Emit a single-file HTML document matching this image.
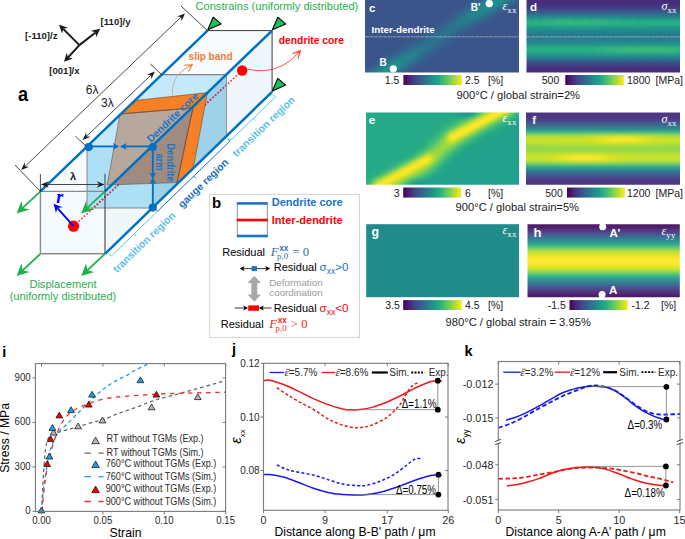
<!DOCTYPE html>
<html><head><meta charset="utf-8"><style>html,body{margin:0;padding:0;background:#fff;width:685px;height:539px;overflow:hidden}svg{display:block}</style></head>
<body><svg width="685" height="539" viewBox="0 0 685 539"><defs><clipPath id="hc1"><rect x="365" y="-1" width="154" height="73.6"/></clipPath><filter id="hf1" x="-10%" y="-10%" width="120%" height="120%"><feGaussianBlur stdDeviation="1.6"/></filter><clipPath id="hc2"><rect x="526.5" y="-1" width="153.5" height="73.6"/></clipPath><filter id="hf2" x="-10%" y="-10%" width="120%" height="120%"><feGaussianBlur stdDeviation="1.6"/></filter><clipPath id="hc3"><rect x="366" y="112.6" width="153" height="72.2"/></clipPath><filter id="hf3" x="-10%" y="-10%" width="120%" height="120%"><feGaussianBlur stdDeviation="1.6"/></filter><clipPath id="hc4"><rect x="526" y="112.4" width="154" height="72.4"/></clipPath><filter id="hf4" x="-10%" y="-10%" width="120%" height="120%"><feGaussianBlur stdDeviation="1.6"/></filter><clipPath id="hc5"><rect x="527.5" y="224.3" width="152.3" height="73"/></clipPath><filter id="hf5" x="-10%" y="-10%" width="120%" height="120%"><feGaussianBlur stdDeviation="0.8"/></filter><linearGradient id="cb10" x1="0" y1="0" x2="1" y2="0"><stop offset="0.00" stop-color="#440154"/><stop offset="0.10" stop-color="#482475"/><stop offset="0.20" stop-color="#414487"/><stop offset="0.30" stop-color="#355f8d"/><stop offset="0.40" stop-color="#2a788e"/><stop offset="0.50" stop-color="#21918c"/><stop offset="0.60" stop-color="#22a884"/><stop offset="0.70" stop-color="#44bf70"/><stop offset="0.80" stop-color="#7ad151"/><stop offset="0.90" stop-color="#bddf26"/><stop offset="1.00" stop-color="#fde725"/></linearGradient><linearGradient id="cb11" x1="0" y1="0" x2="1" y2="0"><stop offset="0.00" stop-color="#440154"/><stop offset="0.10" stop-color="#482475"/><stop offset="0.20" stop-color="#414487"/><stop offset="0.30" stop-color="#355f8d"/><stop offset="0.40" stop-color="#2a788e"/><stop offset="0.50" stop-color="#21918c"/><stop offset="0.60" stop-color="#22a884"/><stop offset="0.70" stop-color="#44bf70"/><stop offset="0.80" stop-color="#7ad151"/><stop offset="0.90" stop-color="#bddf26"/><stop offset="1.00" stop-color="#fde725"/></linearGradient><linearGradient id="cb12" x1="0" y1="0" x2="1" y2="0"><stop offset="0.00" stop-color="#440154"/><stop offset="0.10" stop-color="#482475"/><stop offset="0.20" stop-color="#414487"/><stop offset="0.30" stop-color="#355f8d"/><stop offset="0.40" stop-color="#2a788e"/><stop offset="0.50" stop-color="#21918c"/><stop offset="0.60" stop-color="#22a884"/><stop offset="0.70" stop-color="#44bf70"/><stop offset="0.80" stop-color="#7ad151"/><stop offset="0.90" stop-color="#bddf26"/><stop offset="1.00" stop-color="#fde725"/></linearGradient><linearGradient id="cb13" x1="0" y1="0" x2="1" y2="0"><stop offset="0.00" stop-color="#440154"/><stop offset="0.10" stop-color="#482475"/><stop offset="0.20" stop-color="#414487"/><stop offset="0.30" stop-color="#355f8d"/><stop offset="0.40" stop-color="#2a788e"/><stop offset="0.50" stop-color="#21918c"/><stop offset="0.60" stop-color="#22a884"/><stop offset="0.70" stop-color="#44bf70"/><stop offset="0.80" stop-color="#7ad151"/><stop offset="0.90" stop-color="#bddf26"/><stop offset="1.00" stop-color="#fde725"/></linearGradient><linearGradient id="cb14" x1="0" y1="0" x2="1" y2="0"><stop offset="0.00" stop-color="#440154"/><stop offset="0.10" stop-color="#482475"/><stop offset="0.20" stop-color="#414487"/><stop offset="0.30" stop-color="#355f8d"/><stop offset="0.40" stop-color="#2a788e"/><stop offset="0.50" stop-color="#21918c"/><stop offset="0.60" stop-color="#22a884"/><stop offset="0.70" stop-color="#44bf70"/><stop offset="0.80" stop-color="#7ad151"/><stop offset="0.90" stop-color="#bddf26"/><stop offset="1.00" stop-color="#fde725"/></linearGradient><linearGradient id="cb15" x1="0" y1="0" x2="1" y2="0"><stop offset="0.00" stop-color="#440154"/><stop offset="0.10" stop-color="#482475"/><stop offset="0.20" stop-color="#414487"/><stop offset="0.30" stop-color="#355f8d"/><stop offset="0.40" stop-color="#2a788e"/><stop offset="0.50" stop-color="#21918c"/><stop offset="0.60" stop-color="#22a884"/><stop offset="0.70" stop-color="#44bf70"/><stop offset="0.80" stop-color="#7ad151"/><stop offset="0.90" stop-color="#bddf26"/><stop offset="1.00" stop-color="#fde725"/></linearGradient><clipPath id="gaugeclip"><polygon points="87.00,208.00 87.00,146.50 161.70,74.70 226.50,74.70 226.50,136.80 152.80,208.00"/></clipPath><clipPath id="aboveL2"><polygon points="0,0 300,0 300,3.75 0,292.44"/></clipPath><clipPath id="belowL2"><polygon points="0,400 300,400 300,3.75 0,292.44"/></clipPath><clipPath id="ci"><rect x="35.4" y="363.6" width="190.2" height="147.8"/></clipPath><clipPath id="cj"><rect x="263.5" y="363.3" width="184.5" height="147"/></clipPath><clipPath id="ck"><rect x="498.3" y="361.5" width="181.7" height="148.5"/></clipPath></defs><g clip-path="url(#hc1)"><g filter="url(#hf1)"><rect x="359.0" y="-7.0" width="114.3" height="3.3" fill="#3a548c"/><rect x="473.0" y="-7.0" width="6.3" height="3.3" fill="#39558c"/><rect x="479.0" y="-7.0" width="3.3" height="3.3" fill="#38588c"/><rect x="482.0" y="-7.0" width="3.3" height="3.3" fill="#375a8c"/><rect x="485.0" y="-7.0" width="3.3" height="3.3" fill="#355e8d"/><rect x="488.0" y="-7.0" width="3.3" height="3.3" fill="#32648e"/><rect x="491.0" y="-7.0" width="3.3" height="3.3" fill="#2e6d8e"/><rect x="494.0" y="-7.0" width="3.3" height="3.3" fill="#2a768e"/><rect x="497.0" y="-7.0" width="3.3" height="3.3" fill="#27808e"/><rect x="500.0" y="-7.0" width="3.3" height="3.3" fill="#23898e"/><rect x="503.0" y="-7.0" width="3.3" height="3.3" fill="#218f8d"/><rect x="506.0" y="-7.0" width="3.3" height="3.3" fill="#21918c"/><rect x="509.0" y="-7.0" width="3.3" height="3.3" fill="#218e8d"/><rect x="512.0" y="-7.0" width="3.3" height="3.3" fill="#24878e"/><rect x="515.0" y="-7.0" width="3.3" height="3.3" fill="#277e8e"/><rect x="518.0" y="-7.0" width="3.3" height="3.3" fill="#2b748e"/><rect x="521.0" y="-7.0" width="3.3" height="3.3" fill="#2f6b8e"/><rect x="524.0" y="-7.0" width="3.3" height="3.3" fill="#33638d"/><rect x="359.0" y="-4.0" width="111.3" height="3.3" fill="#3a548c"/><rect x="470.0" y="-4.0" width="3.3" height="3.3" fill="#39558c"/><rect x="473.0" y="-4.0" width="3.3" height="3.3" fill="#39568c"/><rect x="476.0" y="-4.0" width="3.3" height="3.3" fill="#38598c"/><rect x="479.0" y="-4.0" width="3.3" height="3.3" fill="#365d8d"/><rect x="482.0" y="-4.0" width="3.3" height="3.3" fill="#33628d"/><rect x="485.0" y="-4.0" width="3.3" height="3.3" fill="#306a8e"/><rect x="488.0" y="-4.0" width="3.3" height="3.3" fill="#2c728e"/><rect x="491.0" y="-4.0" width="3.3" height="3.3" fill="#287d8e"/><rect x="494.0" y="-4.0" width="3.3" height="3.3" fill="#24868e"/><rect x="497.0" y="-4.0" width="3.3" height="3.3" fill="#218e8d"/><rect x="500.0" y="-4.0" width="6.3" height="3.3" fill="#20928c"/><rect x="506.0" y="-4.0" width="3.3" height="3.3" fill="#228c8d"/><rect x="509.0" y="-4.0" width="3.3" height="3.3" fill="#25838e"/><rect x="512.0" y="-4.0" width="3.3" height="3.3" fill="#29798e"/><rect x="515.0" y="-4.0" width="3.3" height="3.3" fill="#2d708e"/><rect x="518.0" y="-4.0" width="3.3" height="3.3" fill="#31678e"/><rect x="521.0" y="-4.0" width="3.3" height="3.3" fill="#34608d"/><rect x="524.0" y="-4.0" width="3.3" height="3.3" fill="#375b8d"/><rect x="359.0" y="-1.0" width="105.3" height="3.3" fill="#3a548c"/><rect x="464.0" y="-1.0" width="3.3" height="3.3" fill="#39558c"/><rect x="467.0" y="-1.0" width="3.3" height="3.3" fill="#39568c"/><rect x="470.0" y="-1.0" width="3.3" height="3.3" fill="#38588c"/><rect x="473.0" y="-1.0" width="3.3" height="3.3" fill="#375b8d"/><rect x="476.0" y="-1.0" width="3.3" height="3.3" fill="#355f8d"/><rect x="479.0" y="-1.0" width="3.3" height="3.3" fill="#31668e"/><rect x="482.0" y="-1.0" width="3.3" height="3.3" fill="#2e6f8e"/><rect x="485.0" y="-1.0" width="3.3" height="3.3" fill="#29798e"/><rect x="488.0" y="-1.0" width="3.3" height="3.3" fill="#26828e"/><rect x="491.0" y="-1.0" width="3.3" height="3.3" fill="#228c8d"/><rect x="494.0" y="-1.0" width="6.3" height="3.3" fill="#20928c"/><rect x="500.0" y="-1.0" width="3.3" height="3.3" fill="#218f8d"/><rect x="503.0" y="-1.0" width="3.3" height="3.3" fill="#24878e"/><rect x="506.0" y="-1.0" width="3.3" height="3.3" fill="#277e8e"/><rect x="509.0" y="-1.0" width="3.3" height="3.3" fill="#2c738e"/><rect x="512.0" y="-1.0" width="3.3" height="3.3" fill="#306a8e"/><rect x="515.0" y="-1.0" width="3.3" height="3.3" fill="#33628d"/><rect x="518.0" y="-1.0" width="3.3" height="3.3" fill="#365d8d"/><rect x="521.0" y="-1.0" width="3.3" height="3.3" fill="#38598c"/><rect x="524.0" y="-1.0" width="3.3" height="3.3" fill="#39568c"/><rect x="359.0" y="2.0" width="99.3" height="3.3" fill="#3a548c"/><rect x="458.0" y="2.0" width="6.3" height="3.3" fill="#39558c"/><rect x="464.0" y="2.0" width="3.3" height="3.3" fill="#39568c"/><rect x="467.0" y="2.0" width="3.3" height="3.3" fill="#375a8c"/><rect x="470.0" y="2.0" width="3.3" height="3.3" fill="#365d8d"/><rect x="473.0" y="2.0" width="3.3" height="3.3" fill="#33638d"/><rect x="476.0" y="2.0" width="3.3" height="3.3" fill="#2f6b8e"/><rect x="479.0" y="2.0" width="3.3" height="3.3" fill="#2b748e"/><rect x="482.0" y="2.0" width="3.3" height="3.3" fill="#277f8e"/><rect x="485.0" y="2.0" width="3.3" height="3.3" fill="#23888e"/><rect x="488.0" y="2.0" width="3.3" height="3.3" fill="#218f8d"/><rect x="491.0" y="2.0" width="3.3" height="3.3" fill="#20928c"/><rect x="494.0" y="2.0" width="3.3" height="3.3" fill="#21908d"/><rect x="497.0" y="2.0" width="3.3" height="3.3" fill="#238a8d"/><rect x="500.0" y="2.0" width="3.3" height="3.3" fill="#26828e"/><rect x="503.0" y="2.0" width="3.3" height="3.3" fill="#2a778e"/><rect x="506.0" y="2.0" width="3.3" height="3.3" fill="#2e6e8e"/><rect x="509.0" y="2.0" width="3.3" height="3.3" fill="#32658e"/><rect x="512.0" y="2.0" width="3.3" height="3.3" fill="#355f8d"/><rect x="515.0" y="2.0" width="3.3" height="3.3" fill="#375a8c"/><rect x="518.0" y="2.0" width="3.3" height="3.3" fill="#38588c"/><rect x="521.0" y="2.0" width="6.3" height="3.3" fill="#39558c"/><rect x="359.0" y="5.0" width="96.3" height="3.3" fill="#3a548c"/><rect x="455.0" y="5.0" width="3.3" height="3.3" fill="#39558c"/><rect x="458.0" y="5.0" width="3.3" height="3.3" fill="#39568c"/><rect x="461.0" y="5.0" width="3.3" height="3.3" fill="#38588c"/><rect x="464.0" y="5.0" width="3.3" height="3.3" fill="#375b8d"/><rect x="467.0" y="5.0" width="3.3" height="3.3" fill="#34608d"/><rect x="470.0" y="5.0" width="3.3" height="3.3" fill="#31678e"/><rect x="473.0" y="5.0" width="3.3" height="3.3" fill="#2d708e"/><rect x="476.0" y="5.0" width="3.3" height="3.3" fill="#29798e"/><rect x="479.0" y="5.0" width="3.3" height="3.3" fill="#26828e"/><rect x="482.0" y="5.0" width="3.3" height="3.3" fill="#228b8d"/><rect x="485.0" y="5.0" width="6.3" height="3.3" fill="#21908d"/><rect x="491.0" y="5.0" width="3.3" height="3.3" fill="#228b8d"/><rect x="494.0" y="5.0" width="3.3" height="3.3" fill="#25838e"/><rect x="497.0" y="5.0" width="3.3" height="3.3" fill="#297a8e"/><rect x="500.0" y="5.0" width="3.3" height="3.3" fill="#2d718e"/><rect x="503.0" y="5.0" width="3.3" height="3.3" fill="#31688e"/><rect x="506.0" y="5.0" width="3.3" height="3.3" fill="#34618d"/><rect x="509.0" y="5.0" width="3.3" height="3.3" fill="#365c8d"/><rect x="512.0" y="5.0" width="3.3" height="3.3" fill="#38598c"/><rect x="515.0" y="5.0" width="3.3" height="3.3" fill="#39568c"/><rect x="518.0" y="5.0" width="3.3" height="3.3" fill="#39558c"/><rect x="521.0" y="5.0" width="6.3" height="3.3" fill="#3a548c"/><rect x="359.0" y="8.0" width="90.3" height="3.3" fill="#3a548c"/><rect x="449.0" y="8.0" width="6.3" height="3.3" fill="#39558c"/><rect x="455.0" y="8.0" width="3.3" height="3.3" fill="#39568c"/><rect x="458.0" y="8.0" width="3.3" height="3.3" fill="#375a8c"/><rect x="461.0" y="8.0" width="3.3" height="3.3" fill="#365d8d"/><rect x="464.0" y="8.0" width="3.3" height="3.3" fill="#33638d"/><rect x="467.0" y="8.0" width="3.3" height="3.3" fill="#2f6b8e"/><rect x="470.0" y="8.0" width="3.3" height="3.3" fill="#2c738e"/><rect x="473.0" y="8.0" width="3.3" height="3.3" fill="#287d8e"/><rect x="476.0" y="8.0" width="3.3" height="3.3" fill="#25858e"/><rect x="479.0" y="8.0" width="3.3" height="3.3" fill="#228b8d"/><rect x="482.0" y="8.0" width="3.3" height="3.3" fill="#228d8d"/><rect x="485.0" y="8.0" width="3.3" height="3.3" fill="#228b8d"/><rect x="488.0" y="8.0" width="3.3" height="3.3" fill="#25848e"/><rect x="491.0" y="8.0" width="3.3" height="3.3" fill="#287c8e"/><rect x="494.0" y="8.0" width="3.3" height="3.3" fill="#2c728e"/><rect x="497.0" y="8.0" width="3.3" height="3.3" fill="#306a8e"/><rect x="500.0" y="8.0" width="3.3" height="3.3" fill="#33638d"/><rect x="503.0" y="8.0" width="3.3" height="3.3" fill="#365d8d"/><rect x="506.0" y="8.0" width="3.3" height="3.3" fill="#38598c"/><rect x="509.0" y="8.0" width="3.3" height="3.3" fill="#39568c"/><rect x="512.0" y="8.0" width="6.3" height="3.3" fill="#39558c"/><rect x="518.0" y="8.0" width="9.3" height="3.3" fill="#3a548c"/><rect x="359.0" y="11.0" width="87.3" height="3.3" fill="#3a548c"/><rect x="446.0" y="11.0" width="3.3" height="3.3" fill="#39558c"/><rect x="449.0" y="11.0" width="3.3" height="3.3" fill="#39568c"/><rect x="452.0" y="11.0" width="3.3" height="3.3" fill="#38588c"/><rect x="455.0" y="11.0" width="3.3" height="3.3" fill="#375b8d"/><rect x="458.0" y="11.0" width="3.3" height="3.3" fill="#34608d"/><rect x="461.0" y="11.0" width="3.3" height="3.3" fill="#31668e"/><rect x="464.0" y="11.0" width="3.3" height="3.3" fill="#2e6e8e"/><rect x="467.0" y="11.0" width="3.3" height="3.3" fill="#2a778e"/><rect x="470.0" y="11.0" width="3.3" height="3.3" fill="#27808e"/><rect x="473.0" y="11.0" width="3.3" height="3.3" fill="#24868e"/><rect x="476.0" y="11.0" width="6.3" height="3.3" fill="#23898e"/><rect x="482.0" y="11.0" width="3.3" height="3.3" fill="#25848e"/><rect x="485.0" y="11.0" width="3.3" height="3.3" fill="#287d8e"/><rect x="488.0" y="11.0" width="3.3" height="3.3" fill="#2b748e"/><rect x="491.0" y="11.0" width="3.3" height="3.3" fill="#2f6c8e"/><rect x="494.0" y="11.0" width="3.3" height="3.3" fill="#32648e"/><rect x="497.0" y="11.0" width="3.3" height="3.3" fill="#355e8d"/><rect x="500.0" y="11.0" width="3.3" height="3.3" fill="#375a8c"/><rect x="503.0" y="11.0" width="3.3" height="3.3" fill="#38588c"/><rect x="506.0" y="11.0" width="6.3" height="3.3" fill="#39558c"/><rect x="512.0" y="11.0" width="15.3" height="3.3" fill="#3a548c"/><rect x="359.0" y="14.0" width="81.3" height="3.3" fill="#3a548c"/><rect x="440.0" y="14.0" width="6.3" height="3.3" fill="#39558c"/><rect x="446.0" y="14.0" width="3.3" height="3.3" fill="#39568c"/><rect x="449.0" y="14.0" width="3.3" height="3.3" fill="#375a8c"/><rect x="452.0" y="14.0" width="3.3" height="3.3" fill="#365d8d"/><rect x="455.0" y="14.0" width="3.3" height="3.3" fill="#33628d"/><rect x="458.0" y="14.0" width="3.3" height="3.3" fill="#30698e"/><rect x="461.0" y="14.0" width="3.3" height="3.3" fill="#2d718e"/><rect x="464.0" y="14.0" width="3.3" height="3.3" fill="#29798e"/><rect x="467.0" y="14.0" width="3.3" height="3.3" fill="#27808e"/><rect x="470.0" y="14.0" width="3.3" height="3.3" fill="#25848e"/><rect x="473.0" y="14.0" width="3.3" height="3.3" fill="#25858e"/><rect x="476.0" y="14.0" width="3.3" height="3.3" fill="#26828e"/><rect x="479.0" y="14.0" width="3.3" height="3.3" fill="#287d8e"/><rect x="482.0" y="14.0" width="3.3" height="3.3" fill="#2b758e"/><rect x="485.0" y="14.0" width="3.3" height="3.3" fill="#2e6e8e"/><rect x="488.0" y="14.0" width="3.3" height="3.3" fill="#31668e"/><rect x="491.0" y="14.0" width="3.3" height="3.3" fill="#34608d"/><rect x="494.0" y="14.0" width="3.3" height="3.3" fill="#375b8d"/><rect x="497.0" y="14.0" width="3.3" height="3.3" fill="#38588c"/><rect x="500.0" y="14.0" width="3.3" height="3.3" fill="#39568c"/><rect x="503.0" y="14.0" width="3.3" height="3.3" fill="#39558c"/><rect x="506.0" y="14.0" width="21.3" height="3.3" fill="#3a548c"/><rect x="359.0" y="17.0" width="78.3" height="3.3" fill="#3a548c"/><rect x="437.0" y="17.0" width="3.3" height="3.3" fill="#39558c"/><rect x="440.0" y="17.0" width="3.3" height="3.3" fill="#39568c"/><rect x="443.0" y="17.0" width="3.3" height="3.3" fill="#38588c"/><rect x="446.0" y="17.0" width="3.3" height="3.3" fill="#375b8d"/><rect x="449.0" y="17.0" width="3.3" height="3.3" fill="#355f8d"/><rect x="452.0" y="17.0" width="3.3" height="3.3" fill="#32658e"/><rect x="455.0" y="17.0" width="3.3" height="3.3" fill="#2f6c8e"/><rect x="458.0" y="17.0" width="3.3" height="3.3" fill="#2c728e"/><rect x="461.0" y="17.0" width="3.3" height="3.3" fill="#297a8e"/><rect x="464.0" y="17.0" width="3.3" height="3.3" fill="#277f8e"/><rect x="467.0" y="17.0" width="3.3" height="3.3" fill="#26828e"/><rect x="470.0" y="17.0" width="3.3" height="3.3" fill="#27808e"/><rect x="473.0" y="17.0" width="3.3" height="3.3" fill="#287c8e"/><rect x="476.0" y="17.0" width="3.3" height="3.3" fill="#2b758e"/><rect x="479.0" y="17.0" width="3.3" height="3.3" fill="#2e6f8e"/><rect x="482.0" y="17.0" width="3.3" height="3.3" fill="#31678e"/><rect x="485.0" y="17.0" width="3.3" height="3.3" fill="#34618d"/><rect x="488.0" y="17.0" width="3.3" height="3.3" fill="#365c8d"/><rect x="491.0" y="17.0" width="3.3" height="3.3" fill="#38598c"/><rect x="494.0" y="17.0" width="3.3" height="3.3" fill="#39568c"/><rect x="497.0" y="17.0" width="3.3" height="3.3" fill="#39558c"/><rect x="500.0" y="17.0" width="27.3" height="3.3" fill="#3a548c"/><rect x="359.0" y="20.0" width="72.3" height="3.3" fill="#3a548c"/><rect x="431.0" y="20.0" width="6.3" height="3.3" fill="#39558c"/><rect x="437.0" y="20.0" width="3.3" height="3.3" fill="#39568c"/><rect x="440.0" y="20.0" width="3.3" height="3.3" fill="#38598c"/><rect x="443.0" y="20.0" width="3.3" height="3.3" fill="#365c8d"/><rect x="446.0" y="20.0" width="3.3" height="3.3" fill="#34618d"/><rect x="449.0" y="20.0" width="3.3" height="3.3" fill="#31678e"/><rect x="452.0" y="20.0" width="3.3" height="3.3" fill="#2e6d8e"/><rect x="455.0" y="20.0" width="3.3" height="3.3" fill="#2c738e"/><rect x="458.0" y="20.0" width="3.3" height="3.3" fill="#29798e"/><rect x="461.0" y="20.0" width="3.3" height="3.3" fill="#287c8e"/><rect x="464.0" y="20.0" width="3.3" height="3.3" fill="#287d8e"/><rect x="467.0" y="20.0" width="3.3" height="3.3" fill="#297a8e"/><rect x="470.0" y="20.0" width="3.3" height="3.3" fill="#2b758e"/><rect x="473.0" y="20.0" width="3.3" height="3.3" fill="#2e6f8e"/><rect x="476.0" y="20.0" width="3.3" height="3.3" fill="#31688e"/><rect x="479.0" y="20.0" width="3.3" height="3.3" fill="#33628d"/><rect x="482.0" y="20.0" width="3.3" height="3.3" fill="#365d8d"/><rect x="485.0" y="20.0" width="3.3" height="3.3" fill="#375a8c"/><rect x="488.0" y="20.0" width="3.3" height="3.3" fill="#38588c"/><rect x="491.0" y="20.0" width="6.3" height="3.3" fill="#39558c"/><rect x="497.0" y="20.0" width="30.3" height="3.3" fill="#3a548c"/><rect x="359.0" y="23.0" width="69.3" height="3.3" fill="#3a548c"/><rect x="428.0" y="23.0" width="6.3" height="3.3" fill="#39558c"/><rect x="434.0" y="23.0" width="3.3" height="3.3" fill="#38588c"/><rect x="437.0" y="23.0" width="3.3" height="3.3" fill="#375a8c"/><rect x="440.0" y="23.0" width="3.3" height="3.3" fill="#355e8d"/><rect x="443.0" y="23.0" width="3.3" height="3.3" fill="#33638d"/><rect x="446.0" y="23.0" width="3.3" height="3.3" fill="#31688e"/><rect x="449.0" y="23.0" width="3.3" height="3.3" fill="#2e6f8e"/><rect x="452.0" y="23.0" width="3.3" height="3.3" fill="#2c738e"/><rect x="455.0" y="23.0" width="3.3" height="3.3" fill="#2a778e"/><rect x="458.0" y="23.0" width="3.3" height="3.3" fill="#29798e"/><rect x="461.0" y="23.0" width="3.3" height="3.3" fill="#2a778e"/><rect x="464.0" y="23.0" width="3.3" height="3.3" fill="#2c738e"/><rect x="467.0" y="23.0" width="3.3" height="3.3" fill="#2e6f8e"/><rect x="470.0" y="23.0" width="3.3" height="3.3" fill="#31688e"/><rect x="473.0" y="23.0" width="3.3" height="3.3" fill="#33638d"/><rect x="476.0" y="23.0" width="3.3" height="3.3" fill="#355e8d"/><rect x="479.0" y="23.0" width="3.3" height="3.3" fill="#375a8c"/><rect x="482.0" y="23.0" width="3.3" height="3.3" fill="#38588c"/><rect x="485.0" y="23.0" width="3.3" height="3.3" fill="#39568c"/><rect x="488.0" y="23.0" width="3.3" height="3.3" fill="#39558c"/><rect x="491.0" y="23.0" width="36.3" height="3.3" fill="#3a548c"/><rect x="359.0" y="26.0" width="66.3" height="3.3" fill="#3a548c"/><rect x="425.0" y="26.0" width="3.3" height="3.3" fill="#39558c"/><rect x="428.0" y="26.0" width="3.3" height="3.3" fill="#39568c"/><rect x="431.0" y="26.0" width="3.3" height="3.3" fill="#38598c"/><rect x="434.0" y="26.0" width="3.3" height="3.3" fill="#375b8d"/><rect x="437.0" y="26.0" width="3.3" height="3.3" fill="#355f8d"/><rect x="440.0" y="26.0" width="3.3" height="3.3" fill="#32648e"/><rect x="443.0" y="26.0" width="3.3" height="3.3" fill="#306a8e"/><rect x="446.0" y="26.0" width="3.3" height="3.3" fill="#2e6f8e"/><rect x="449.0" y="26.0" width="3.3" height="3.3" fill="#2c738e"/><rect x="452.0" y="26.0" width="6.3" height="3.3" fill="#2b758e"/><rect x="458.0" y="26.0" width="3.3" height="3.3" fill="#2c728e"/><rect x="461.0" y="26.0" width="3.3" height="3.3" fill="#2e6e8e"/><rect x="464.0" y="26.0" width="3.3" height="3.3" fill="#30698e"/><rect x="467.0" y="26.0" width="3.3" height="3.3" fill="#33638d"/><rect x="470.0" y="26.0" width="3.3" height="3.3" fill="#355f8d"/><rect x="473.0" y="26.0" width="3.3" height="3.3" fill="#375b8d"/><rect x="476.0" y="26.0" width="3.3" height="3.3" fill="#38588c"/><rect x="479.0" y="26.0" width="3.3" height="3.3" fill="#39568c"/><rect x="482.0" y="26.0" width="3.3" height="3.3" fill="#39558c"/><rect x="485.0" y="26.0" width="42.3" height="3.3" fill="#3a548c"/><rect x="359.0" y="29.0" width="60.3" height="3.3" fill="#3a548c"/><rect x="419.0" y="29.0" width="6.3" height="3.3" fill="#39558c"/><rect x="425.0" y="29.0" width="3.3" height="3.3" fill="#38588c"/><rect x="428.0" y="29.0" width="3.3" height="3.3" fill="#375a8c"/><rect x="431.0" y="29.0" width="3.3" height="3.3" fill="#365d8d"/><rect x="434.0" y="29.0" width="3.3" height="3.3" fill="#34618d"/><rect x="437.0" y="29.0" width="3.3" height="3.3" fill="#31668e"/><rect x="440.0" y="29.0" width="3.3" height="3.3" fill="#2f6b8e"/><rect x="443.0" y="29.0" width="3.3" height="3.3" fill="#2d708e"/><rect x="446.0" y="29.0" width="6.3" height="3.3" fill="#2c728e"/><rect x="452.0" y="29.0" width="3.3" height="3.3" fill="#2c718e"/><rect x="455.0" y="29.0" width="3.3" height="3.3" fill="#2e6e8e"/><rect x="458.0" y="29.0" width="3.3" height="3.3" fill="#30698e"/><rect x="461.0" y="29.0" width="3.3" height="3.3" fill="#32648e"/><rect x="464.0" y="29.0" width="3.3" height="3.3" fill="#355f8d"/><rect x="467.0" y="29.0" width="3.3" height="3.3" fill="#365c8d"/><rect x="470.0" y="29.0" width="3.3" height="3.3" fill="#38598c"/><rect x="473.0" y="29.0" width="3.3" height="3.3" fill="#39568c"/><rect x="476.0" y="29.0" width="6.3" height="3.3" fill="#39558c"/><rect x="482.0" y="29.0" width="45.3" height="3.3" fill="#3a548c"/><rect x="359.0" y="32.0" width="57.3" height="3.3" fill="#3a548c"/><rect x="416.0" y="32.0" width="3.3" height="3.3" fill="#39558c"/><rect x="419.0" y="32.0" width="3.3" height="3.3" fill="#39568c"/><rect x="422.0" y="32.0" width="3.3" height="3.3" fill="#38598c"/><rect x="425.0" y="32.0" width="3.3" height="3.3" fill="#375b8d"/><rect x="428.0" y="32.0" width="3.3" height="3.3" fill="#355f8d"/><rect x="431.0" y="32.0" width="3.3" height="3.3" fill="#33638d"/><rect x="434.0" y="32.0" width="3.3" height="3.3" fill="#31688e"/><rect x="437.0" y="32.0" width="3.3" height="3.3" fill="#2e6d8e"/><rect x="440.0" y="32.0" width="3.3" height="3.3" fill="#2d708e"/><rect x="443.0" y="32.0" width="3.3" height="3.3" fill="#2c718e"/><rect x="446.0" y="32.0" width="3.3" height="3.3" fill="#2d718e"/><rect x="449.0" y="32.0" width="3.3" height="3.3" fill="#2e6e8e"/><rect x="452.0" y="32.0" width="3.3" height="3.3" fill="#306a8e"/><rect x="455.0" y="32.0" width="3.3" height="3.3" fill="#32658e"/><rect x="458.0" y="32.0" width="3.3" height="3.3" fill="#34618d"/><rect x="461.0" y="32.0" width="3.3" height="3.3" fill="#365d8d"/><rect x="464.0" y="32.0" width="3.3" height="3.3" fill="#375a8c"/><rect x="467.0" y="32.0" width="3.3" height="3.3" fill="#38588c"/><rect x="470.0" y="32.0" width="6.3" height="3.3" fill="#39558c"/><rect x="476.0" y="32.0" width="51.3" height="3.3" fill="#3a548c"/><rect x="359.0" y="35.0" width="51.3" height="3.3" fill="#3a548c"/><rect x="410.0" y="35.0" width="6.3" height="3.3" fill="#39558c"/><rect x="416.0" y="35.0" width="3.3" height="3.3" fill="#38588c"/><rect x="419.0" y="35.0" width="3.3" height="3.3" fill="#375a8c"/><rect x="422.0" y="35.0" width="3.3" height="3.3" fill="#365d8d"/><rect x="425.0" y="35.0" width="3.3" height="3.3" fill="#34618d"/><rect x="428.0" y="35.0" width="3.3" height="3.3" fill="#31668e"/><rect x="431.0" y="35.0" width="3.3" height="3.3" fill="#306a8e"/><rect x="434.0" y="35.0" width="3.3" height="3.3" fill="#2e6e8e"/><rect x="437.0" y="35.0" width="6.3" height="3.3" fill="#2d718e"/><rect x="443.0" y="35.0" width="3.3" height="3.3" fill="#2e6f8e"/><rect x="446.0" y="35.0" width="3.3" height="3.3" fill="#2f6c8e"/><rect x="449.0" y="35.0" width="3.3" height="3.3" fill="#31678e"/><rect x="452.0" y="35.0" width="3.3" height="3.3" fill="#33628d"/><rect x="455.0" y="35.0" width="3.3" height="3.3" fill="#355e8d"/><rect x="458.0" y="35.0" width="3.3" height="3.3" fill="#375b8d"/><rect x="461.0" y="35.0" width="3.3" height="3.3" fill="#38588c"/><rect x="464.0" y="35.0" width="3.3" height="3.3" fill="#39568c"/><rect x="467.0" y="35.0" width="3.3" height="3.3" fill="#39558c"/><rect x="470.0" y="35.0" width="57.3" height="3.3" fill="#3a548c"/><rect x="359.0" y="38.0" width="45.3" height="3.3" fill="#3a548c"/><rect x="404.0" y="38.0" width="6.3" height="3.3" fill="#39558c"/><rect x="410.0" y="38.0" width="3.3" height="3.3" fill="#39568c"/><rect x="413.0" y="38.0" width="3.3" height="3.3" fill="#38598c"/><rect x="416.0" y="38.0" width="3.3" height="3.3" fill="#365c8d"/><rect x="419.0" y="38.0" width="3.3" height="3.3" fill="#355f8d"/><rect x="422.0" y="38.0" width="3.3" height="3.3" fill="#32648e"/><rect x="425.0" y="38.0" width="3.3" height="3.3" fill="#30698e"/><rect x="428.0" y="38.0" width="3.3" height="3.3" fill="#2e6d8e"/><rect x="431.0" y="38.0" width="3.3" height="3.3" fill="#2d718e"/><rect x="434.0" y="38.0" width="3.3" height="3.3" fill="#2c718e"/><rect x="437.0" y="38.0" width="3.3" height="3.3" fill="#2d718e"/><rect x="440.0" y="38.0" width="3.3" height="3.3" fill="#2e6e8e"/><rect x="443.0" y="38.0" width="3.3" height="3.3" fill="#30698e"/><rect x="446.0" y="38.0" width="3.3" height="3.3" fill="#32658e"/><rect x="449.0" y="38.0" width="3.3" height="3.3" fill="#34608d"/><rect x="452.0" y="38.0" width="3.3" height="3.3" fill="#365c8d"/><rect x="455.0" y="38.0" width="3.3" height="3.3" fill="#38598c"/><rect x="458.0" y="38.0" width="3.3" height="3.3" fill="#39568c"/><rect x="461.0" y="38.0" width="6.3" height="3.3" fill="#39558c"/><rect x="467.0" y="38.0" width="60.3" height="3.3" fill="#3a548c"/><rect x="359.0" y="41.0" width="42.3" height="3.3" fill="#3a548c"/><rect x="401.0" y="41.0" width="3.3" height="3.3" fill="#39558c"/><rect x="404.0" y="41.0" width="3.3" height="3.3" fill="#39568c"/><rect x="407.0" y="41.0" width="3.3" height="3.3" fill="#38588c"/><rect x="410.0" y="41.0" width="3.3" height="3.3" fill="#375b8d"/><rect x="413.0" y="41.0" width="3.3" height="3.3" fill="#355e8d"/><rect x="416.0" y="41.0" width="3.3" height="3.3" fill="#33638d"/><rect x="419.0" y="41.0" width="3.3" height="3.3" fill="#31688e"/><rect x="422.0" y="41.0" width="3.3" height="3.3" fill="#2e6d8e"/><rect x="425.0" y="41.0" width="3.3" height="3.3" fill="#2d718e"/><rect x="428.0" y="41.0" width="6.3" height="3.3" fill="#2c728e"/><rect x="434.0" y="41.0" width="3.3" height="3.3" fill="#2d718e"/><rect x="437.0" y="41.0" width="3.3" height="3.3" fill="#2e6d8e"/><rect x="440.0" y="41.0" width="3.3" height="3.3" fill="#31688e"/><rect x="443.0" y="41.0" width="3.3" height="3.3" fill="#33638d"/><rect x="446.0" y="41.0" width="3.3" height="3.3" fill="#355e8d"/><rect x="449.0" y="41.0" width="3.3" height="3.3" fill="#375b8d"/><rect x="452.0" y="41.0" width="3.3" height="3.3" fill="#38588c"/><rect x="455.0" y="41.0" width="3.3" height="3.3" fill="#39568c"/><rect x="458.0" y="41.0" width="3.3" height="3.3" fill="#39558c"/><rect x="461.0" y="41.0" width="66.3" height="3.3" fill="#3a548c"/><rect x="359.0" y="44.0" width="36.3" height="3.3" fill="#3a548c"/><rect x="395.0" y="44.0" width="3.3" height="3.3" fill="#39558c"/><rect x="398.0" y="44.0" width="3.3" height="3.3" fill="#39568c"/><rect x="401.0" y="44.0" width="3.3" height="3.3" fill="#38588c"/><rect x="404.0" y="44.0" width="3.3" height="3.3" fill="#375a8c"/><rect x="407.0" y="44.0" width="3.3" height="3.3" fill="#355e8d"/><rect x="410.0" y="44.0" width="3.3" height="3.3" fill="#33628d"/><rect x="413.0" y="44.0" width="3.3" height="3.3" fill="#31678e"/><rect x="416.0" y="44.0" width="3.3" height="3.3" fill="#2e6d8e"/><rect x="419.0" y="44.0" width="3.3" height="3.3" fill="#2c718e"/><rect x="422.0" y="44.0" width="3.3" height="3.3" fill="#2b758e"/><rect x="425.0" y="44.0" width="3.3" height="3.3" fill="#2a768e"/><rect x="428.0" y="44.0" width="3.3" height="3.3" fill="#2b748e"/><rect x="431.0" y="44.0" width="3.3" height="3.3" fill="#2d718e"/><rect x="434.0" y="44.0" width="3.3" height="3.3" fill="#2f6c8e"/><rect x="437.0" y="44.0" width="3.3" height="3.3" fill="#31668e"/><rect x="440.0" y="44.0" width="3.3" height="3.3" fill="#34618d"/><rect x="443.0" y="44.0" width="3.3" height="3.3" fill="#365d8d"/><rect x="446.0" y="44.0" width="3.3" height="3.3" fill="#38598c"/><rect x="449.0" y="44.0" width="3.3" height="3.3" fill="#39568c"/><rect x="452.0" y="44.0" width="6.3" height="3.3" fill="#39558c"/><rect x="458.0" y="44.0" width="69.3" height="3.3" fill="#3a548c"/><rect x="359.0" y="47.0" width="30.3" height="3.3" fill="#3a548c"/><rect x="389.0" y="47.0" width="6.3" height="3.3" fill="#39558c"/><rect x="395.0" y="47.0" width="3.3" height="3.3" fill="#39568c"/><rect x="398.0" y="47.0" width="3.3" height="3.3" fill="#375a8c"/><rect x="401.0" y="47.0" width="3.3" height="3.3" fill="#365d8d"/><rect x="404.0" y="47.0" width="3.3" height="3.3" fill="#34618d"/><rect x="407.0" y="47.0" width="3.3" height="3.3" fill="#31678e"/><rect x="410.0" y="47.0" width="3.3" height="3.3" fill="#2e6d8e"/><rect x="413.0" y="47.0" width="3.3" height="3.3" fill="#2c728e"/><rect x="416.0" y="47.0" width="3.3" height="3.3" fill="#2a778e"/><rect x="419.0" y="47.0" width="6.3" height="3.3" fill="#29798e"/><rect x="425.0" y="47.0" width="3.3" height="3.3" fill="#2b758e"/><rect x="428.0" y="47.0" width="3.3" height="3.3" fill="#2d718e"/><rect x="431.0" y="47.0" width="3.3" height="3.3" fill="#306a8e"/><rect x="434.0" y="47.0" width="3.3" height="3.3" fill="#32648e"/><rect x="437.0" y="47.0" width="3.3" height="3.3" fill="#355f8d"/><rect x="440.0" y="47.0" width="3.3" height="3.3" fill="#375b8d"/><rect x="443.0" y="47.0" width="3.3" height="3.3" fill="#38598c"/><rect x="446.0" y="47.0" width="3.3" height="3.3" fill="#39568c"/><rect x="449.0" y="47.0" width="3.3" height="3.3" fill="#39558c"/><rect x="452.0" y="47.0" width="75.3" height="3.3" fill="#3a548c"/><rect x="359.0" y="50.0" width="27.3" height="3.3" fill="#3a548c"/><rect x="386.0" y="50.0" width="3.3" height="3.3" fill="#39558c"/><rect x="389.0" y="50.0" width="3.3" height="3.3" fill="#39568c"/><rect x="392.0" y="50.0" width="3.3" height="3.3" fill="#38598c"/><rect x="395.0" y="50.0" width="3.3" height="3.3" fill="#365c8d"/><rect x="398.0" y="50.0" width="3.3" height="3.3" fill="#34608d"/><rect x="401.0" y="50.0" width="3.3" height="3.3" fill="#31668e"/><rect x="404.0" y="50.0" width="3.3" height="3.3" fill="#2e6d8e"/><rect x="407.0" y="50.0" width="3.3" height="3.3" fill="#2c738e"/><rect x="410.0" y="50.0" width="3.3" height="3.3" fill="#29798e"/><rect x="413.0" y="50.0" width="6.3" height="3.3" fill="#287d8e"/><rect x="419.0" y="50.0" width="3.3" height="3.3" fill="#297b8e"/><rect x="422.0" y="50.0" width="3.3" height="3.3" fill="#2a768e"/><rect x="425.0" y="50.0" width="3.3" height="3.3" fill="#2d708e"/><rect x="428.0" y="50.0" width="3.3" height="3.3" fill="#30698e"/><rect x="431.0" y="50.0" width="3.3" height="3.3" fill="#33638d"/><rect x="434.0" y="50.0" width="3.3" height="3.3" fill="#355e8d"/><rect x="437.0" y="50.0" width="3.3" height="3.3" fill="#375a8c"/><rect x="440.0" y="50.0" width="3.3" height="3.3" fill="#38588c"/><rect x="443.0" y="50.0" width="6.3" height="3.3" fill="#39558c"/><rect x="449.0" y="50.0" width="78.3" height="3.3" fill="#3a548c"/><rect x="359.0" y="53.0" width="21.3" height="3.3" fill="#3a548c"/><rect x="380.0" y="53.0" width="3.3" height="3.3" fill="#39558c"/><rect x="383.0" y="53.0" width="3.3" height="3.3" fill="#39568c"/><rect x="386.0" y="53.0" width="3.3" height="3.3" fill="#38588c"/><rect x="389.0" y="53.0" width="3.3" height="3.3" fill="#375b8d"/><rect x="392.0" y="53.0" width="3.3" height="3.3" fill="#34608d"/><rect x="395.0" y="53.0" width="3.3" height="3.3" fill="#32658e"/><rect x="398.0" y="53.0" width="3.3" height="3.3" fill="#2e6d8e"/><rect x="401.0" y="53.0" width="3.3" height="3.3" fill="#2b748e"/><rect x="404.0" y="53.0" width="3.3" height="3.3" fill="#297b8e"/><rect x="407.0" y="53.0" width="3.3" height="3.3" fill="#27808e"/><rect x="410.0" y="53.0" width="3.3" height="3.3" fill="#26828e"/><rect x="413.0" y="53.0" width="3.3" height="3.3" fill="#26818e"/><rect x="416.0" y="53.0" width="3.3" height="3.3" fill="#287c8e"/><rect x="419.0" y="53.0" width="3.3" height="3.3" fill="#2b758e"/><rect x="422.0" y="53.0" width="3.3" height="3.3" fill="#2e6e8e"/><rect x="425.0" y="53.0" width="3.3" height="3.3" fill="#31678e"/><rect x="428.0" y="53.0" width="3.3" height="3.3" fill="#34618d"/><rect x="431.0" y="53.0" width="3.3" height="3.3" fill="#365c8d"/><rect x="434.0" y="53.0" width="3.3" height="3.3" fill="#38598c"/><rect x="437.0" y="53.0" width="3.3" height="3.3" fill="#39568c"/><rect x="440.0" y="53.0" width="3.3" height="3.3" fill="#39558c"/><rect x="443.0" y="53.0" width="84.3" height="3.3" fill="#3a548c"/><rect x="359.0" y="56.0" width="15.3" height="3.3" fill="#3a548c"/><rect x="374.0" y="56.0" width="6.3" height="3.3" fill="#39558c"/><rect x="380.0" y="56.0" width="3.3" height="3.3" fill="#38588c"/><rect x="383.0" y="56.0" width="3.3" height="3.3" fill="#375a8c"/><rect x="386.0" y="56.0" width="3.3" height="3.3" fill="#355e8d"/><rect x="389.0" y="56.0" width="3.3" height="3.3" fill="#32648e"/><rect x="392.0" y="56.0" width="3.3" height="3.3" fill="#2f6c8e"/><rect x="395.0" y="56.0" width="3.3" height="3.3" fill="#2c738e"/><rect x="398.0" y="56.0" width="3.3" height="3.3" fill="#287c8e"/><rect x="401.0" y="56.0" width="3.3" height="3.3" fill="#26828e"/><rect x="404.0" y="56.0" width="6.3" height="3.3" fill="#25858e"/><rect x="410.0" y="56.0" width="3.3" height="3.3" fill="#26828e"/><rect x="413.0" y="56.0" width="3.3" height="3.3" fill="#287c8e"/><rect x="416.0" y="56.0" width="3.3" height="3.3" fill="#2c738e"/><rect x="419.0" y="56.0" width="3.3" height="3.3" fill="#2f6c8e"/><rect x="422.0" y="56.0" width="3.3" height="3.3" fill="#32648e"/><rect x="425.0" y="56.0" width="3.3" height="3.3" fill="#355e8d"/><rect x="428.0" y="56.0" width="3.3" height="3.3" fill="#375a8c"/><rect x="431.0" y="56.0" width="3.3" height="3.3" fill="#38588c"/><rect x="434.0" y="56.0" width="6.3" height="3.3" fill="#39558c"/><rect x="440.0" y="56.0" width="87.3" height="3.3" fill="#3a548c"/><rect x="359.0" y="59.0" width="9.3" height="3.3" fill="#3a548c"/><rect x="368.0" y="59.0" width="6.3" height="3.3" fill="#39558c"/><rect x="374.0" y="59.0" width="3.3" height="3.3" fill="#39568c"/><rect x="377.0" y="59.0" width="3.3" height="3.3" fill="#375a8c"/><rect x="380.0" y="59.0" width="3.3" height="3.3" fill="#365d8d"/><rect x="383.0" y="59.0" width="3.3" height="3.3" fill="#33638d"/><rect x="386.0" y="59.0" width="3.3" height="3.3" fill="#306a8e"/><rect x="389.0" y="59.0" width="3.3" height="3.3" fill="#2c728e"/><rect x="392.0" y="59.0" width="3.3" height="3.3" fill="#297b8e"/><rect x="395.0" y="59.0" width="3.3" height="3.3" fill="#25838e"/><rect x="398.0" y="59.0" width="3.3" height="3.3" fill="#23888e"/><rect x="401.0" y="59.0" width="3.3" height="3.3" fill="#238a8d"/><rect x="404.0" y="59.0" width="3.3" height="3.3" fill="#23888e"/><rect x="407.0" y="59.0" width="3.3" height="3.3" fill="#26828e"/><rect x="410.0" y="59.0" width="3.3" height="3.3" fill="#297a8e"/><rect x="413.0" y="59.0" width="3.3" height="3.3" fill="#2d718e"/><rect x="416.0" y="59.0" width="3.3" height="3.3" fill="#30698e"/><rect x="419.0" y="59.0" width="3.3" height="3.3" fill="#33628d"/><rect x="422.0" y="59.0" width="3.3" height="3.3" fill="#365c8d"/><rect x="425.0" y="59.0" width="3.3" height="3.3" fill="#38598c"/><rect x="428.0" y="59.0" width="3.3" height="3.3" fill="#39568c"/><rect x="431.0" y="59.0" width="3.3" height="3.3" fill="#39558c"/><rect x="434.0" y="59.0" width="93.3" height="3.3" fill="#3a548c"/><rect x="359.0" y="62.0" width="6.3" height="3.3" fill="#3a548c"/><rect x="365.0" y="62.0" width="3.3" height="3.3" fill="#39558c"/><rect x="368.0" y="62.0" width="3.3" height="3.3" fill="#39568c"/><rect x="371.0" y="62.0" width="3.3" height="3.3" fill="#38598c"/><rect x="374.0" y="62.0" width="3.3" height="3.3" fill="#365c8d"/><rect x="377.0" y="62.0" width="3.3" height="3.3" fill="#34618d"/><rect x="380.0" y="62.0" width="3.3" height="3.3" fill="#31688e"/><rect x="383.0" y="62.0" width="3.3" height="3.3" fill="#2d718e"/><rect x="386.0" y="62.0" width="3.3" height="3.3" fill="#297a8e"/><rect x="389.0" y="62.0" width="3.3" height="3.3" fill="#26828e"/><rect x="392.0" y="62.0" width="3.3" height="3.3" fill="#238a8d"/><rect x="395.0" y="62.0" width="3.3" height="3.3" fill="#218e8d"/><rect x="398.0" y="62.0" width="3.3" height="3.3" fill="#228d8d"/><rect x="401.0" y="62.0" width="3.3" height="3.3" fill="#23888e"/><rect x="404.0" y="62.0" width="3.3" height="3.3" fill="#27808e"/><rect x="407.0" y="62.0" width="3.3" height="3.3" fill="#2a768e"/><rect x="410.0" y="62.0" width="3.3" height="3.3" fill="#2e6e8e"/><rect x="413.0" y="62.0" width="3.3" height="3.3" fill="#32658e"/><rect x="416.0" y="62.0" width="3.3" height="3.3" fill="#355f8d"/><rect x="419.0" y="62.0" width="3.3" height="3.3" fill="#375b8d"/><rect x="422.0" y="62.0" width="3.3" height="3.3" fill="#38588c"/><rect x="425.0" y="62.0" width="6.3" height="3.3" fill="#39558c"/><rect x="431.0" y="62.0" width="96.3" height="3.3" fill="#3a548c"/><rect x="359.0" y="65.0" width="6.3" height="3.3" fill="#39558c"/><rect x="365.0" y="65.0" width="3.3" height="3.3" fill="#38588c"/><rect x="368.0" y="65.0" width="3.3" height="3.3" fill="#375b8d"/><rect x="371.0" y="65.0" width="3.3" height="3.3" fill="#355f8d"/><rect x="374.0" y="65.0" width="3.3" height="3.3" fill="#31668e"/><rect x="377.0" y="65.0" width="3.3" height="3.3" fill="#2e6e8e"/><rect x="380.0" y="65.0" width="3.3" height="3.3" fill="#2a778e"/><rect x="383.0" y="65.0" width="3.3" height="3.3" fill="#26828e"/><rect x="386.0" y="65.0" width="3.3" height="3.3" fill="#238a8d"/><rect x="389.0" y="65.0" width="3.3" height="3.3" fill="#218f8d"/><rect x="392.0" y="65.0" width="3.3" height="3.3" fill="#21908d"/><rect x="395.0" y="65.0" width="3.3" height="3.3" fill="#228d8d"/><rect x="398.0" y="65.0" width="3.3" height="3.3" fill="#25858e"/><rect x="401.0" y="65.0" width="3.3" height="3.3" fill="#287c8e"/><rect x="404.0" y="65.0" width="3.3" height="3.3" fill="#2c728e"/><rect x="407.0" y="65.0" width="3.3" height="3.3" fill="#30698e"/><rect x="410.0" y="65.0" width="3.3" height="3.3" fill="#33628d"/><rect x="413.0" y="65.0" width="3.3" height="3.3" fill="#365d8d"/><rect x="416.0" y="65.0" width="3.3" height="3.3" fill="#38598c"/><rect x="419.0" y="65.0" width="3.3" height="3.3" fill="#39568c"/><rect x="422.0" y="65.0" width="3.3" height="3.3" fill="#39558c"/><rect x="425.0" y="65.0" width="102.3" height="3.3" fill="#3a548c"/><rect x="359.0" y="68.0" width="3.3" height="3.3" fill="#39568c"/><rect x="362.0" y="68.0" width="3.3" height="3.3" fill="#375a8c"/><rect x="365.0" y="68.0" width="3.3" height="3.3" fill="#365d8d"/><rect x="368.0" y="68.0" width="3.3" height="3.3" fill="#33638d"/><rect x="371.0" y="68.0" width="3.3" height="3.3" fill="#2f6b8e"/><rect x="374.0" y="68.0" width="3.3" height="3.3" fill="#2b748e"/><rect x="377.0" y="68.0" width="3.3" height="3.3" fill="#277f8e"/><rect x="380.0" y="68.0" width="3.3" height="3.3" fill="#23888e"/><rect x="383.0" y="68.0" width="3.3" height="3.3" fill="#218f8d"/><rect x="386.0" y="68.0" width="3.3" height="3.3" fill="#20928c"/><rect x="389.0" y="68.0" width="3.3" height="3.3" fill="#21918c"/><rect x="392.0" y="68.0" width="3.3" height="3.3" fill="#238a8d"/><rect x="395.0" y="68.0" width="3.3" height="3.3" fill="#26828e"/><rect x="398.0" y="68.0" width="3.3" height="3.3" fill="#2a778e"/><rect x="401.0" y="68.0" width="3.3" height="3.3" fill="#2e6e8e"/><rect x="404.0" y="68.0" width="3.3" height="3.3" fill="#32658e"/><rect x="407.0" y="68.0" width="3.3" height="3.3" fill="#355f8d"/><rect x="410.0" y="68.0" width="3.3" height="3.3" fill="#375a8c"/><rect x="413.0" y="68.0" width="3.3" height="3.3" fill="#38588c"/><rect x="416.0" y="68.0" width="6.3" height="3.3" fill="#39558c"/><rect x="422.0" y="68.0" width="105.3" height="3.3" fill="#3a548c"/><rect x="359.0" y="71.0" width="3.3" height="3.3" fill="#365c8d"/><rect x="362.0" y="71.0" width="3.3" height="3.3" fill="#34618d"/><rect x="365.0" y="71.0" width="3.3" height="3.3" fill="#31688e"/><rect x="368.0" y="71.0" width="3.3" height="3.3" fill="#2d718e"/><rect x="371.0" y="71.0" width="3.3" height="3.3" fill="#297b8e"/><rect x="374.0" y="71.0" width="3.3" height="3.3" fill="#25848e"/><rect x="377.0" y="71.0" width="3.3" height="3.3" fill="#228d8d"/><rect x="380.0" y="71.0" width="6.3" height="3.3" fill="#20928c"/><rect x="386.0" y="71.0" width="3.3" height="3.3" fill="#218e8d"/><rect x="389.0" y="71.0" width="3.3" height="3.3" fill="#25858e"/><rect x="392.0" y="71.0" width="3.3" height="3.3" fill="#287c8e"/><rect x="395.0" y="71.0" width="3.3" height="3.3" fill="#2c718e"/><rect x="398.0" y="71.0" width="3.3" height="3.3" fill="#30698e"/><rect x="401.0" y="71.0" width="3.3" height="3.3" fill="#34618d"/><rect x="404.0" y="71.0" width="3.3" height="3.3" fill="#365c8d"/><rect x="407.0" y="71.0" width="3.3" height="3.3" fill="#38598c"/><rect x="410.0" y="71.0" width="3.3" height="3.3" fill="#39568c"/><rect x="413.0" y="71.0" width="3.3" height="3.3" fill="#39558c"/><rect x="416.0" y="71.0" width="111.3" height="3.3" fill="#3a548c"/><rect x="359.0" y="74.0" width="3.3" height="3.3" fill="#32648e"/><rect x="362.0" y="74.0" width="3.3" height="3.3" fill="#2e6d8e"/><rect x="365.0" y="74.0" width="3.3" height="3.3" fill="#2a768e"/><rect x="368.0" y="74.0" width="3.3" height="3.3" fill="#26818e"/><rect x="371.0" y="74.0" width="3.3" height="3.3" fill="#23898e"/><rect x="374.0" y="74.0" width="3.3" height="3.3" fill="#21908d"/><rect x="377.0" y="74.0" width="3.3" height="3.3" fill="#20928c"/><rect x="380.0" y="74.0" width="3.3" height="3.3" fill="#21908d"/><rect x="383.0" y="74.0" width="3.3" height="3.3" fill="#23898e"/><rect x="386.0" y="74.0" width="3.3" height="3.3" fill="#27808e"/><rect x="389.0" y="74.0" width="3.3" height="3.3" fill="#2b758e"/><rect x="392.0" y="74.0" width="3.3" height="3.3" fill="#2f6c8e"/><rect x="395.0" y="74.0" width="3.3" height="3.3" fill="#32648e"/><rect x="398.0" y="74.0" width="3.3" height="3.3" fill="#355e8d"/><rect x="401.0" y="74.0" width="3.3" height="3.3" fill="#375a8c"/><rect x="404.0" y="74.0" width="3.3" height="3.3" fill="#39568c"/><rect x="407.0" y="74.0" width="6.3" height="3.3" fill="#39558c"/><rect x="413.0" y="74.0" width="114.3" height="3.3" fill="#3a548c"/><rect x="359.0" y="77.0" width="3.3" height="3.3" fill="#2c718e"/><rect x="362.0" y="77.0" width="3.3" height="3.3" fill="#297b8e"/><rect x="365.0" y="77.0" width="3.3" height="3.3" fill="#25848e"/><rect x="368.0" y="77.0" width="3.3" height="3.3" fill="#228c8d"/><rect x="371.0" y="77.0" width="6.3" height="3.3" fill="#21908d"/><rect x="377.0" y="77.0" width="3.3" height="3.3" fill="#228b8d"/><rect x="380.0" y="77.0" width="3.3" height="3.3" fill="#26828e"/><rect x="383.0" y="77.0" width="3.3" height="3.3" fill="#29798e"/><rect x="386.0" y="77.0" width="3.3" height="3.3" fill="#2e6f8e"/><rect x="389.0" y="77.0" width="3.3" height="3.3" fill="#31668e"/><rect x="392.0" y="77.0" width="3.3" height="3.3" fill="#34608d"/><rect x="395.0" y="77.0" width="3.3" height="3.3" fill="#375b8d"/><rect x="398.0" y="77.0" width="3.3" height="3.3" fill="#38588c"/><rect x="401.0" y="77.0" width="3.3" height="3.3" fill="#39568c"/><rect x="404.0" y="77.0" width="3.3" height="3.3" fill="#39558c"/><rect x="407.0" y="77.0" width="120.3" height="3.3" fill="#3a548c"/></g></g>
<g clip-path="url(#hc2)"><g filter="url(#hf2)"><rect x="520.5" y="-7.0" width="168.3" height="3.3" fill="#472e7c"/><rect x="520.5" y="-4.0" width="168.3" height="3.3" fill="#472e7c"/><rect x="520.5" y="-1.0" width="168.3" height="3.3" fill="#472e7c"/><rect x="520.5" y="2.0" width="168.3" height="3.3" fill="#472e7c"/><rect x="520.5" y="5.0" width="168.3" height="3.3" fill="#46337f"/><rect x="520.5" y="8.0" width="168.3" height="3.3" fill="#404688"/><rect x="520.5" y="11.0" width="168.3" height="3.3" fill="#355e8d"/><rect x="520.5" y="14.0" width="15.3" height="3.3" fill="#2a778e"/><rect x="535.5" y="14.0" width="36.3" height="3.3" fill="#2a788e"/><rect x="571.5" y="14.0" width="12.3" height="3.3" fill="#29798e"/><rect x="583.5" y="14.0" width="36.3" height="3.3" fill="#2a788e"/><rect x="619.5" y="14.0" width="69.3" height="3.3" fill="#2a778e"/><rect x="520.5" y="17.0" width="6.3" height="3.3" fill="#20928c"/><rect x="526.5" y="17.0" width="9.3" height="3.3" fill="#20938c"/><rect x="535.5" y="17.0" width="9.3" height="3.3" fill="#1f948c"/><rect x="544.5" y="17.0" width="6.3" height="3.3" fill="#1f958b"/><rect x="550.5" y="17.0" width="6.3" height="3.3" fill="#1f968b"/><rect x="556.5" y="17.0" width="3.3" height="3.3" fill="#1f978b"/><rect x="559.5" y="17.0" width="9.3" height="3.3" fill="#1f988b"/><rect x="568.5" y="17.0" width="18.3" height="3.3" fill="#1f998a"/><rect x="586.5" y="17.0" width="9.3" height="3.3" fill="#1f988b"/><rect x="595.5" y="17.0" width="6.3" height="3.3" fill="#1f978b"/><rect x="601.5" y="17.0" width="6.3" height="3.3" fill="#1f968b"/><rect x="607.5" y="17.0" width="6.3" height="3.3" fill="#1f958b"/><rect x="613.5" y="17.0" width="6.3" height="3.3" fill="#1f948c"/><rect x="619.5" y="17.0" width="12.3" height="3.3" fill="#20938c"/><rect x="631.5" y="17.0" width="57.3" height="3.3" fill="#20928c"/><rect x="520.5" y="20.0" width="9.3" height="3.3" fill="#27ad81"/><rect x="529.5" y="20.0" width="6.3" height="3.3" fill="#28ae80"/><rect x="535.5" y="20.0" width="3.3" height="3.3" fill="#29af7f"/><rect x="538.5" y="20.0" width="6.3" height="3.3" fill="#2ab07f"/><rect x="544.5" y="20.0" width="3.3" height="3.3" fill="#2cb17e"/><rect x="547.5" y="20.0" width="3.3" height="3.3" fill="#2db27d"/><rect x="550.5" y="20.0" width="3.3" height="3.3" fill="#2eb37c"/><rect x="553.5" y="20.0" width="3.3" height="3.3" fill="#2fb47c"/><rect x="556.5" y="20.0" width="3.3" height="3.3" fill="#31b57b"/><rect x="559.5" y="20.0" width="6.3" height="3.3" fill="#32b67a"/><rect x="565.5" y="20.0" width="3.3" height="3.3" fill="#34b679"/><rect x="568.5" y="20.0" width="18.3" height="3.3" fill="#35b779"/><rect x="586.5" y="20.0" width="6.3" height="3.3" fill="#34b679"/><rect x="592.5" y="20.0" width="3.3" height="3.3" fill="#32b67a"/><rect x="595.5" y="20.0" width="3.3" height="3.3" fill="#31b57b"/><rect x="598.5" y="20.0" width="3.3" height="3.3" fill="#2fb47c"/><rect x="601.5" y="20.0" width="3.3" height="3.3" fill="#2eb37c"/><rect x="604.5" y="20.0" width="3.3" height="3.3" fill="#2db27d"/><rect x="607.5" y="20.0" width="6.3" height="3.3" fill="#2cb17e"/><rect x="613.5" y="20.0" width="3.3" height="3.3" fill="#2ab07f"/><rect x="616.5" y="20.0" width="3.3" height="3.3" fill="#29af7f"/><rect x="619.5" y="20.0" width="6.3" height="3.3" fill="#28ae80"/><rect x="625.5" y="20.0" width="9.3" height="3.3" fill="#27ad81"/><rect x="634.5" y="20.0" width="54.3" height="3.3" fill="#26ad81"/><rect x="520.5" y="23.0" width="6.3" height="3.3" fill="#25ac82"/><rect x="526.5" y="23.0" width="12.3" height="3.3" fill="#26ad81"/><rect x="538.5" y="23.0" width="6.3" height="3.3" fill="#27ad81"/><rect x="544.5" y="23.0" width="6.3" height="3.3" fill="#28ae80"/><rect x="550.5" y="23.0" width="6.3" height="3.3" fill="#29af7f"/><rect x="556.5" y="23.0" width="6.3" height="3.3" fill="#2ab07f"/><rect x="562.5" y="23.0" width="6.3" height="3.3" fill="#2cb17e"/><rect x="568.5" y="23.0" width="18.3" height="3.3" fill="#2db27d"/><rect x="586.5" y="23.0" width="9.3" height="3.3" fill="#2cb17e"/><rect x="595.5" y="23.0" width="6.3" height="3.3" fill="#2ab07f"/><rect x="601.5" y="23.0" width="3.3" height="3.3" fill="#29af7f"/><rect x="604.5" y="23.0" width="6.3" height="3.3" fill="#28ae80"/><rect x="610.5" y="23.0" width="9.3" height="3.3" fill="#27ad81"/><rect x="619.5" y="23.0" width="9.3" height="3.3" fill="#26ad81"/><rect x="628.5" y="23.0" width="60.3" height="3.3" fill="#25ac82"/><rect x="520.5" y="26.0" width="39.3" height="3.3" fill="#1f9a8a"/><rect x="559.5" y="26.0" width="36.3" height="3.3" fill="#1e9b8a"/><rect x="595.5" y="26.0" width="48.3" height="3.3" fill="#1f9a8a"/><rect x="643.5" y="26.0" width="45.3" height="3.3" fill="#1f998a"/><rect x="520.5" y="29.0" width="168.3" height="3.3" fill="#23898e"/><rect x="520.5" y="32.0" width="168.3" height="3.3" fill="#287d8e"/><rect x="520.5" y="35.0" width="168.3" height="3.3" fill="#2b758e"/><rect x="520.5" y="38.0" width="168.3" height="3.3" fill="#297b8e"/><rect x="520.5" y="41.0" width="168.3" height="3.3" fill="#23888e"/><rect x="520.5" y="44.0" width="84.3" height="3.3" fill="#1f9a8a"/><rect x="604.5" y="44.0" width="12.3" height="3.3" fill="#1e9b8a"/><rect x="616.5" y="44.0" width="12.3" height="3.3" fill="#1e9c89"/><rect x="628.5" y="44.0" width="33.3" height="3.3" fill="#1e9d89"/><rect x="661.5" y="44.0" width="12.3" height="3.3" fill="#1e9c89"/><rect x="673.5" y="44.0" width="12.3" height="3.3" fill="#1e9b8a"/><rect x="685.5" y="44.0" width="3.3" height="3.3" fill="#1f9a8a"/><rect x="520.5" y="47.0" width="69.3" height="3.3" fill="#2cb17e"/><rect x="589.5" y="47.0" width="9.3" height="3.3" fill="#2db27d"/><rect x="598.5" y="47.0" width="6.3" height="3.3" fill="#2eb37c"/><rect x="604.5" y="47.0" width="6.3" height="3.3" fill="#2fb47c"/><rect x="610.5" y="47.0" width="3.3" height="3.3" fill="#31b57b"/><rect x="613.5" y="47.0" width="3.3" height="3.3" fill="#32b67a"/><rect x="616.5" y="47.0" width="3.3" height="3.3" fill="#34b679"/><rect x="619.5" y="47.0" width="6.3" height="3.3" fill="#35b779"/><rect x="625.5" y="47.0" width="3.3" height="3.3" fill="#37b878"/><rect x="628.5" y="47.0" width="3.3" height="3.3" fill="#38b977"/><rect x="631.5" y="47.0" width="9.3" height="3.3" fill="#3aba76"/><rect x="640.5" y="47.0" width="9.3" height="3.3" fill="#3bbb75"/><rect x="649.5" y="47.0" width="9.3" height="3.3" fill="#3aba76"/><rect x="658.5" y="47.0" width="3.3" height="3.3" fill="#38b977"/><rect x="661.5" y="47.0" width="3.3" height="3.3" fill="#37b878"/><rect x="664.5" y="47.0" width="6.3" height="3.3" fill="#35b779"/><rect x="670.5" y="47.0" width="3.3" height="3.3" fill="#34b679"/><rect x="673.5" y="47.0" width="3.3" height="3.3" fill="#32b67a"/><rect x="676.5" y="47.0" width="3.3" height="3.3" fill="#31b57b"/><rect x="679.5" y="47.0" width="6.3" height="3.3" fill="#2fb47c"/><rect x="685.5" y="47.0" width="3.3" height="3.3" fill="#2eb37c"/><rect x="520.5" y="50.0" width="69.3" height="3.3" fill="#27ad81"/><rect x="589.5" y="50.0" width="9.3" height="3.3" fill="#28ae80"/><rect x="598.5" y="50.0" width="6.3" height="3.3" fill="#29af7f"/><rect x="604.5" y="50.0" width="3.3" height="3.3" fill="#2ab07f"/><rect x="607.5" y="50.0" width="6.3" height="3.3" fill="#2cb17e"/><rect x="613.5" y="50.0" width="3.3" height="3.3" fill="#2db27d"/><rect x="616.5" y="50.0" width="3.3" height="3.3" fill="#2eb37c"/><rect x="619.5" y="50.0" width="6.3" height="3.3" fill="#2fb47c"/><rect x="625.5" y="50.0" width="3.3" height="3.3" fill="#31b57b"/><rect x="628.5" y="50.0" width="3.3" height="3.3" fill="#32b67a"/><rect x="631.5" y="50.0" width="9.3" height="3.3" fill="#34b679"/><rect x="640.5" y="50.0" width="9.3" height="3.3" fill="#35b779"/><rect x="649.5" y="50.0" width="9.3" height="3.3" fill="#34b679"/><rect x="658.5" y="50.0" width="3.3" height="3.3" fill="#32b67a"/><rect x="661.5" y="50.0" width="3.3" height="3.3" fill="#31b57b"/><rect x="664.5" y="50.0" width="6.3" height="3.3" fill="#2fb47c"/><rect x="670.5" y="50.0" width="3.3" height="3.3" fill="#2eb37c"/><rect x="673.5" y="50.0" width="3.3" height="3.3" fill="#2db27d"/><rect x="676.5" y="50.0" width="6.3" height="3.3" fill="#2cb17e"/><rect x="682.5" y="50.0" width="3.3" height="3.3" fill="#2ab07f"/><rect x="685.5" y="50.0" width="3.3" height="3.3" fill="#29af7f"/><rect x="520.5" y="53.0" width="66.3" height="3.3" fill="#1f9a8a"/><rect x="586.5" y="53.0" width="21.3" height="3.3" fill="#1e9b8a"/><rect x="607.5" y="53.0" width="12.3" height="3.3" fill="#1e9c89"/><rect x="619.5" y="53.0" width="15.3" height="3.3" fill="#1e9d89"/><rect x="634.5" y="53.0" width="21.3" height="3.3" fill="#1f9e89"/><rect x="655.5" y="53.0" width="15.3" height="3.3" fill="#1e9d89"/><rect x="670.5" y="53.0" width="12.3" height="3.3" fill="#1e9c89"/><rect x="682.5" y="53.0" width="6.3" height="3.3" fill="#1e9b8a"/><rect x="520.5" y="56.0" width="168.3" height="3.3" fill="#26828e"/><rect x="520.5" y="59.0" width="168.3" height="3.3" fill="#33638d"/><rect x="520.5" y="62.0" width="168.3" height="3.3" fill="#3e4a89"/><rect x="520.5" y="65.0" width="168.3" height="3.3" fill="#443983"/><rect x="520.5" y="68.0" width="168.3" height="3.3" fill="#472e7c"/><rect x="520.5" y="71.0" width="168.3" height="3.3" fill="#472e7c"/><rect x="520.5" y="74.0" width="168.3" height="3.3" fill="#472e7c"/><rect x="520.5" y="77.0" width="168.3" height="3.3" fill="#472e7c"/></g></g>
<g clip-path="url(#hc3)"><g filter="url(#hf3)"><rect x="360.0" y="106.6" width="93.3" height="3.3" fill="#22a785"/><rect x="453.0" y="106.6" width="3.3" height="3.3" fill="#21a685"/><rect x="456.0" y="106.6" width="3.3" height="3.3" fill="#20a486"/><rect x="459.0" y="106.6" width="3.3" height="3.3" fill="#1fa287"/><rect x="462.0" y="106.6" width="3.3" height="3.3" fill="#1fa088"/><rect x="465.0" y="106.6" width="3.3" height="3.3" fill="#1f9e89"/><rect x="468.0" y="106.6" width="3.3" height="3.3" fill="#1f9f88"/><rect x="471.0" y="106.6" width="3.3" height="3.3" fill="#1fa287"/><rect x="474.0" y="106.6" width="3.3" height="3.3" fill="#22a884"/><rect x="477.0" y="106.6" width="3.3" height="3.3" fill="#28ae80"/><rect x="480.0" y="106.6" width="3.3" height="3.3" fill="#32b67a"/><rect x="483.0" y="106.6" width="3.3" height="3.3" fill="#40bd72"/><rect x="486.0" y="106.6" width="3.3" height="3.3" fill="#52c569"/><rect x="489.0" y="106.6" width="3.3" height="3.3" fill="#67cc5c"/><rect x="492.0" y="106.6" width="3.3" height="3.3" fill="#81d34d"/><rect x="495.0" y="106.6" width="3.3" height="3.3" fill="#a0da39"/><rect x="498.0" y="106.6" width="3.3" height="3.3" fill="#d0e11c"/><rect x="501.0" y="106.6" width="9.3" height="3.3" fill="#fde725"/><rect x="510.0" y="106.6" width="3.3" height="3.3" fill="#d8e219"/><rect x="513.0" y="106.6" width="3.3" height="3.3" fill="#8ed645"/><rect x="516.0" y="106.6" width="3.3" height="3.3" fill="#67cc5c"/><rect x="519.0" y="106.6" width="3.3" height="3.3" fill="#48c16e"/><rect x="522.0" y="106.6" width="3.3" height="3.3" fill="#31b57b"/><rect x="360.0" y="109.6" width="90.3" height="3.3" fill="#22a785"/><rect x="450.0" y="109.6" width="3.3" height="3.3" fill="#21a685"/><rect x="453.0" y="109.6" width="3.3" height="3.3" fill="#20a486"/><rect x="456.0" y="109.6" width="3.3" height="3.3" fill="#1fa188"/><rect x="459.0" y="109.6" width="3.3" height="3.3" fill="#1f9a8a"/><rect x="462.0" y="109.6" width="3.3" height="3.3" fill="#1f948c"/><rect x="465.0" y="109.6" width="3.3" height="3.3" fill="#21908d"/><rect x="468.0" y="109.6" width="3.3" height="3.3" fill="#21918c"/><rect x="471.0" y="109.6" width="3.3" height="3.3" fill="#1f988b"/><rect x="474.0" y="109.6" width="3.3" height="3.3" fill="#20a386"/><rect x="477.0" y="109.6" width="3.3" height="3.3" fill="#2cb17e"/><rect x="480.0" y="109.6" width="3.3" height="3.3" fill="#42be71"/><rect x="483.0" y="109.6" width="3.3" height="3.3" fill="#5ec962"/><rect x="486.0" y="109.6" width="3.3" height="3.3" fill="#7fd34e"/><rect x="489.0" y="109.6" width="3.3" height="3.3" fill="#9dd93b"/><rect x="492.0" y="109.6" width="3.3" height="3.3" fill="#cae11f"/><rect x="495.0" y="109.6" width="3.3" height="3.3" fill="#f8e621"/><rect x="498.0" y="109.6" width="9.3" height="3.3" fill="#fde725"/><rect x="507.0" y="109.6" width="3.3" height="3.3" fill="#e5e419"/><rect x="510.0" y="109.6" width="3.3" height="3.3" fill="#a0da39"/><rect x="513.0" y="109.6" width="3.3" height="3.3" fill="#67cc5c"/><rect x="516.0" y="109.6" width="3.3" height="3.3" fill="#48c16e"/><rect x="519.0" y="109.6" width="3.3" height="3.3" fill="#35b779"/><rect x="522.0" y="109.6" width="3.3" height="3.3" fill="#28ae80"/><rect x="360.0" y="112.6" width="90.3" height="3.3" fill="#22a785"/><rect x="450.0" y="112.6" width="3.3" height="3.3" fill="#21a685"/><rect x="453.0" y="112.6" width="3.3" height="3.3" fill="#20a486"/><rect x="456.0" y="112.6" width="3.3" height="3.3" fill="#1fa088"/><rect x="459.0" y="112.6" width="3.3" height="3.3" fill="#1f998a"/><rect x="462.0" y="112.6" width="3.3" height="3.3" fill="#20928c"/><rect x="465.0" y="112.6" width="3.3" height="3.3" fill="#218f8d"/><rect x="468.0" y="112.6" width="3.3" height="3.3" fill="#21918c"/><rect x="471.0" y="112.6" width="3.3" height="3.3" fill="#1e9c89"/><rect x="474.0" y="112.6" width="3.3" height="3.3" fill="#25ac82"/><rect x="477.0" y="112.6" width="3.3" height="3.3" fill="#40bd72"/><rect x="480.0" y="112.6" width="3.3" height="3.3" fill="#69cd5b"/><rect x="483.0" y="112.6" width="3.3" height="3.3" fill="#93d741"/><rect x="486.0" y="112.6" width="3.3" height="3.3" fill="#c2df23"/><rect x="489.0" y="112.6" width="3.3" height="3.3" fill="#f6e620"/><rect x="492.0" y="112.6" width="9.3" height="3.3" fill="#fde725"/><rect x="501.0" y="112.6" width="3.3" height="3.3" fill="#ece51b"/><rect x="504.0" y="112.6" width="3.3" height="3.3" fill="#b5de2b"/><rect x="507.0" y="112.6" width="3.3" height="3.3" fill="#7fd34e"/><rect x="510.0" y="112.6" width="3.3" height="3.3" fill="#5cc863"/><rect x="513.0" y="112.6" width="3.3" height="3.3" fill="#40bd72"/><rect x="516.0" y="112.6" width="3.3" height="3.3" fill="#2fb47c"/><rect x="519.0" y="112.6" width="3.3" height="3.3" fill="#27ad81"/><rect x="522.0" y="112.6" width="3.3" height="3.3" fill="#22a884"/><rect x="360.0" y="115.6" width="81.3" height="3.3" fill="#22a785"/><rect x="441.0" y="115.6" width="15.3" height="3.3" fill="#22a884"/><rect x="456.0" y="115.6" width="3.3" height="3.3" fill="#22a785"/><rect x="459.0" y="115.6" width="3.3" height="3.3" fill="#21a585"/><rect x="462.0" y="115.6" width="3.3" height="3.3" fill="#20a486"/><rect x="465.0" y="115.6" width="3.3" height="3.3" fill="#21a685"/><rect x="468.0" y="115.6" width="3.3" height="3.3" fill="#26ad81"/><rect x="471.0" y="115.6" width="3.3" height="3.3" fill="#35b779"/><rect x="474.0" y="115.6" width="3.3" height="3.3" fill="#54c568"/><rect x="477.0" y="115.6" width="3.3" height="3.3" fill="#7fd34e"/><rect x="480.0" y="115.6" width="3.3" height="3.3" fill="#b2dd2d"/><rect x="483.0" y="115.6" width="3.3" height="3.3" fill="#ece51b"/><rect x="486.0" y="115.6" width="9.3" height="3.3" fill="#fde725"/><rect x="495.0" y="115.6" width="3.3" height="3.3" fill="#f1e51d"/><rect x="498.0" y="115.6" width="3.3" height="3.3" fill="#bddf26"/><rect x="501.0" y="115.6" width="3.3" height="3.3" fill="#89d548"/><rect x="504.0" y="115.6" width="3.3" height="3.3" fill="#67cc5c"/><rect x="507.0" y="115.6" width="3.3" height="3.3" fill="#4cc26c"/><rect x="510.0" y="115.6" width="3.3" height="3.3" fill="#37b878"/><rect x="513.0" y="115.6" width="3.3" height="3.3" fill="#2ab07f"/><rect x="516.0" y="115.6" width="3.3" height="3.3" fill="#25ab82"/><rect x="519.0" y="115.6" width="3.3" height="3.3" fill="#21a685"/><rect x="522.0" y="115.6" width="3.3" height="3.3" fill="#20a386"/><rect x="360.0" y="118.6" width="78.3" height="3.3" fill="#22a785"/><rect x="438.0" y="118.6" width="6.3" height="3.3" fill="#22a884"/><rect x="444.0" y="118.6" width="3.3" height="3.3" fill="#23a983"/><rect x="447.0" y="118.6" width="3.3" height="3.3" fill="#24aa83"/><rect x="450.0" y="118.6" width="3.3" height="3.3" fill="#25ac82"/><rect x="453.0" y="118.6" width="3.3" height="3.3" fill="#28ae80"/><rect x="456.0" y="118.6" width="3.3" height="3.3" fill="#2cb17e"/><rect x="459.0" y="118.6" width="3.3" height="3.3" fill="#32b67a"/><rect x="462.0" y="118.6" width="3.3" height="3.3" fill="#3bbb75"/><rect x="465.0" y="118.6" width="3.3" height="3.3" fill="#4cc26c"/><rect x="468.0" y="118.6" width="3.3" height="3.3" fill="#63cb5f"/><rect x="471.0" y="118.6" width="3.3" height="3.3" fill="#81d34d"/><rect x="474.0" y="118.6" width="3.3" height="3.3" fill="#addc30"/><rect x="477.0" y="118.6" width="3.3" height="3.3" fill="#e7e419"/><rect x="480.0" y="118.6" width="9.3" height="3.3" fill="#fde725"/><rect x="489.0" y="118.6" width="3.3" height="3.3" fill="#f6e620"/><rect x="492.0" y="118.6" width="3.3" height="3.3" fill="#c2df23"/><rect x="495.0" y="118.6" width="3.3" height="3.3" fill="#8bd646"/><rect x="498.0" y="118.6" width="3.3" height="3.3" fill="#6ccd5a"/><rect x="501.0" y="118.6" width="3.3" height="3.3" fill="#52c569"/><rect x="504.0" y="118.6" width="3.3" height="3.3" fill="#3dbc74"/><rect x="507.0" y="118.6" width="3.3" height="3.3" fill="#2fb47c"/><rect x="510.0" y="118.6" width="3.3" height="3.3" fill="#26ad81"/><rect x="513.0" y="118.6" width="3.3" height="3.3" fill="#22a884"/><rect x="516.0" y="118.6" width="3.3" height="3.3" fill="#20a486"/><rect x="519.0" y="118.6" width="3.3" height="3.3" fill="#1fa187"/><rect x="522.0" y="118.6" width="3.3" height="3.3" fill="#1fa188"/><rect x="360.0" y="121.6" width="75.3" height="3.3" fill="#22a785"/><rect x="435.0" y="121.6" width="6.3" height="3.3" fill="#22a884"/><rect x="441.0" y="121.6" width="3.3" height="3.3" fill="#24aa83"/><rect x="444.0" y="121.6" width="3.3" height="3.3" fill="#25ac82"/><rect x="447.0" y="121.6" width="3.3" height="3.3" fill="#27ad81"/><rect x="450.0" y="121.6" width="3.3" height="3.3" fill="#2cb17e"/><rect x="453.0" y="121.6" width="3.3" height="3.3" fill="#34b679"/><rect x="456.0" y="121.6" width="3.3" height="3.3" fill="#40bd72"/><rect x="459.0" y="121.6" width="3.3" height="3.3" fill="#52c569"/><rect x="462.0" y="121.6" width="3.3" height="3.3" fill="#69cd5b"/><rect x="465.0" y="121.6" width="3.3" height="3.3" fill="#89d548"/><rect x="468.0" y="121.6" width="3.3" height="3.3" fill="#b2dd2d"/><rect x="471.0" y="121.6" width="3.3" height="3.3" fill="#e7e419"/><rect x="474.0" y="121.6" width="9.3" height="3.3" fill="#fde725"/><rect x="483.0" y="121.6" width="3.3" height="3.3" fill="#fbe723"/><rect x="486.0" y="121.6" width="3.3" height="3.3" fill="#c8e020"/><rect x="489.0" y="121.6" width="3.3" height="3.3" fill="#90d743"/><rect x="492.0" y="121.6" width="3.3" height="3.3" fill="#6ece58"/><rect x="495.0" y="121.6" width="3.3" height="3.3" fill="#54c568"/><rect x="498.0" y="121.6" width="3.3" height="3.3" fill="#3fbc73"/><rect x="501.0" y="121.6" width="3.3" height="3.3" fill="#32b67a"/><rect x="504.0" y="121.6" width="3.3" height="3.3" fill="#29af7f"/><rect x="507.0" y="121.6" width="3.3" height="3.3" fill="#24aa83"/><rect x="510.0" y="121.6" width="3.3" height="3.3" fill="#21a585"/><rect x="513.0" y="121.6" width="3.3" height="3.3" fill="#1fa287"/><rect x="516.0" y="121.6" width="3.3" height="3.3" fill="#1fa188"/><rect x="519.0" y="121.6" width="3.3" height="3.3" fill="#1fa088"/><rect x="522.0" y="121.6" width="3.3" height="3.3" fill="#1f9f88"/><rect x="360.0" y="124.6" width="72.3" height="3.3" fill="#22a785"/><rect x="432.0" y="124.6" width="3.3" height="3.3" fill="#22a884"/><rect x="435.0" y="124.6" width="3.3" height="3.3" fill="#23a983"/><rect x="438.0" y="124.6" width="3.3" height="3.3" fill="#24aa83"/><rect x="441.0" y="124.6" width="3.3" height="3.3" fill="#25ac82"/><rect x="444.0" y="124.6" width="3.3" height="3.3" fill="#2ab07f"/><rect x="447.0" y="124.6" width="3.3" height="3.3" fill="#31b57b"/><rect x="450.0" y="124.6" width="3.3" height="3.3" fill="#3bbb75"/><rect x="453.0" y="124.6" width="3.3" height="3.3" fill="#4cc26c"/><rect x="456.0" y="124.6" width="3.3" height="3.3" fill="#65cb5e"/><rect x="459.0" y="124.6" width="3.3" height="3.3" fill="#84d44b"/><rect x="462.0" y="124.6" width="3.3" height="3.3" fill="#addc30"/><rect x="465.0" y="124.6" width="3.3" height="3.3" fill="#e5e419"/><rect x="468.0" y="124.6" width="12.3" height="3.3" fill="#fde725"/><rect x="480.0" y="124.6" width="3.3" height="3.3" fill="#d0e11c"/><rect x="483.0" y="124.6" width="3.3" height="3.3" fill="#95d840"/><rect x="486.0" y="124.6" width="3.3" height="3.3" fill="#73d056"/><rect x="489.0" y="124.6" width="3.3" height="3.3" fill="#56c667"/><rect x="492.0" y="124.6" width="3.3" height="3.3" fill="#40bd72"/><rect x="495.0" y="124.6" width="3.3" height="3.3" fill="#32b67a"/><rect x="498.0" y="124.6" width="3.3" height="3.3" fill="#29af7f"/><rect x="501.0" y="124.6" width="3.3" height="3.3" fill="#25ab82"/><rect x="504.0" y="124.6" width="3.3" height="3.3" fill="#22a785"/><rect x="507.0" y="124.6" width="3.3" height="3.3" fill="#20a386"/><rect x="510.0" y="124.6" width="3.3" height="3.3" fill="#1fa187"/><rect x="513.0" y="124.6" width="3.3" height="3.3" fill="#1fa088"/><rect x="516.0" y="124.6" width="6.3" height="3.3" fill="#1f9f88"/><rect x="522.0" y="124.6" width="3.3" height="3.3" fill="#1f9e89"/><rect x="360.0" y="127.6" width="66.3" height="3.3" fill="#22a785"/><rect x="426.0" y="127.6" width="6.3" height="3.3" fill="#22a884"/><rect x="432.0" y="127.6" width="3.3" height="3.3" fill="#23a983"/><rect x="435.0" y="127.6" width="3.3" height="3.3" fill="#24aa83"/><rect x="438.0" y="127.6" width="3.3" height="3.3" fill="#26ad81"/><rect x="441.0" y="127.6" width="3.3" height="3.3" fill="#2ab07f"/><rect x="444.0" y="127.6" width="3.3" height="3.3" fill="#35b779"/><rect x="447.0" y="127.6" width="3.3" height="3.3" fill="#46c06f"/><rect x="450.0" y="127.6" width="3.3" height="3.3" fill="#5cc863"/><rect x="453.0" y="127.6" width="3.3" height="3.3" fill="#7ad151"/><rect x="456.0" y="127.6" width="3.3" height="3.3" fill="#a8db34"/><rect x="459.0" y="127.6" width="3.3" height="3.3" fill="#dfe318"/><rect x="462.0" y="127.6" width="12.3" height="3.3" fill="#fde725"/><rect x="474.0" y="127.6" width="3.3" height="3.3" fill="#d8e219"/><rect x="477.0" y="127.6" width="3.3" height="3.3" fill="#9dd93b"/><rect x="480.0" y="127.6" width="3.3" height="3.3" fill="#7ad151"/><rect x="483.0" y="127.6" width="3.3" height="3.3" fill="#5ac864"/><rect x="486.0" y="127.6" width="3.3" height="3.3" fill="#44bf70"/><rect x="489.0" y="127.6" width="3.3" height="3.3" fill="#34b679"/><rect x="492.0" y="127.6" width="3.3" height="3.3" fill="#2ab07f"/><rect x="495.0" y="127.6" width="3.3" height="3.3" fill="#25ab82"/><rect x="498.0" y="127.6" width="3.3" height="3.3" fill="#22a785"/><rect x="501.0" y="127.6" width="3.3" height="3.3" fill="#20a486"/><rect x="504.0" y="127.6" width="3.3" height="3.3" fill="#1fa187"/><rect x="507.0" y="127.6" width="3.3" height="3.3" fill="#1fa188"/><rect x="510.0" y="127.6" width="3.3" height="3.3" fill="#1fa088"/><rect x="513.0" y="127.6" width="6.3" height="3.3" fill="#1f9f88"/><rect x="519.0" y="127.6" width="6.3" height="3.3" fill="#1f9e89"/><rect x="360.0" y="130.6" width="63.3" height="3.3" fill="#22a785"/><rect x="423.0" y="130.6" width="6.3" height="3.3" fill="#22a884"/><rect x="429.0" y="130.6" width="3.3" height="3.3" fill="#23a983"/><rect x="432.0" y="130.6" width="3.3" height="3.3" fill="#25ab82"/><rect x="435.0" y="130.6" width="3.3" height="3.3" fill="#26ad81"/><rect x="438.0" y="130.6" width="3.3" height="3.3" fill="#2cb17e"/><rect x="441.0" y="130.6" width="3.3" height="3.3" fill="#37b878"/><rect x="444.0" y="130.6" width="3.3" height="3.3" fill="#4cc26c"/><rect x="447.0" y="130.6" width="3.3" height="3.3" fill="#6ccd5a"/><rect x="450.0" y="130.6" width="3.3" height="3.3" fill="#a0da39"/><rect x="453.0" y="130.6" width="3.3" height="3.3" fill="#d8e219"/><rect x="456.0" y="130.6" width="12.3" height="3.3" fill="#fde725"/><rect x="468.0" y="130.6" width="3.3" height="3.3" fill="#dde318"/><rect x="471.0" y="130.6" width="3.3" height="3.3" fill="#a5db36"/><rect x="474.0" y="130.6" width="3.3" height="3.3" fill="#7fd34e"/><rect x="477.0" y="130.6" width="3.3" height="3.3" fill="#60ca60"/><rect x="480.0" y="130.6" width="3.3" height="3.3" fill="#48c16e"/><rect x="483.0" y="130.6" width="3.3" height="3.3" fill="#37b878"/><rect x="486.0" y="130.6" width="3.3" height="3.3" fill="#2cb17e"/><rect x="489.0" y="130.6" width="3.3" height="3.3" fill="#25ac82"/><rect x="492.0" y="130.6" width="3.3" height="3.3" fill="#22a785"/><rect x="495.0" y="130.6" width="3.3" height="3.3" fill="#20a486"/><rect x="498.0" y="130.6" width="3.3" height="3.3" fill="#1fa287"/><rect x="501.0" y="130.6" width="3.3" height="3.3" fill="#1fa188"/><rect x="504.0" y="130.6" width="3.3" height="3.3" fill="#1fa088"/><rect x="507.0" y="130.6" width="6.3" height="3.3" fill="#1f9f88"/><rect x="513.0" y="130.6" width="12.3" height="3.3" fill="#1f9e89"/><rect x="360.0" y="133.6" width="63.3" height="3.3" fill="#22a785"/><rect x="423.0" y="133.6" width="3.3" height="3.3" fill="#22a884"/><rect x="426.0" y="133.6" width="3.3" height="3.3" fill="#23a983"/><rect x="429.0" y="133.6" width="3.3" height="3.3" fill="#25ab82"/><rect x="432.0" y="133.6" width="3.3" height="3.3" fill="#27ad81"/><rect x="435.0" y="133.6" width="3.3" height="3.3" fill="#2db27d"/><rect x="438.0" y="133.6" width="3.3" height="3.3" fill="#37b878"/><rect x="441.0" y="133.6" width="3.3" height="3.3" fill="#4ac16d"/><rect x="444.0" y="133.6" width="3.3" height="3.3" fill="#6ece58"/><rect x="447.0" y="133.6" width="3.3" height="3.3" fill="#bddf26"/><rect x="450.0" y="133.6" width="12.3" height="3.3" fill="#fde725"/><rect x="462.0" y="133.6" width="3.3" height="3.3" fill="#e5e419"/><rect x="465.0" y="133.6" width="3.3" height="3.3" fill="#addc30"/><rect x="468.0" y="133.6" width="3.3" height="3.3" fill="#89d548"/><rect x="471.0" y="133.6" width="3.3" height="3.3" fill="#67cc5c"/><rect x="474.0" y="133.6" width="3.3" height="3.3" fill="#4cc26c"/><rect x="477.0" y="133.6" width="3.3" height="3.3" fill="#3aba76"/><rect x="480.0" y="133.6" width="3.3" height="3.3" fill="#2eb37c"/><rect x="483.0" y="133.6" width="3.3" height="3.3" fill="#26ad81"/><rect x="486.0" y="133.6" width="3.3" height="3.3" fill="#22a884"/><rect x="489.0" y="133.6" width="3.3" height="3.3" fill="#20a486"/><rect x="492.0" y="133.6" width="3.3" height="3.3" fill="#1fa287"/><rect x="495.0" y="133.6" width="3.3" height="3.3" fill="#1fa188"/><rect x="498.0" y="133.6" width="3.3" height="3.3" fill="#1fa088"/><rect x="501.0" y="133.6" width="9.3" height="3.3" fill="#1f9f88"/><rect x="510.0" y="133.6" width="15.3" height="3.3" fill="#1f9e89"/><rect x="360.0" y="136.6" width="60.3" height="3.3" fill="#22a785"/><rect x="420.0" y="136.6" width="3.3" height="3.3" fill="#22a884"/><rect x="423.0" y="136.6" width="3.3" height="3.3" fill="#23a983"/><rect x="426.0" y="136.6" width="3.3" height="3.3" fill="#25ab82"/><rect x="429.0" y="136.6" width="3.3" height="3.3" fill="#27ad81"/><rect x="432.0" y="136.6" width="3.3" height="3.3" fill="#2eb37c"/><rect x="435.0" y="136.6" width="3.3" height="3.3" fill="#38b977"/><rect x="438.0" y="136.6" width="3.3" height="3.3" fill="#4ac16d"/><rect x="441.0" y="136.6" width="3.3" height="3.3" fill="#63cb5f"/><rect x="444.0" y="136.6" width="3.3" height="3.3" fill="#8ed645"/><rect x="447.0" y="136.6" width="3.3" height="3.3" fill="#dde318"/><rect x="450.0" y="136.6" width="6.3" height="3.3" fill="#fde725"/><rect x="456.0" y="136.6" width="3.3" height="3.3" fill="#ece51b"/><rect x="459.0" y="136.6" width="3.3" height="3.3" fill="#b5de2b"/><rect x="462.0" y="136.6" width="3.3" height="3.3" fill="#93d741"/><rect x="465.0" y="136.6" width="3.3" height="3.3" fill="#70cf57"/><rect x="468.0" y="136.6" width="3.3" height="3.3" fill="#54c568"/><rect x="471.0" y="136.6" width="3.3" height="3.3" fill="#3fbc73"/><rect x="474.0" y="136.6" width="3.3" height="3.3" fill="#31b57b"/><rect x="477.0" y="136.6" width="3.3" height="3.3" fill="#27ad81"/><rect x="480.0" y="136.6" width="3.3" height="3.3" fill="#23a983"/><rect x="483.0" y="136.6" width="3.3" height="3.3" fill="#21a585"/><rect x="486.0" y="136.6" width="3.3" height="3.3" fill="#1fa287"/><rect x="489.0" y="136.6" width="3.3" height="3.3" fill="#1fa188"/><rect x="492.0" y="136.6" width="3.3" height="3.3" fill="#1fa088"/><rect x="495.0" y="136.6" width="9.3" height="3.3" fill="#1f9f88"/><rect x="504.0" y="136.6" width="21.3" height="3.3" fill="#1f9e89"/><rect x="360.0" y="139.6" width="57.3" height="3.3" fill="#22a785"/><rect x="417.0" y="139.6" width="3.3" height="3.3" fill="#22a884"/><rect x="420.0" y="139.6" width="3.3" height="3.3" fill="#23a983"/><rect x="423.0" y="139.6" width="3.3" height="3.3" fill="#25ab82"/><rect x="426.0" y="139.6" width="3.3" height="3.3" fill="#27ad81"/><rect x="429.0" y="139.6" width="3.3" height="3.3" fill="#2eb37c"/><rect x="432.0" y="139.6" width="3.3" height="3.3" fill="#3aba76"/><rect x="435.0" y="139.6" width="3.3" height="3.3" fill="#4cc26c"/><rect x="438.0" y="139.6" width="3.3" height="3.3" fill="#60ca60"/><rect x="441.0" y="139.6" width="3.3" height="3.3" fill="#7cd250"/><rect x="444.0" y="139.6" width="3.3" height="3.3" fill="#a0da39"/><rect x="447.0" y="139.6" width="3.3" height="3.3" fill="#c2df23"/><rect x="450.0" y="139.6" width="3.3" height="3.3" fill="#dde318"/><rect x="453.0" y="139.6" width="3.3" height="3.3" fill="#c0df25"/><rect x="456.0" y="139.6" width="3.3" height="3.3" fill="#9dd93b"/><rect x="459.0" y="139.6" width="3.3" height="3.3" fill="#7ad151"/><rect x="462.0" y="139.6" width="3.3" height="3.3" fill="#5cc863"/><rect x="465.0" y="139.6" width="3.3" height="3.3" fill="#46c06f"/><rect x="468.0" y="139.6" width="3.3" height="3.3" fill="#35b779"/><rect x="471.0" y="139.6" width="3.3" height="3.3" fill="#2ab07f"/><rect x="474.0" y="139.6" width="3.3" height="3.3" fill="#25ab82"/><rect x="477.0" y="139.6" width="3.3" height="3.3" fill="#21a685"/><rect x="480.0" y="139.6" width="3.3" height="3.3" fill="#20a386"/><rect x="483.0" y="139.6" width="3.3" height="3.3" fill="#1fa187"/><rect x="486.0" y="139.6" width="6.3" height="3.3" fill="#1fa088"/><rect x="492.0" y="139.6" width="6.3" height="3.3" fill="#1f9f88"/><rect x="498.0" y="139.6" width="27.3" height="3.3" fill="#1f9e89"/><rect x="360.0" y="142.6" width="54.3" height="3.3" fill="#22a785"/><rect x="414.0" y="142.6" width="3.3" height="3.3" fill="#22a884"/><rect x="417.0" y="142.6" width="3.3" height="3.3" fill="#23a983"/><rect x="420.0" y="142.6" width="3.3" height="3.3" fill="#25ab82"/><rect x="423.0" y="142.6" width="3.3" height="3.3" fill="#27ad81"/><rect x="426.0" y="142.6" width="3.3" height="3.3" fill="#2eb37c"/><rect x="429.0" y="142.6" width="3.3" height="3.3" fill="#3aba76"/><rect x="432.0" y="142.6" width="3.3" height="3.3" fill="#4cc26c"/><rect x="435.0" y="142.6" width="3.3" height="3.3" fill="#63cb5f"/><rect x="438.0" y="142.6" width="3.3" height="3.3" fill="#7cd250"/><rect x="441.0" y="142.6" width="3.3" height="3.3" fill="#90d743"/><rect x="444.0" y="142.6" width="3.3" height="3.3" fill="#a2da37"/><rect x="447.0" y="142.6" width="3.3" height="3.3" fill="#aadc32"/><rect x="450.0" y="142.6" width="3.3" height="3.3" fill="#a5db36"/><rect x="453.0" y="142.6" width="3.3" height="3.3" fill="#8bd646"/><rect x="456.0" y="142.6" width="3.3" height="3.3" fill="#69cd5b"/><rect x="459.0" y="142.6" width="3.3" height="3.3" fill="#4cc26c"/><rect x="462.0" y="142.6" width="3.3" height="3.3" fill="#3aba76"/><rect x="465.0" y="142.6" width="3.3" height="3.3" fill="#2db27d"/><rect x="468.0" y="142.6" width="3.3" height="3.3" fill="#26ad81"/><rect x="471.0" y="142.6" width="3.3" height="3.3" fill="#22a884"/><rect x="474.0" y="142.6" width="3.3" height="3.3" fill="#20a486"/><rect x="477.0" y="142.6" width="3.3" height="3.3" fill="#1fa187"/><rect x="480.0" y="142.6" width="3.3" height="3.3" fill="#1fa188"/><rect x="483.0" y="142.6" width="3.3" height="3.3" fill="#1fa088"/><rect x="486.0" y="142.6" width="6.3" height="3.3" fill="#1f9f88"/><rect x="492.0" y="142.6" width="33.3" height="3.3" fill="#1f9e89"/><rect x="360.0" y="145.6" width="48.3" height="3.3" fill="#22a785"/><rect x="408.0" y="145.6" width="6.3" height="3.3" fill="#22a884"/><rect x="414.0" y="145.6" width="3.3" height="3.3" fill="#23a983"/><rect x="417.0" y="145.6" width="3.3" height="3.3" fill="#25ab82"/><rect x="420.0" y="145.6" width="3.3" height="3.3" fill="#27ad81"/><rect x="423.0" y="145.6" width="3.3" height="3.3" fill="#2eb37c"/><rect x="426.0" y="145.6" width="3.3" height="3.3" fill="#3aba76"/><rect x="429.0" y="145.6" width="3.3" height="3.3" fill="#4cc26c"/><rect x="432.0" y="145.6" width="3.3" height="3.3" fill="#63cb5f"/><rect x="435.0" y="145.6" width="3.3" height="3.3" fill="#7cd250"/><rect x="438.0" y="145.6" width="3.3" height="3.3" fill="#90d743"/><rect x="441.0" y="145.6" width="3.3" height="3.3" fill="#9bd93c"/><rect x="444.0" y="145.6" width="3.3" height="3.3" fill="#98d83e"/><rect x="447.0" y="145.6" width="3.3" height="3.3" fill="#8ed645"/><rect x="450.0" y="145.6" width="3.3" height="3.3" fill="#77d153"/><rect x="453.0" y="145.6" width="3.3" height="3.3" fill="#5ec962"/><rect x="456.0" y="145.6" width="3.3" height="3.3" fill="#44bf70"/><rect x="459.0" y="145.6" width="3.3" height="3.3" fill="#32b67a"/><rect x="462.0" y="145.6" width="3.3" height="3.3" fill="#28ae80"/><rect x="465.0" y="145.6" width="3.3" height="3.3" fill="#23a983"/><rect x="468.0" y="145.6" width="3.3" height="3.3" fill="#21a585"/><rect x="471.0" y="145.6" width="3.3" height="3.3" fill="#1fa287"/><rect x="474.0" y="145.6" width="3.3" height="3.3" fill="#1fa188"/><rect x="477.0" y="145.6" width="3.3" height="3.3" fill="#1fa088"/><rect x="480.0" y="145.6" width="6.3" height="3.3" fill="#1f9f88"/><rect x="486.0" y="145.6" width="39.3" height="3.3" fill="#1f9e89"/><rect x="360.0" y="148.6" width="45.3" height="3.3" fill="#22a785"/><rect x="405.0" y="148.6" width="6.3" height="3.3" fill="#22a884"/><rect x="411.0" y="148.6" width="3.3" height="3.3" fill="#24aa83"/><rect x="414.0" y="148.6" width="3.3" height="3.3" fill="#25ac82"/><rect x="417.0" y="148.6" width="3.3" height="3.3" fill="#29af7f"/><rect x="420.0" y="148.6" width="3.3" height="3.3" fill="#2fb47c"/><rect x="423.0" y="148.6" width="3.3" height="3.3" fill="#3dbc74"/><rect x="426.0" y="148.6" width="3.3" height="3.3" fill="#52c569"/><rect x="429.0" y="148.6" width="3.3" height="3.3" fill="#69cd5b"/><rect x="432.0" y="148.6" width="3.3" height="3.3" fill="#7fd34e"/><rect x="435.0" y="148.6" width="3.3" height="3.3" fill="#90d743"/><rect x="438.0" y="148.6" width="3.3" height="3.3" fill="#98d83e"/><rect x="441.0" y="148.6" width="3.3" height="3.3" fill="#93d741"/><rect x="444.0" y="148.6" width="3.3" height="3.3" fill="#84d44b"/><rect x="447.0" y="148.6" width="3.3" height="3.3" fill="#6ece58"/><rect x="450.0" y="148.6" width="3.3" height="3.3" fill="#56c667"/><rect x="453.0" y="148.6" width="3.3" height="3.3" fill="#3fbc73"/><rect x="456.0" y="148.6" width="3.3" height="3.3" fill="#2fb47c"/><rect x="459.0" y="148.6" width="3.3" height="3.3" fill="#26ad81"/><rect x="462.0" y="148.6" width="3.3" height="3.3" fill="#22a785"/><rect x="465.0" y="148.6" width="3.3" height="3.3" fill="#20a386"/><rect x="468.0" y="148.6" width="3.3" height="3.3" fill="#1fa187"/><rect x="471.0" y="148.6" width="3.3" height="3.3" fill="#1fa088"/><rect x="474.0" y="148.6" width="9.3" height="3.3" fill="#1f9f88"/><rect x="483.0" y="148.6" width="42.3" height="3.3" fill="#1f9e89"/><rect x="360.0" y="151.6" width="39.3" height="3.3" fill="#22a785"/><rect x="399.0" y="151.6" width="6.3" height="3.3" fill="#22a884"/><rect x="405.0" y="151.6" width="3.3" height="3.3" fill="#23a983"/><rect x="408.0" y="151.6" width="3.3" height="3.3" fill="#24aa83"/><rect x="411.0" y="151.6" width="3.3" height="3.3" fill="#26ad81"/><rect x="414.0" y="151.6" width="3.3" height="3.3" fill="#2cb17e"/><rect x="417.0" y="151.6" width="3.3" height="3.3" fill="#35b779"/><rect x="420.0" y="151.6" width="3.3" height="3.3" fill="#44bf70"/><rect x="423.0" y="151.6" width="3.3" height="3.3" fill="#5ec962"/><rect x="426.0" y="151.6" width="3.3" height="3.3" fill="#7fd34e"/><rect x="429.0" y="151.6" width="3.3" height="3.3" fill="#95d840"/><rect x="432.0" y="151.6" width="6.3" height="3.3" fill="#9dd93b"/><rect x="438.0" y="151.6" width="3.3" height="3.3" fill="#93d741"/><rect x="441.0" y="151.6" width="3.3" height="3.3" fill="#81d34d"/><rect x="444.0" y="151.6" width="3.3" height="3.3" fill="#67cc5c"/><rect x="447.0" y="151.6" width="3.3" height="3.3" fill="#50c46a"/><rect x="450.0" y="151.6" width="3.3" height="3.3" fill="#3bbb75"/><rect x="453.0" y="151.6" width="3.3" height="3.3" fill="#2db27d"/><rect x="456.0" y="151.6" width="3.3" height="3.3" fill="#25ab82"/><rect x="459.0" y="151.6" width="3.3" height="3.3" fill="#21a685"/><rect x="462.0" y="151.6" width="3.3" height="3.3" fill="#1fa287"/><rect x="465.0" y="151.6" width="3.3" height="3.3" fill="#1fa188"/><rect x="468.0" y="151.6" width="3.3" height="3.3" fill="#1fa088"/><rect x="471.0" y="151.6" width="6.3" height="3.3" fill="#1f9f88"/><rect x="477.0" y="151.6" width="48.3" height="3.3" fill="#1f9e89"/><rect x="360.0" y="154.6" width="36.3" height="3.3" fill="#22a785"/><rect x="396.0" y="154.6" width="6.3" height="3.3" fill="#22a884"/><rect x="402.0" y="154.6" width="3.3" height="3.3" fill="#23a983"/><rect x="405.0" y="154.6" width="3.3" height="3.3" fill="#25ac82"/><rect x="408.0" y="154.6" width="3.3" height="3.3" fill="#28ae80"/><rect x="411.0" y="154.6" width="3.3" height="3.3" fill="#2fb47c"/><rect x="414.0" y="154.6" width="3.3" height="3.3" fill="#3bbb75"/><rect x="417.0" y="154.6" width="3.3" height="3.3" fill="#52c569"/><rect x="420.0" y="154.6" width="3.3" height="3.3" fill="#7cd250"/><rect x="423.0" y="154.6" width="3.3" height="3.3" fill="#b2dd2d"/><rect x="426.0" y="154.6" width="3.3" height="3.3" fill="#e5e419"/><rect x="429.0" y="154.6" width="3.3" height="3.3" fill="#cde11d"/><rect x="432.0" y="154.6" width="3.3" height="3.3" fill="#b5de2b"/><rect x="435.0" y="154.6" width="3.3" height="3.3" fill="#9dd93b"/><rect x="438.0" y="154.6" width="3.3" height="3.3" fill="#84d44b"/><rect x="441.0" y="154.6" width="3.3" height="3.3" fill="#67cc5c"/><rect x="444.0" y="154.6" width="3.3" height="3.3" fill="#4ec36b"/><rect x="447.0" y="154.6" width="3.3" height="3.3" fill="#38b977"/><rect x="450.0" y="154.6" width="3.3" height="3.3" fill="#2ab07f"/><rect x="453.0" y="154.6" width="3.3" height="3.3" fill="#24aa83"/><rect x="456.0" y="154.6" width="3.3" height="3.3" fill="#21a585"/><rect x="459.0" y="154.6" width="3.3" height="3.3" fill="#1fa287"/><rect x="462.0" y="154.6" width="3.3" height="3.3" fill="#1fa188"/><rect x="465.0" y="154.6" width="9.3" height="3.3" fill="#1f9f88"/><rect x="474.0" y="154.6" width="51.3" height="3.3" fill="#1f9e89"/><rect x="360.0" y="157.6" width="30.3" height="3.3" fill="#22a785"/><rect x="390.0" y="157.6" width="6.3" height="3.3" fill="#22a884"/><rect x="396.0" y="157.6" width="3.3" height="3.3" fill="#23a983"/><rect x="399.0" y="157.6" width="3.3" height="3.3" fill="#25ab82"/><rect x="402.0" y="157.6" width="3.3" height="3.3" fill="#26ad81"/><rect x="405.0" y="157.6" width="3.3" height="3.3" fill="#2cb17e"/><rect x="408.0" y="157.6" width="3.3" height="3.3" fill="#35b779"/><rect x="411.0" y="157.6" width="3.3" height="3.3" fill="#4cc26c"/><rect x="414.0" y="157.6" width="3.3" height="3.3" fill="#73d056"/><rect x="417.0" y="157.6" width="3.3" height="3.3" fill="#a8db34"/><rect x="420.0" y="157.6" width="3.3" height="3.3" fill="#dfe318"/><rect x="423.0" y="157.6" width="6.3" height="3.3" fill="#fde725"/><rect x="429.0" y="157.6" width="3.3" height="3.3" fill="#f6e620"/><rect x="432.0" y="157.6" width="3.3" height="3.3" fill="#b5de2b"/><rect x="435.0" y="157.6" width="3.3" height="3.3" fill="#8bd646"/><rect x="438.0" y="157.6" width="3.3" height="3.3" fill="#69cd5b"/><rect x="441.0" y="157.6" width="3.3" height="3.3" fill="#4ec36b"/><rect x="444.0" y="157.6" width="3.3" height="3.3" fill="#38b977"/><rect x="447.0" y="157.6" width="3.3" height="3.3" fill="#2ab07f"/><rect x="450.0" y="157.6" width="3.3" height="3.3" fill="#23a983"/><rect x="453.0" y="157.6" width="3.3" height="3.3" fill="#20a486"/><rect x="456.0" y="157.6" width="3.3" height="3.3" fill="#1fa187"/><rect x="459.0" y="157.6" width="3.3" height="3.3" fill="#1fa088"/><rect x="462.0" y="157.6" width="6.3" height="3.3" fill="#1f9f88"/><rect x="468.0" y="157.6" width="57.3" height="3.3" fill="#1f9e89"/><rect x="360.0" y="160.6" width="24.3" height="3.3" fill="#22a785"/><rect x="384.0" y="160.6" width="6.3" height="3.3" fill="#22a884"/><rect x="390.0" y="160.6" width="3.3" height="3.3" fill="#23a983"/><rect x="393.0" y="160.6" width="3.3" height="3.3" fill="#25ab82"/><rect x="396.0" y="160.6" width="3.3" height="3.3" fill="#26ad81"/><rect x="399.0" y="160.6" width="3.3" height="3.3" fill="#2ab07f"/><rect x="402.0" y="160.6" width="3.3" height="3.3" fill="#32b67a"/><rect x="405.0" y="160.6" width="3.3" height="3.3" fill="#46c06f"/><rect x="408.0" y="160.6" width="3.3" height="3.3" fill="#69cd5b"/><rect x="411.0" y="160.6" width="3.3" height="3.3" fill="#9dd93b"/><rect x="414.0" y="160.6" width="3.3" height="3.3" fill="#d5e21a"/><rect x="417.0" y="160.6" width="9.3" height="3.3" fill="#fde725"/><rect x="426.0" y="160.6" width="3.3" height="3.3" fill="#f6e620"/><rect x="429.0" y="160.6" width="3.3" height="3.3" fill="#c2df23"/><rect x="432.0" y="160.6" width="3.3" height="3.3" fill="#9bd93c"/><rect x="435.0" y="160.6" width="3.3" height="3.3" fill="#6ece58"/><rect x="438.0" y="160.6" width="3.3" height="3.3" fill="#4ec36b"/><rect x="441.0" y="160.6" width="3.3" height="3.3" fill="#38b977"/><rect x="444.0" y="160.6" width="3.3" height="3.3" fill="#29af7f"/><rect x="447.0" y="160.6" width="3.3" height="3.3" fill="#23a983"/><rect x="450.0" y="160.6" width="3.3" height="3.3" fill="#20a486"/><rect x="453.0" y="160.6" width="3.3" height="3.3" fill="#1fa187"/><rect x="456.0" y="160.6" width="3.3" height="3.3" fill="#1fa088"/><rect x="459.0" y="160.6" width="6.3" height="3.3" fill="#1f9f88"/><rect x="465.0" y="160.6" width="60.3" height="3.3" fill="#1f9e89"/><rect x="360.0" y="163.6" width="18.3" height="3.3" fill="#22a785"/><rect x="378.0" y="163.6" width="6.3" height="3.3" fill="#22a884"/><rect x="384.0" y="163.6" width="3.3" height="3.3" fill="#23a983"/><rect x="387.0" y="163.6" width="3.3" height="3.3" fill="#24aa83"/><rect x="390.0" y="163.6" width="3.3" height="3.3" fill="#25ac82"/><rect x="393.0" y="163.6" width="3.3" height="3.3" fill="#29af7f"/><rect x="396.0" y="163.6" width="3.3" height="3.3" fill="#31b57b"/><rect x="399.0" y="163.6" width="3.3" height="3.3" fill="#42be71"/><rect x="402.0" y="163.6" width="3.3" height="3.3" fill="#63cb5f"/><rect x="405.0" y="163.6" width="3.3" height="3.3" fill="#93d741"/><rect x="408.0" y="163.6" width="3.3" height="3.3" fill="#cae11f"/><rect x="411.0" y="163.6" width="3.3" height="3.3" fill="#f8e621"/><rect x="414.0" y="163.6" width="6.3" height="3.3" fill="#fde725"/><rect x="420.0" y="163.6" width="3.3" height="3.3" fill="#fbe723"/><rect x="423.0" y="163.6" width="3.3" height="3.3" fill="#d0e11c"/><rect x="426.0" y="163.6" width="3.3" height="3.3" fill="#b2dd2d"/><rect x="429.0" y="163.6" width="3.3" height="3.3" fill="#90d743"/><rect x="432.0" y="163.6" width="3.3" height="3.3" fill="#6ece58"/><rect x="435.0" y="163.6" width="3.3" height="3.3" fill="#50c46a"/><rect x="438.0" y="163.6" width="3.3" height="3.3" fill="#38b977"/><rect x="441.0" y="163.6" width="3.3" height="3.3" fill="#29af7f"/><rect x="444.0" y="163.6" width="3.3" height="3.3" fill="#23a983"/><rect x="447.0" y="163.6" width="3.3" height="3.3" fill="#20a486"/><rect x="450.0" y="163.6" width="3.3" height="3.3" fill="#1fa187"/><rect x="453.0" y="163.6" width="3.3" height="3.3" fill="#1fa088"/><rect x="456.0" y="163.6" width="6.3" height="3.3" fill="#1f9f88"/><rect x="462.0" y="163.6" width="63.3" height="3.3" fill="#1f9e89"/><rect x="360.0" y="166.6" width="12.3" height="3.3" fill="#22a785"/><rect x="372.0" y="166.6" width="6.3" height="3.3" fill="#22a884"/><rect x="378.0" y="166.6" width="3.3" height="3.3" fill="#23a983"/><rect x="381.0" y="166.6" width="3.3" height="3.3" fill="#24aa83"/><rect x="384.0" y="166.6" width="3.3" height="3.3" fill="#25ac82"/><rect x="387.0" y="166.6" width="3.3" height="3.3" fill="#28ae80"/><rect x="390.0" y="166.6" width="3.3" height="3.3" fill="#2eb37c"/><rect x="393.0" y="166.6" width="3.3" height="3.3" fill="#3fbc73"/><rect x="396.0" y="166.6" width="3.3" height="3.3" fill="#5cc863"/><rect x="399.0" y="166.6" width="3.3" height="3.3" fill="#8bd646"/><rect x="402.0" y="166.6" width="3.3" height="3.3" fill="#c2df23"/><rect x="405.0" y="166.6" width="3.3" height="3.3" fill="#f1e51d"/><rect x="408.0" y="166.6" width="9.3" height="3.3" fill="#fde725"/><rect x="417.0" y="166.6" width="3.3" height="3.3" fill="#d8e219"/><rect x="420.0" y="166.6" width="3.3" height="3.3" fill="#bddf26"/><rect x="423.0" y="166.6" width="3.3" height="3.3" fill="#a0da39"/><rect x="426.0" y="166.6" width="3.3" height="3.3" fill="#81d34d"/><rect x="429.0" y="166.6" width="3.3" height="3.3" fill="#63cb5f"/><rect x="432.0" y="166.6" width="3.3" height="3.3" fill="#4ac16d"/><rect x="435.0" y="166.6" width="3.3" height="3.3" fill="#37b878"/><rect x="438.0" y="166.6" width="3.3" height="3.3" fill="#29af7f"/><rect x="441.0" y="166.6" width="3.3" height="3.3" fill="#23a983"/><rect x="444.0" y="166.6" width="3.3" height="3.3" fill="#20a486"/><rect x="447.0" y="166.6" width="3.3" height="3.3" fill="#1fa187"/><rect x="450.0" y="166.6" width="3.3" height="3.3" fill="#1fa088"/><rect x="453.0" y="166.6" width="6.3" height="3.3" fill="#1f9f88"/><rect x="459.0" y="166.6" width="66.3" height="3.3" fill="#1f9e89"/><rect x="360.0" y="169.6" width="6.3" height="3.3" fill="#22a785"/><rect x="366.0" y="169.6" width="9.3" height="3.3" fill="#22a884"/><rect x="375.0" y="169.6" width="3.3" height="3.3" fill="#24aa83"/><rect x="378.0" y="169.6" width="3.3" height="3.3" fill="#25ac82"/><rect x="381.0" y="169.6" width="3.3" height="3.3" fill="#28ae80"/><rect x="384.0" y="169.6" width="3.3" height="3.3" fill="#2db27d"/><rect x="387.0" y="169.6" width="3.3" height="3.3" fill="#3bbb75"/><rect x="390.0" y="169.6" width="3.3" height="3.3" fill="#58c765"/><rect x="393.0" y="169.6" width="3.3" height="3.3" fill="#84d44b"/><rect x="396.0" y="169.6" width="3.3" height="3.3" fill="#bade28"/><rect x="399.0" y="169.6" width="3.3" height="3.3" fill="#ece51b"/><rect x="402.0" y="169.6" width="9.3" height="3.3" fill="#fde725"/><rect x="411.0" y="169.6" width="3.3" height="3.3" fill="#dfe318"/><rect x="414.0" y="169.6" width="3.3" height="3.3" fill="#c2df23"/><rect x="417.0" y="169.6" width="3.3" height="3.3" fill="#aadc32"/><rect x="420.0" y="169.6" width="3.3" height="3.3" fill="#8ed645"/><rect x="423.0" y="169.6" width="3.3" height="3.3" fill="#70cf57"/><rect x="426.0" y="169.6" width="3.3" height="3.3" fill="#56c667"/><rect x="429.0" y="169.6" width="3.3" height="3.3" fill="#40bd72"/><rect x="432.0" y="169.6" width="3.3" height="3.3" fill="#31b57b"/><rect x="435.0" y="169.6" width="3.3" height="3.3" fill="#27ad81"/><rect x="438.0" y="169.6" width="3.3" height="3.3" fill="#22a884"/><rect x="441.0" y="169.6" width="3.3" height="3.3" fill="#20a486"/><rect x="444.0" y="169.6" width="3.3" height="3.3" fill="#1fa187"/><rect x="447.0" y="169.6" width="3.3" height="3.3" fill="#1fa088"/><rect x="450.0" y="169.6" width="3.3" height="3.3" fill="#1f9f88"/><rect x="453.0" y="169.6" width="72.3" height="3.3" fill="#1f9e89"/><rect x="360.0" y="172.6" width="3.3" height="3.3" fill="#22a785"/><rect x="363.0" y="172.6" width="6.3" height="3.3" fill="#22a884"/><rect x="369.0" y="172.6" width="3.3" height="3.3" fill="#23a983"/><rect x="372.0" y="172.6" width="3.3" height="3.3" fill="#25ab82"/><rect x="375.0" y="172.6" width="3.3" height="3.3" fill="#27ad81"/><rect x="378.0" y="172.6" width="3.3" height="3.3" fill="#2cb17e"/><rect x="381.0" y="172.6" width="3.3" height="3.3" fill="#38b977"/><rect x="384.0" y="172.6" width="3.3" height="3.3" fill="#52c569"/><rect x="387.0" y="172.6" width="3.3" height="3.3" fill="#7cd250"/><rect x="390.0" y="172.6" width="3.3" height="3.3" fill="#b2dd2d"/><rect x="393.0" y="172.6" width="3.3" height="3.3" fill="#e5e419"/><rect x="396.0" y="172.6" width="9.3" height="3.3" fill="#fde725"/><rect x="405.0" y="172.6" width="3.3" height="3.3" fill="#e5e419"/><rect x="408.0" y="172.6" width="3.3" height="3.3" fill="#c2df23"/><rect x="411.0" y="172.6" width="3.3" height="3.3" fill="#b0dd2f"/><rect x="414.0" y="172.6" width="3.3" height="3.3" fill="#98d83e"/><rect x="417.0" y="172.6" width="3.3" height="3.3" fill="#7fd34e"/><rect x="420.0" y="172.6" width="3.3" height="3.3" fill="#63cb5f"/><rect x="423.0" y="172.6" width="3.3" height="3.3" fill="#4cc26c"/><rect x="426.0" y="172.6" width="3.3" height="3.3" fill="#3aba76"/><rect x="429.0" y="172.6" width="3.3" height="3.3" fill="#2db27d"/><rect x="432.0" y="172.6" width="3.3" height="3.3" fill="#25ac82"/><rect x="435.0" y="172.6" width="3.3" height="3.3" fill="#22a785"/><rect x="438.0" y="172.6" width="3.3" height="3.3" fill="#20a386"/><rect x="441.0" y="172.6" width="3.3" height="3.3" fill="#1fa188"/><rect x="444.0" y="172.6" width="3.3" height="3.3" fill="#1fa088"/><rect x="447.0" y="172.6" width="3.3" height="3.3" fill="#1f9f88"/><rect x="450.0" y="172.6" width="75.3" height="3.3" fill="#1f9e89"/><rect x="360.0" y="175.6" width="3.3" height="3.3" fill="#22a884"/><rect x="363.0" y="175.6" width="3.3" height="3.3" fill="#23a983"/><rect x="366.0" y="175.6" width="3.3" height="3.3" fill="#24aa83"/><rect x="369.0" y="175.6" width="3.3" height="3.3" fill="#26ad81"/><rect x="372.0" y="175.6" width="3.3" height="3.3" fill="#2ab07f"/><rect x="375.0" y="175.6" width="3.3" height="3.3" fill="#37b878"/><rect x="378.0" y="175.6" width="3.3" height="3.3" fill="#4ec36b"/><rect x="381.0" y="175.6" width="3.3" height="3.3" fill="#75d054"/><rect x="384.0" y="175.6" width="3.3" height="3.3" fill="#aadc32"/><rect x="387.0" y="175.6" width="3.3" height="3.3" fill="#dfe318"/><rect x="390.0" y="175.6" width="9.3" height="3.3" fill="#fde725"/><rect x="399.0" y="175.6" width="3.3" height="3.3" fill="#eae51a"/><rect x="402.0" y="175.6" width="3.3" height="3.3" fill="#c0df25"/><rect x="405.0" y="175.6" width="3.3" height="3.3" fill="#aadc32"/><rect x="408.0" y="175.6" width="3.3" height="3.3" fill="#90d743"/><rect x="411.0" y="175.6" width="3.3" height="3.3" fill="#77d153"/><rect x="414.0" y="175.6" width="3.3" height="3.3" fill="#60ca60"/><rect x="417.0" y="175.6" width="3.3" height="3.3" fill="#4ec36b"/><rect x="420.0" y="175.6" width="3.3" height="3.3" fill="#3dbc74"/><rect x="423.0" y="175.6" width="3.3" height="3.3" fill="#31b57b"/><rect x="426.0" y="175.6" width="3.3" height="3.3" fill="#28ae80"/><rect x="429.0" y="175.6" width="3.3" height="3.3" fill="#23a983"/><rect x="432.0" y="175.6" width="3.3" height="3.3" fill="#21a585"/><rect x="435.0" y="175.6" width="3.3" height="3.3" fill="#1fa287"/><rect x="438.0" y="175.6" width="3.3" height="3.3" fill="#1fa188"/><rect x="441.0" y="175.6" width="3.3" height="3.3" fill="#1fa088"/><rect x="444.0" y="175.6" width="3.3" height="3.3" fill="#1f9f88"/><rect x="447.0" y="175.6" width="78.3" height="3.3" fill="#1f9e89"/><rect x="360.0" y="178.6" width="3.3" height="3.3" fill="#23a983"/><rect x="363.0" y="178.6" width="3.3" height="3.3" fill="#25ab82"/><rect x="366.0" y="178.6" width="3.3" height="3.3" fill="#27ad81"/><rect x="369.0" y="178.6" width="3.3" height="3.3" fill="#2eb37c"/><rect x="372.0" y="178.6" width="3.3" height="3.3" fill="#48c16e"/><rect x="375.0" y="178.6" width="3.3" height="3.3" fill="#6ece58"/><rect x="378.0" y="178.6" width="3.3" height="3.3" fill="#a0da39"/><rect x="381.0" y="178.6" width="3.3" height="3.3" fill="#d8e219"/><rect x="384.0" y="178.6" width="9.3" height="3.3" fill="#fde725"/><rect x="393.0" y="178.6" width="3.3" height="3.3" fill="#f1e51d"/><rect x="396.0" y="178.6" width="3.3" height="3.3" fill="#c8e020"/><rect x="399.0" y="178.6" width="3.3" height="3.3" fill="#b0dd2f"/><rect x="402.0" y="178.6" width="3.3" height="3.3" fill="#93d741"/><rect x="405.0" y="178.6" width="3.3" height="3.3" fill="#6ece58"/><rect x="408.0" y="178.6" width="3.3" height="3.3" fill="#4ec36b"/><rect x="411.0" y="178.6" width="3.3" height="3.3" fill="#37b878"/><rect x="414.0" y="178.6" width="3.3" height="3.3" fill="#2ab07f"/><rect x="417.0" y="178.6" width="3.3" height="3.3" fill="#25ac82"/><rect x="420.0" y="178.6" width="3.3" height="3.3" fill="#23a983"/><rect x="423.0" y="178.6" width="3.3" height="3.3" fill="#21a685"/><rect x="426.0" y="178.6" width="3.3" height="3.3" fill="#20a486"/><rect x="429.0" y="178.6" width="3.3" height="3.3" fill="#1fa287"/><rect x="432.0" y="178.6" width="3.3" height="3.3" fill="#1fa188"/><rect x="435.0" y="178.6" width="3.3" height="3.3" fill="#1fa088"/><rect x="438.0" y="178.6" width="6.3" height="3.3" fill="#1f9f88"/><rect x="444.0" y="178.6" width="81.3" height="3.3" fill="#1f9e89"/><rect x="360.0" y="181.6" width="3.3" height="3.3" fill="#25ac82"/><rect x="363.0" y="181.6" width="3.3" height="3.3" fill="#29af7f"/><rect x="366.0" y="181.6" width="3.3" height="3.3" fill="#2fb47c"/><rect x="369.0" y="181.6" width="3.3" height="3.3" fill="#3fbc73"/><rect x="372.0" y="181.6" width="3.3" height="3.3" fill="#81d34d"/><rect x="375.0" y="181.6" width="3.3" height="3.3" fill="#d0e11c"/><rect x="378.0" y="181.6" width="3.3" height="3.3" fill="#fbe723"/><rect x="381.0" y="181.6" width="6.3" height="3.3" fill="#fde725"/><rect x="387.0" y="181.6" width="3.3" height="3.3" fill="#f8e621"/><rect x="390.0" y="181.6" width="3.3" height="3.3" fill="#cde11d"/><rect x="393.0" y="181.6" width="3.3" height="3.3" fill="#bade28"/><rect x="396.0" y="181.6" width="3.3" height="3.3" fill="#a2da37"/><rect x="399.0" y="181.6" width="3.3" height="3.3" fill="#86d549"/><rect x="402.0" y="181.6" width="3.3" height="3.3" fill="#63cb5f"/><rect x="405.0" y="181.6" width="3.3" height="3.3" fill="#40bd72"/><rect x="408.0" y="181.6" width="3.3" height="3.3" fill="#28ae80"/><rect x="411.0" y="181.6" width="3.3" height="3.3" fill="#1fa287"/><rect x="414.0" y="181.6" width="3.3" height="3.3" fill="#1e9b8a"/><rect x="417.0" y="181.6" width="3.3" height="3.3" fill="#1f998a"/><rect x="420.0" y="181.6" width="3.3" height="3.3" fill="#1e9b8a"/><rect x="423.0" y="181.6" width="3.3" height="3.3" fill="#1e9d89"/><rect x="426.0" y="181.6" width="15.3" height="3.3" fill="#1f9f88"/><rect x="441.0" y="181.6" width="84.3" height="3.3" fill="#1f9e89"/><rect x="360.0" y="184.6" width="3.3" height="3.3" fill="#2ab07f"/><rect x="363.0" y="184.6" width="3.3" height="3.3" fill="#32b67a"/><rect x="366.0" y="184.6" width="3.3" height="3.3" fill="#40bd72"/><rect x="369.0" y="184.6" width="3.3" height="3.3" fill="#58c765"/><rect x="372.0" y="184.6" width="3.3" height="3.3" fill="#a8db34"/><rect x="375.0" y="184.6" width="9.3" height="3.3" fill="#fde725"/><rect x="384.0" y="184.6" width="3.3" height="3.3" fill="#d5e21a"/><rect x="387.0" y="184.6" width="3.3" height="3.3" fill="#c0df25"/><rect x="390.0" y="184.6" width="3.3" height="3.3" fill="#addc30"/><rect x="393.0" y="184.6" width="3.3" height="3.3" fill="#95d840"/><rect x="396.0" y="184.6" width="3.3" height="3.3" fill="#7cd250"/><rect x="399.0" y="184.6" width="3.3" height="3.3" fill="#60ca60"/><rect x="402.0" y="184.6" width="3.3" height="3.3" fill="#46c06f"/><rect x="405.0" y="184.6" width="3.3" height="3.3" fill="#2fb47c"/><rect x="408.0" y="184.6" width="3.3" height="3.3" fill="#22a884"/><rect x="411.0" y="184.6" width="3.3" height="3.3" fill="#1f9f88"/><rect x="414.0" y="184.6" width="3.3" height="3.3" fill="#1f998a"/><rect x="417.0" y="184.6" width="3.3" height="3.3" fill="#1f988b"/><rect x="420.0" y="184.6" width="3.3" height="3.3" fill="#1f998a"/><rect x="423.0" y="184.6" width="3.3" height="3.3" fill="#1e9c89"/><rect x="426.0" y="184.6" width="3.3" height="3.3" fill="#1e9d89"/><rect x="429.0" y="184.6" width="96.3" height="3.3" fill="#1f9e89"/><rect x="360.0" y="187.6" width="3.3" height="3.3" fill="#31b57b"/><rect x="363.0" y="187.6" width="3.3" height="3.3" fill="#42be71"/><rect x="366.0" y="187.6" width="3.3" height="3.3" fill="#58c765"/><rect x="369.0" y="187.6" width="3.3" height="3.3" fill="#73d056"/><rect x="372.0" y="187.6" width="3.3" height="3.3" fill="#9bd93c"/><rect x="375.0" y="187.6" width="3.3" height="3.3" fill="#dae319"/><rect x="378.0" y="187.6" width="3.3" height="3.3" fill="#dde318"/><rect x="381.0" y="187.6" width="3.3" height="3.3" fill="#c2df23"/><rect x="384.0" y="187.6" width="3.3" height="3.3" fill="#b2dd2d"/><rect x="387.0" y="187.6" width="3.3" height="3.3" fill="#9dd93b"/><rect x="390.0" y="187.6" width="3.3" height="3.3" fill="#84d44b"/><rect x="393.0" y="187.6" width="3.3" height="3.3" fill="#6ccd5a"/><rect x="396.0" y="187.6" width="3.3" height="3.3" fill="#58c765"/><rect x="399.0" y="187.6" width="3.3" height="3.3" fill="#44bf70"/><rect x="402.0" y="187.6" width="3.3" height="3.3" fill="#35b779"/><rect x="405.0" y="187.6" width="3.3" height="3.3" fill="#29af7f"/><rect x="408.0" y="187.6" width="3.3" height="3.3" fill="#22a884"/><rect x="411.0" y="187.6" width="3.3" height="3.3" fill="#1fa287"/><rect x="414.0" y="187.6" width="3.3" height="3.3" fill="#1f9f88"/><rect x="417.0" y="187.6" width="3.3" height="3.3" fill="#1f9e89"/><rect x="420.0" y="187.6" width="3.3" height="3.3" fill="#1e9d89"/><rect x="423.0" y="187.6" width="102.3" height="3.3" fill="#1f9e89"/><rect x="360.0" y="190.6" width="3.3" height="3.3" fill="#3aba76"/><rect x="363.0" y="190.6" width="3.3" height="3.3" fill="#52c569"/><rect x="366.0" y="190.6" width="3.3" height="3.3" fill="#70cf57"/><rect x="369.0" y="190.6" width="3.3" height="3.3" fill="#8bd646"/><rect x="372.0" y="190.6" width="3.3" height="3.3" fill="#a2da37"/><rect x="375.0" y="190.6" width="6.3" height="3.3" fill="#b5de2b"/><rect x="381.0" y="190.6" width="3.3" height="3.3" fill="#a2da37"/><rect x="384.0" y="190.6" width="3.3" height="3.3" fill="#8bd646"/><rect x="387.0" y="190.6" width="3.3" height="3.3" fill="#73d056"/><rect x="390.0" y="190.6" width="3.3" height="3.3" fill="#5ec962"/><rect x="393.0" y="190.6" width="3.3" height="3.3" fill="#4ac16d"/><rect x="396.0" y="190.6" width="3.3" height="3.3" fill="#3aba76"/><rect x="399.0" y="190.6" width="3.3" height="3.3" fill="#2fb47c"/><rect x="402.0" y="190.6" width="3.3" height="3.3" fill="#27ad81"/><rect x="405.0" y="190.6" width="3.3" height="3.3" fill="#23a983"/><rect x="408.0" y="190.6" width="3.3" height="3.3" fill="#21a585"/><rect x="411.0" y="190.6" width="3.3" height="3.3" fill="#1fa287"/><rect x="414.0" y="190.6" width="3.3" height="3.3" fill="#1fa188"/><rect x="417.0" y="190.6" width="6.3" height="3.3" fill="#1f9f88"/><rect x="423.0" y="190.6" width="102.3" height="3.3" fill="#1f9e89"/></g></g>
<g clip-path="url(#hc4)"><g filter="url(#hf4)"><rect x="520.0" y="106.4" width="168.3" height="3.3" fill="#472e7c"/><rect x="520.0" y="109.4" width="168.3" height="3.3" fill="#472e7c"/><rect x="520.0" y="112.4" width="168.3" height="3.3" fill="#472e7c"/><rect x="520.0" y="115.4" width="168.3" height="3.3" fill="#472e7c"/><rect x="520.0" y="118.4" width="168.3" height="3.3" fill="#453882"/><rect x="520.0" y="121.4" width="168.3" height="3.3" fill="#3b518b"/><rect x="520.0" y="124.4" width="168.3" height="3.3" fill="#31678e"/><rect x="520.0" y="127.4" width="168.3" height="3.3" fill="#25848e"/><rect x="520.0" y="130.4" width="78.3" height="3.3" fill="#25ac82"/><rect x="598.0" y="130.4" width="21.3" height="3.3" fill="#26ad81"/><rect x="619.0" y="130.4" width="6.3" height="3.3" fill="#27ad81"/><rect x="625.0" y="130.4" width="21.3" height="3.3" fill="#26ad81"/><rect x="646.0" y="130.4" width="42.3" height="3.3" fill="#25ac82"/><rect x="520.0" y="133.4" width="54.3" height="3.3" fill="#81d34d"/><rect x="574.0" y="133.4" width="9.3" height="3.3" fill="#84d44b"/><rect x="583.0" y="133.4" width="6.3" height="3.3" fill="#86d549"/><rect x="589.0" y="133.4" width="3.3" height="3.3" fill="#89d548"/><rect x="592.0" y="133.4" width="6.3" height="3.3" fill="#8bd646"/><rect x="598.0" y="133.4" width="3.3" height="3.3" fill="#8ed645"/><rect x="601.0" y="133.4" width="3.3" height="3.3" fill="#90d743"/><rect x="604.0" y="133.4" width="3.3" height="3.3" fill="#93d741"/><rect x="607.0" y="133.4" width="3.3" height="3.3" fill="#95d840"/><rect x="610.0" y="133.4" width="6.3" height="3.3" fill="#98d83e"/><rect x="616.0" y="133.4" width="12.3" height="3.3" fill="#9bd93c"/><rect x="628.0" y="133.4" width="6.3" height="3.3" fill="#98d83e"/><rect x="634.0" y="133.4" width="3.3" height="3.3" fill="#95d840"/><rect x="637.0" y="133.4" width="3.3" height="3.3" fill="#93d741"/><rect x="640.0" y="133.4" width="3.3" height="3.3" fill="#90d743"/><rect x="643.0" y="133.4" width="3.3" height="3.3" fill="#8ed645"/><rect x="646.0" y="133.4" width="6.3" height="3.3" fill="#8bd646"/><rect x="652.0" y="133.4" width="3.3" height="3.3" fill="#89d548"/><rect x="655.0" y="133.4" width="6.3" height="3.3" fill="#86d549"/><rect x="661.0" y="133.4" width="9.3" height="3.3" fill="#84d44b"/><rect x="670.0" y="133.4" width="18.3" height="3.3" fill="#81d34d"/><rect x="520.0" y="136.4" width="51.3" height="3.3" fill="#c0df25"/><rect x="571.0" y="136.4" width="6.3" height="3.3" fill="#c2df23"/><rect x="577.0" y="136.4" width="6.3" height="3.3" fill="#c5e021"/><rect x="583.0" y="136.4" width="3.3" height="3.3" fill="#c8e020"/><rect x="586.0" y="136.4" width="3.3" height="3.3" fill="#cae11f"/><rect x="589.0" y="136.4" width="3.3" height="3.3" fill="#d0e11c"/><rect x="592.0" y="136.4" width="3.3" height="3.3" fill="#d2e21b"/><rect x="595.0" y="136.4" width="3.3" height="3.3" fill="#d8e219"/><rect x="598.0" y="136.4" width="3.3" height="3.3" fill="#dde318"/><rect x="601.0" y="136.4" width="3.3" height="3.3" fill="#e2e418"/><rect x="604.0" y="136.4" width="3.3" height="3.3" fill="#e7e419"/><rect x="607.0" y="136.4" width="3.3" height="3.3" fill="#ece51b"/><rect x="610.0" y="136.4" width="3.3" height="3.3" fill="#efe51c"/><rect x="613.0" y="136.4" width="3.3" height="3.3" fill="#f4e61e"/><rect x="616.0" y="136.4" width="12.3" height="3.3" fill="#f6e620"/><rect x="628.0" y="136.4" width="3.3" height="3.3" fill="#f4e61e"/><rect x="631.0" y="136.4" width="3.3" height="3.3" fill="#efe51c"/><rect x="634.0" y="136.4" width="3.3" height="3.3" fill="#ece51b"/><rect x="637.0" y="136.4" width="3.3" height="3.3" fill="#e7e419"/><rect x="640.0" y="136.4" width="3.3" height="3.3" fill="#e2e418"/><rect x="643.0" y="136.4" width="3.3" height="3.3" fill="#dde318"/><rect x="646.0" y="136.4" width="3.3" height="3.3" fill="#d8e219"/><rect x="649.0" y="136.4" width="3.3" height="3.3" fill="#d2e21b"/><rect x="652.0" y="136.4" width="3.3" height="3.3" fill="#d0e11c"/><rect x="655.0" y="136.4" width="3.3" height="3.3" fill="#cae11f"/><rect x="658.0" y="136.4" width="3.3" height="3.3" fill="#c8e020"/><rect x="661.0" y="136.4" width="6.3" height="3.3" fill="#c5e021"/><rect x="667.0" y="136.4" width="6.3" height="3.3" fill="#c2df23"/><rect x="673.0" y="136.4" width="15.3" height="3.3" fill="#c0df25"/><rect x="520.0" y="139.4" width="45.3" height="3.3" fill="#c8e020"/><rect x="565.0" y="139.4" width="12.3" height="3.3" fill="#cae11f"/><rect x="577.0" y="139.4" width="3.3" height="3.3" fill="#cde11d"/><rect x="580.0" y="139.4" width="6.3" height="3.3" fill="#d0e11c"/><rect x="586.0" y="139.4" width="3.3" height="3.3" fill="#d2e21b"/><rect x="589.0" y="139.4" width="3.3" height="3.3" fill="#d8e219"/><rect x="592.0" y="139.4" width="3.3" height="3.3" fill="#dae319"/><rect x="595.0" y="139.4" width="3.3" height="3.3" fill="#dfe318"/><rect x="598.0" y="139.4" width="3.3" height="3.3" fill="#e2e418"/><rect x="601.0" y="139.4" width="3.3" height="3.3" fill="#e7e419"/><rect x="604.0" y="139.4" width="3.3" height="3.3" fill="#ece51b"/><rect x="607.0" y="139.4" width="3.3" height="3.3" fill="#efe51c"/><rect x="610.0" y="139.4" width="3.3" height="3.3" fill="#f4e61e"/><rect x="613.0" y="139.4" width="3.3" height="3.3" fill="#f6e620"/><rect x="616.0" y="139.4" width="12.3" height="3.3" fill="#f8e621"/><rect x="628.0" y="139.4" width="3.3" height="3.3" fill="#f6e620"/><rect x="631.0" y="139.4" width="3.3" height="3.3" fill="#f4e61e"/><rect x="634.0" y="139.4" width="3.3" height="3.3" fill="#efe51c"/><rect x="637.0" y="139.4" width="3.3" height="3.3" fill="#ece51b"/><rect x="640.0" y="139.4" width="3.3" height="3.3" fill="#e7e419"/><rect x="643.0" y="139.4" width="3.3" height="3.3" fill="#e2e418"/><rect x="646.0" y="139.4" width="3.3" height="3.3" fill="#dfe318"/><rect x="649.0" y="139.4" width="3.3" height="3.3" fill="#dae319"/><rect x="652.0" y="139.4" width="3.3" height="3.3" fill="#d8e219"/><rect x="655.0" y="139.4" width="3.3" height="3.3" fill="#d2e21b"/><rect x="658.0" y="139.4" width="6.3" height="3.3" fill="#d0e11c"/><rect x="664.0" y="139.4" width="3.3" height="3.3" fill="#cde11d"/><rect x="667.0" y="139.4" width="12.3" height="3.3" fill="#cae11f"/><rect x="679.0" y="139.4" width="9.3" height="3.3" fill="#c8e020"/><rect x="520.0" y="142.4" width="57.3" height="3.3" fill="#b5de2b"/><rect x="577.0" y="142.4" width="9.3" height="3.3" fill="#b8de29"/><rect x="586.0" y="142.4" width="6.3" height="3.3" fill="#bade28"/><rect x="592.0" y="142.4" width="6.3" height="3.3" fill="#bddf26"/><rect x="598.0" y="142.4" width="6.3" height="3.3" fill="#c0df25"/><rect x="604.0" y="142.4" width="3.3" height="3.3" fill="#c2df23"/><rect x="607.0" y="142.4" width="6.3" height="3.3" fill="#c5e021"/><rect x="613.0" y="142.4" width="18.3" height="3.3" fill="#c8e020"/><rect x="631.0" y="142.4" width="6.3" height="3.3" fill="#c5e021"/><rect x="637.0" y="142.4" width="3.3" height="3.3" fill="#c2df23"/><rect x="640.0" y="142.4" width="6.3" height="3.3" fill="#c0df25"/><rect x="646.0" y="142.4" width="6.3" height="3.3" fill="#bddf26"/><rect x="652.0" y="142.4" width="6.3" height="3.3" fill="#bade28"/><rect x="658.0" y="142.4" width="9.3" height="3.3" fill="#b8de29"/><rect x="667.0" y="142.4" width="21.3" height="3.3" fill="#b5de2b"/><rect x="520.0" y="145.4" width="84.3" height="3.3" fill="#90d743"/><rect x="604.0" y="145.4" width="36.3" height="3.3" fill="#93d741"/><rect x="640.0" y="145.4" width="48.3" height="3.3" fill="#90d743"/><rect x="520.0" y="148.4" width="24.3" height="3.3" fill="#90d743"/><rect x="544.0" y="148.4" width="93.3" height="3.3" fill="#93d741"/><rect x="637.0" y="148.4" width="51.3" height="3.3" fill="#90d743"/><rect x="520.0" y="151.4" width="24.3" height="3.3" fill="#a5db36"/><rect x="544.0" y="151.4" width="12.3" height="3.3" fill="#a8db34"/><rect x="556.0" y="151.4" width="6.3" height="3.3" fill="#aadc32"/><rect x="562.0" y="151.4" width="9.3" height="3.3" fill="#addc30"/><rect x="571.0" y="151.4" width="9.3" height="3.3" fill="#b0dd2f"/><rect x="580.0" y="151.4" width="12.3" height="3.3" fill="#b2dd2d"/><rect x="592.0" y="151.4" width="9.3" height="3.3" fill="#b0dd2f"/><rect x="601.0" y="151.4" width="6.3" height="3.3" fill="#addc30"/><rect x="607.0" y="151.4" width="6.3" height="3.3" fill="#aadc32"/><rect x="613.0" y="151.4" width="12.3" height="3.3" fill="#a8db34"/><rect x="625.0" y="151.4" width="63.3" height="3.3" fill="#a5db36"/><rect x="520.0" y="154.4" width="3.3" height="3.3" fill="#c5e021"/><rect x="523.0" y="154.4" width="15.3" height="3.3" fill="#c8e020"/><rect x="538.0" y="154.4" width="6.3" height="3.3" fill="#cae11f"/><rect x="544.0" y="154.4" width="6.3" height="3.3" fill="#cde11d"/><rect x="550.0" y="154.4" width="3.3" height="3.3" fill="#d0e11c"/><rect x="553.0" y="154.4" width="3.3" height="3.3" fill="#d2e21b"/><rect x="556.0" y="154.4" width="3.3" height="3.3" fill="#d8e219"/><rect x="559.0" y="154.4" width="3.3" height="3.3" fill="#dae319"/><rect x="562.0" y="154.4" width="3.3" height="3.3" fill="#dfe318"/><rect x="565.0" y="154.4" width="3.3" height="3.3" fill="#e2e418"/><rect x="568.0" y="154.4" width="3.3" height="3.3" fill="#e5e419"/><rect x="571.0" y="154.4" width="3.3" height="3.3" fill="#eae51a"/><rect x="574.0" y="154.4" width="3.3" height="3.3" fill="#ece51b"/><rect x="577.0" y="154.4" width="3.3" height="3.3" fill="#efe51c"/><rect x="580.0" y="154.4" width="9.3" height="3.3" fill="#f1e51d"/><rect x="589.0" y="154.4" width="3.3" height="3.3" fill="#efe51c"/><rect x="592.0" y="154.4" width="3.3" height="3.3" fill="#ece51b"/><rect x="595.0" y="154.4" width="3.3" height="3.3" fill="#eae51a"/><rect x="598.0" y="154.4" width="3.3" height="3.3" fill="#e7e419"/><rect x="601.0" y="154.4" width="3.3" height="3.3" fill="#e5e419"/><rect x="604.0" y="154.4" width="3.3" height="3.3" fill="#dfe318"/><rect x="607.0" y="154.4" width="3.3" height="3.3" fill="#dde318"/><rect x="610.0" y="154.4" width="3.3" height="3.3" fill="#d8e219"/><rect x="613.0" y="154.4" width="3.3" height="3.3" fill="#d5e21a"/><rect x="616.0" y="154.4" width="3.3" height="3.3" fill="#d2e21b"/><rect x="619.0" y="154.4" width="3.3" height="3.3" fill="#d0e11c"/><rect x="622.0" y="154.4" width="3.3" height="3.3" fill="#cde11d"/><rect x="625.0" y="154.4" width="6.3" height="3.3" fill="#cae11f"/><rect x="631.0" y="154.4" width="15.3" height="3.3" fill="#c8e020"/><rect x="646.0" y="154.4" width="42.3" height="3.3" fill="#c5e021"/><rect x="520.0" y="157.4" width="9.3" height="3.3" fill="#cae11f"/><rect x="529.0" y="157.4" width="9.3" height="3.3" fill="#cde11d"/><rect x="538.0" y="157.4" width="6.3" height="3.3" fill="#d0e11c"/><rect x="544.0" y="157.4" width="3.3" height="3.3" fill="#d2e21b"/><rect x="547.0" y="157.4" width="3.3" height="3.3" fill="#d5e21a"/><rect x="550.0" y="157.4" width="3.3" height="3.3" fill="#d8e219"/><rect x="553.0" y="157.4" width="3.3" height="3.3" fill="#dde318"/><rect x="556.0" y="157.4" width="3.3" height="3.3" fill="#e2e418"/><rect x="559.0" y="157.4" width="3.3" height="3.3" fill="#e7e419"/><rect x="562.0" y="157.4" width="3.3" height="3.3" fill="#ece51b"/><rect x="565.0" y="157.4" width="3.3" height="3.3" fill="#f1e51d"/><rect x="568.0" y="157.4" width="3.3" height="3.3" fill="#f6e620"/><rect x="571.0" y="157.4" width="3.3" height="3.3" fill="#fbe723"/><rect x="574.0" y="157.4" width="21.3" height="3.3" fill="#fde725"/><rect x="595.0" y="157.4" width="3.3" height="3.3" fill="#fbe723"/><rect x="598.0" y="157.4" width="3.3" height="3.3" fill="#f8e621"/><rect x="601.0" y="157.4" width="3.3" height="3.3" fill="#f1e51d"/><rect x="604.0" y="157.4" width="3.3" height="3.3" fill="#ece51b"/><rect x="607.0" y="157.4" width="3.3" height="3.3" fill="#e7e419"/><rect x="610.0" y="157.4" width="3.3" height="3.3" fill="#e2e418"/><rect x="613.0" y="157.4" width="3.3" height="3.3" fill="#dfe318"/><rect x="616.0" y="157.4" width="3.3" height="3.3" fill="#dae319"/><rect x="619.0" y="157.4" width="3.3" height="3.3" fill="#d8e219"/><rect x="622.0" y="157.4" width="6.3" height="3.3" fill="#d2e21b"/><rect x="628.0" y="157.4" width="3.3" height="3.3" fill="#d0e11c"/><rect x="631.0" y="157.4" width="9.3" height="3.3" fill="#cde11d"/><rect x="640.0" y="157.4" width="48.3" height="3.3" fill="#cae11f"/><rect x="520.0" y="160.4" width="15.3" height="3.3" fill="#a0da39"/><rect x="535.0" y="160.4" width="9.3" height="3.3" fill="#a2da37"/><rect x="544.0" y="160.4" width="6.3" height="3.3" fill="#a5db36"/><rect x="550.0" y="160.4" width="3.3" height="3.3" fill="#a8db34"/><rect x="553.0" y="160.4" width="3.3" height="3.3" fill="#aadc32"/><rect x="556.0" y="160.4" width="3.3" height="3.3" fill="#addc30"/><rect x="559.0" y="160.4" width="3.3" height="3.3" fill="#b0dd2f"/><rect x="562.0" y="160.4" width="3.3" height="3.3" fill="#b2dd2d"/><rect x="565.0" y="160.4" width="3.3" height="3.3" fill="#b5de2b"/><rect x="568.0" y="160.4" width="3.3" height="3.3" fill="#bade28"/><rect x="571.0" y="160.4" width="3.3" height="3.3" fill="#bddf26"/><rect x="574.0" y="160.4" width="6.3" height="3.3" fill="#c0df25"/><rect x="580.0" y="160.4" width="9.3" height="3.3" fill="#c2df23"/><rect x="589.0" y="160.4" width="6.3" height="3.3" fill="#c0df25"/><rect x="595.0" y="160.4" width="3.3" height="3.3" fill="#bddf26"/><rect x="598.0" y="160.4" width="3.3" height="3.3" fill="#bade28"/><rect x="601.0" y="160.4" width="3.3" height="3.3" fill="#b8de29"/><rect x="604.0" y="160.4" width="3.3" height="3.3" fill="#b5de2b"/><rect x="607.0" y="160.4" width="3.3" height="3.3" fill="#b0dd2f"/><rect x="610.0" y="160.4" width="3.3" height="3.3" fill="#addc30"/><rect x="613.0" y="160.4" width="3.3" height="3.3" fill="#aadc32"/><rect x="616.0" y="160.4" width="6.3" height="3.3" fill="#a8db34"/><rect x="622.0" y="160.4" width="3.3" height="3.3" fill="#a5db36"/><rect x="625.0" y="160.4" width="9.3" height="3.3" fill="#a2da37"/><rect x="634.0" y="160.4" width="54.3" height="3.3" fill="#a0da39"/><rect x="520.0" y="163.4" width="12.3" height="3.3" fill="#44bf70"/><rect x="532.0" y="163.4" width="24.3" height="3.3" fill="#46c06f"/><rect x="556.0" y="163.4" width="12.3" height="3.3" fill="#48c16e"/><rect x="568.0" y="163.4" width="33.3" height="3.3" fill="#4ac16d"/><rect x="601.0" y="163.4" width="12.3" height="3.3" fill="#48c16e"/><rect x="613.0" y="163.4" width="24.3" height="3.3" fill="#46c06f"/><rect x="637.0" y="163.4" width="51.3" height="3.3" fill="#44bf70"/><rect x="520.0" y="166.4" width="168.3" height="3.3" fill="#1e9b8a"/><rect x="520.0" y="169.4" width="168.3" height="3.3" fill="#2a778e"/><rect x="520.0" y="172.4" width="168.3" height="3.3" fill="#365d8d"/><rect x="520.0" y="175.4" width="168.3" height="3.3" fill="#404588"/><rect x="520.0" y="178.4" width="168.3" height="3.3" fill="#46307e"/><rect x="520.0" y="181.4" width="168.3" height="3.3" fill="#472f7d"/><rect x="520.0" y="184.4" width="168.3" height="3.3" fill="#472e7c"/><rect x="520.0" y="187.4" width="168.3" height="3.3" fill="#472e7c"/><rect x="520.0" y="190.4" width="168.3" height="3.3" fill="#472e7c"/></g></g>
<rect x="366.2" y="224.2" width="152.8" height="73" fill="#208b8a"/>
<g clip-path="url(#hc5)"><g filter="url(#hf5)"><rect x="523.5" y="220.3" width="162.3" height="2.3" fill="#46085c"/><rect x="523.5" y="222.3" width="162.3" height="2.3" fill="#46085c"/><rect x="523.5" y="224.3" width="162.3" height="2.3" fill="#460b5e"/><rect x="523.5" y="226.3" width="162.3" height="2.3" fill="#471164"/><rect x="523.5" y="228.3" width="162.3" height="2.3" fill="#482071"/><rect x="523.5" y="230.3" width="162.3" height="2.3" fill="#46327e"/><rect x="523.5" y="232.3" width="162.3" height="2.3" fill="#414487"/><rect x="523.5" y="234.3" width="162.3" height="2.3" fill="#39568c"/><rect x="523.5" y="236.3" width="162.3" height="2.3" fill="#31688e"/><rect x="523.5" y="238.3" width="162.3" height="2.3" fill="#2a788e"/><rect x="523.5" y="240.3" width="162.3" height="2.3" fill="#238a8d"/><rect x="523.5" y="242.3" width="162.3" height="2.3" fill="#1e9c89"/><rect x="523.5" y="244.3" width="162.3" height="2.3" fill="#27ad81"/><rect x="523.5" y="246.3" width="162.3" height="2.3" fill="#4ac16d"/><rect x="523.5" y="248.3" width="162.3" height="2.3" fill="#7ad151"/><rect x="523.5" y="250.3" width="162.3" height="2.3" fill="#b2dd2d"/><rect x="523.5" y="252.3" width="162.3" height="2.3" fill="#c8e020"/><rect x="523.5" y="254.3" width="162.3" height="2.3" fill="#dde318"/><rect x="523.5" y="256.3" width="162.3" height="2.3" fill="#f4e61e"/><rect x="523.5" y="258.3" width="162.3" height="2.3" fill="#fde725"/><rect x="523.5" y="260.3" width="162.3" height="2.3" fill="#fde725"/><rect x="523.5" y="262.3" width="162.3" height="2.3" fill="#fde725"/><rect x="523.5" y="264.3" width="162.3" height="2.3" fill="#f4e61e"/><rect x="523.5" y="266.3" width="162.3" height="2.3" fill="#dae319"/><rect x="523.5" y="268.3" width="162.3" height="2.3" fill="#c0df25"/><rect x="523.5" y="270.3" width="162.3" height="2.3" fill="#95d840"/><rect x="523.5" y="272.3" width="162.3" height="2.3" fill="#5ec962"/><rect x="523.5" y="274.3" width="162.3" height="2.3" fill="#35b779"/><rect x="523.5" y="276.3" width="162.3" height="2.3" fill="#20a486"/><rect x="523.5" y="278.3" width="162.3" height="2.3" fill="#20928c"/><rect x="523.5" y="280.3" width="162.3" height="2.3" fill="#26818e"/><rect x="523.5" y="282.3" width="162.3" height="2.3" fill="#2d708e"/><rect x="523.5" y="284.3" width="162.3" height="2.3" fill="#355f8d"/><rect x="523.5" y="286.3" width="162.3" height="2.3" fill="#3d4d8a"/><rect x="523.5" y="288.3" width="162.3" height="2.3" fill="#443a83"/><rect x="523.5" y="290.3" width="162.3" height="2.3" fill="#472a7a"/><rect x="523.5" y="292.3" width="162.3" height="2.3" fill="#481a6c"/><rect x="523.5" y="294.3" width="162.3" height="2.3" fill="#471063"/><rect x="523.5" y="296.3" width="162.3" height="2.3" fill="#460a5d"/><rect x="523.5" y="298.3" width="162.3" height="2.3" fill="#46085c"/><rect x="523.5" y="300.3" width="162.3" height="2.3" fill="#46085c"/></g></g>
<line x1="365" y1="36.8" x2="519" y2="36.8" stroke="#ffffff" stroke-opacity="0.4" stroke-width="1" stroke-dasharray="4 0.6"/>
<line x1="526.5" y1="36.8" x2="680" y2="36.8" stroke="#ffffff" stroke-opacity="0.4" stroke-width="1" stroke-dasharray="4 0.6"/>
<text x="369.00" y="11.50" font-family='"Liberation Sans", sans-serif' font-size="11.5" fill="#ffffff" font-weight="bold" font-style="normal" text-anchor="start" >c</text>
<text x="371.50" y="33.20" font-family='"Liberation Sans", sans-serif' font-size="9.8" fill="#ffffff" font-weight="bold" font-style="normal" text-anchor="start" >Inter-dendrite</text>
<text x="379.50" y="65.60" font-family='"Liberation Sans", sans-serif' font-size="10" fill="#ffffff" font-weight="bold" font-style="normal" text-anchor="start" >B</text>
<text x="470.80" y="10.90" font-family='"Liberation Sans", sans-serif' font-size="10" fill="#ffffff" font-weight="bold" font-style="normal" text-anchor="start" >B'</text>
<circle cx="393.3" cy="68.8" r="3.6" fill="#fff"/>
<circle cx="489.3" cy="3.5" r="3.7" fill="#fff"/>
<text x="502.5" y="9.9" font-family='"Liberation Serif", serif' font-size="12" font-style="italic" fill="#fff">ε<tspan font-size="8.8" dy="3" font-style="normal" letter-spacing="0.3">xx</tspan></text>
<text x="661.5" y="10.4" font-family='"Liberation Serif", serif' font-size="12" font-style="italic" fill="#fff">σ<tspan font-size="8.8" dy="3" font-style="normal" letter-spacing="0.3">xx</tspan></text>
<text x="502.5" y="122.39999999999999" font-family='"Liberation Serif", serif' font-size="12" font-style="italic" fill="#fff">ε<tspan font-size="8.8" dy="3" font-style="normal" letter-spacing="0.3">xx</tspan></text>
<text x="661.5" y="122.6" font-family='"Liberation Serif", serif' font-size="12" font-style="italic" fill="#fff">σ<tspan font-size="8.8" dy="3" font-style="normal" letter-spacing="0.3">xx</tspan></text>
<text x="502.5" y="234.4" font-family='"Liberation Serif", serif' font-size="12" font-style="italic" fill="#fff">ε<tspan font-size="8.8" dy="3" font-style="normal" letter-spacing="0.3">xx</tspan></text>
<text x="661.5" y="235.1" font-family='"Liberation Serif", serif' font-size="12" font-style="italic" fill="#fff">ε<tspan font-size="8.8" dy="3" font-style="normal" letter-spacing="0.3">yy</tspan></text>
<text x="530.00" y="11.10" font-family='"Liberation Sans", sans-serif' font-size="11.5" fill="#ffffff" font-weight="bold" font-style="normal" text-anchor="start" >d</text>
<text x="368.80" y="124.10" font-family='"Liberation Sans", sans-serif' font-size="11.8" fill="#ffffff" font-weight="bold" font-style="normal" text-anchor="start" >e</text>
<text x="532.20" y="124.00" font-family='"Liberation Sans", sans-serif' font-size="11.5" fill="#ffffff" font-weight="bold" font-style="normal" text-anchor="start" >f</text>
<text x="371.40" y="235.60" font-family='"Liberation Sans", sans-serif' font-size="12.3" fill="#ffffff" font-weight="bold" font-style="normal" text-anchor="start" >g</text>
<text x="533.40" y="236.90" font-family='"Liberation Sans", sans-serif' font-size="13" fill="#ffffff" font-weight="bold" font-style="normal" text-anchor="start" >h</text>
<circle cx="602.7" cy="226.7" r="3.5" fill="#fff"/>
<circle cx="602.1" cy="294.6" r="3.5" fill="#fff"/>
<text x="609.50" y="237.40" font-family='"Liberation Sans", sans-serif' font-size="11.5" fill="#ffffff" font-weight="bold" font-style="normal" text-anchor="start" >A’</text>
<text x="609.00" y="293.80" font-family='"Liberation Sans", sans-serif' font-size="11.5" fill="#ffffff" font-weight="bold" font-style="normal" text-anchor="start" >A</text>
<rect x="403.4" y="75" width="58.6" height="10" fill="url(#cb10)"/>
<text x="399.30" y="84.00" font-family='"Liberation Sans", sans-serif' font-size="10.5" fill="#1a1a1a" font-weight="normal" font-style="normal" text-anchor="end" >1.5</text>
<text x="465.00" y="84.00" font-family='"Liberation Sans", sans-serif' font-size="10.5" fill="#1a1a1a" font-weight="normal" font-style="normal" text-anchor="start" >2.5</text>
<text x="488.00" y="84.00" font-family='"Liberation Sans", sans-serif' font-size="10.5" fill="#1a1a1a" font-weight="normal" font-style="normal" text-anchor="start" >[%]</text>
<rect x="565.3" y="75" width="58.6" height="10" fill="url(#cb11)"/>
<text x="559.30" y="84.00" font-family='"Liberation Sans", sans-serif' font-size="10.5" fill="#1a1a1a" font-weight="normal" font-style="normal" text-anchor="end" >500</text>
<text x="627.00" y="84.00" font-family='"Liberation Sans", sans-serif' font-size="10.5" fill="#1a1a1a" font-weight="normal" font-style="normal" text-anchor="start" >1800</text>
<text x="655.50" y="84.00" font-family='"Liberation Sans", sans-serif' font-size="10.5" fill="#1a1a1a" font-weight="normal" font-style="normal" text-anchor="start" >[MPa]</text>
<text x="456.50" y="99.00" font-family='"Liberation Sans", sans-serif' font-size="11.2" fill="#1a1a1a" font-weight="normal" font-style="normal" text-anchor="start" >900°C / global strain=2%</text>
<rect x="403.2" y="187.5" width="58" height="10.1" fill="url(#cb12)"/>
<text x="399.50" y="196.60" font-family='"Liberation Sans", sans-serif' font-size="10.5" fill="#1a1a1a" font-weight="normal" font-style="normal" text-anchor="end" >3</text>
<text x="465.00" y="196.60" font-family='"Liberation Sans", sans-serif' font-size="10.5" fill="#1a1a1a" font-weight="normal" font-style="normal" text-anchor="start" >6</text>
<text x="488.00" y="196.60" font-family='"Liberation Sans", sans-serif' font-size="10.5" fill="#1a1a1a" font-weight="normal" font-style="normal" text-anchor="start" >[%]</text>
<rect x="567" y="187.5" width="57.8" height="10.1" fill="url(#cb13)"/>
<text x="562.80" y="196.60" font-family='"Liberation Sans", sans-serif' font-size="10.5" fill="#1a1a1a" font-weight="normal" font-style="normal" text-anchor="end" >500</text>
<text x="627.00" y="196.60" font-family='"Liberation Sans", sans-serif' font-size="10.5" fill="#1a1a1a" font-weight="normal" font-style="normal" text-anchor="start" >1200</text>
<text x="655.50" y="196.60" font-family='"Liberation Sans", sans-serif' font-size="10.5" fill="#1a1a1a" font-weight="normal" font-style="normal" text-anchor="start" >[MPa]</text>
<text x="455.50" y="210.80" font-family='"Liberation Sans", sans-serif' font-size="11.2" fill="#1a1a1a" font-weight="normal" font-style="normal" text-anchor="start" >900°C / global strain=5%</text>
<rect x="403.2" y="300.1" width="58.6" height="9.9" fill="url(#cb14)"/>
<text x="399.80" y="309.30" font-family='"Liberation Sans", sans-serif' font-size="10.5" fill="#1a1a1a" font-weight="normal" font-style="normal" text-anchor="end" >3.5</text>
<text x="465.00" y="309.30" font-family='"Liberation Sans", sans-serif' font-size="10.5" fill="#1a1a1a" font-weight="normal" font-style="normal" text-anchor="start" >4.5</text>
<text x="488.00" y="309.30" font-family='"Liberation Sans", sans-serif' font-size="10.5" fill="#1a1a1a" font-weight="normal" font-style="normal" text-anchor="start" >[%]</text>
<rect x="569.5" y="300.1" width="58.3" height="9.9" fill="url(#cb15)"/>
<text x="565.80" y="309.30" font-family='"Liberation Sans", sans-serif' font-size="10.5" fill="#1a1a1a" font-weight="normal" font-style="normal" text-anchor="end" >-1.5</text>
<text x="631.50" y="309.30" font-family='"Liberation Sans", sans-serif' font-size="10.5" fill="#1a1a1a" font-weight="normal" font-style="normal" text-anchor="start" >-1.2</text>
<text x="661.00" y="309.30" font-family='"Liberation Sans", sans-serif' font-size="10.5" fill="#1a1a1a" font-weight="normal" font-style="normal" text-anchor="start" >[%]</text>
<text x="445.50" y="326.40" font-family='"Liberation Sans", sans-serif' font-size="11.2" fill="#1a1a1a" font-weight="normal" font-style="normal" text-anchor="start" >980°C / global strain = 3.95%</text>
<polygon points="40.40,191.40 105.00,191.40 105.00,253.80 40.40,253.80" fill="#f4fafd" stroke="none" stroke-width="0" />
<polygon points="40.40,191.40 105.00,191.40 152.80,146.50 87.00,146.50" fill="#f8fbfe" stroke="none" stroke-width="0" />
<polygon points="105.00,191.40 105.00,253.80 152.80,208.00 152.80,146.50" fill="#eff7fb" stroke="none" stroke-width="0" />
<polygon points="161.70,74.70 226.50,74.70 272.10,30.60 207.50,30.60" fill="#f8fbfe" stroke="none" stroke-width="0" />
<polygon points="226.50,74.70 226.50,136.80 272.10,91.80 272.10,30.60" fill="#eff7fb" stroke="none" stroke-width="0" />
<polygon points="87.00,146.50 152.80,146.50 226.50,74.70 161.70,74.70" fill="#c4e9fa" stroke="none" stroke-width="0" />
<polygon points="152.80,146.50 152.80,208.00 226.50,136.80 226.50,74.70" fill="#9fd2e8" stroke="none" stroke-width="0" />
<polygon points="87.00,146.50 152.80,146.50 152.80,208.00 87.00,208.00" fill="#aee0f5" stroke="none" stroke-width="0" />
<line x1="73.6" y1="226.2" x2="242.2" y2="70.5" stroke="#ff2a2a" stroke-width="1.6" stroke-dasharray="1.6 1.9"/>
<g clip-path="url(#gaugeclip)"><line x1="73.6" y1="226.2" x2="242.2" y2="70.5" stroke="#a3446a" stroke-width="1.7" stroke-dasharray="1.7 1.8"/></g>
<g clip-path="url(#aboveL2)">
<polygon points="120.00,114.00 192.90,107.90 177.10,182.60 107.20,185.00" fill="#b8a79d" stroke="none" stroke-width="0" />
</g><g clip-path="url(#belowL2)">
<polygon points="120.00,114.00 192.90,107.90 177.10,182.60 107.20,185.00" fill="#a08b80" stroke="none" stroke-width="0" />
</g>
<polygon points="136.70,100.30 207.40,92.60 192.90,107.90 120.00,114.00" fill="#f58026" stroke="#5a3a20" stroke-width="0.5" />
<polygon points="207.40,92.60 193.30,167.90 178.60,182.60 177.10,182.60 192.90,107.90" fill="#f58026" stroke="#5a3a20" stroke-width="0.5" />
<polygon points="120.00,114.00 192.90,107.90 177.10,182.60 107.20,185.00" fill="none" stroke="#4a4040" stroke-width="0.5" />
<line x1="87.00" y1="146.50" x2="87.00" y2="208.00" stroke="#7a7a7a" stroke-width="0.9" />
<line x1="87.00" y1="208.00" x2="152.80" y2="208.00" stroke="#7a7a7a" stroke-width="0.9" />
<line x1="161.70" y1="74.70" x2="226.50" y2="74.70" stroke="#5a5a5a" stroke-width="0.9" />
<line x1="226.50" y1="74.70" x2="226.50" y2="136.80" stroke="#8a8a8a" stroke-width="0.9" />
<line x1="207.50" y1="30.60" x2="272.10" y2="30.60" stroke="#3a3a3a" stroke-width="1.0" />
<line x1="272.10" y1="30.60" x2="272.10" y2="91.80" stroke="#3a3a3a" stroke-width="1.0" />
<line x1="40.40" y1="191.40" x2="105.00" y2="191.40" stroke="#8a8a8a" stroke-width="1.4" />
<line x1="105.00" y1="191.40" x2="105.00" y2="253.80" stroke="#333" stroke-width="1.0" />
<line x1="105.00" y1="253.80" x2="40.40" y2="253.80" stroke="#555" stroke-width="1.0" />
<line x1="40.40" y1="253.80" x2="40.40" y2="191.40" stroke="#8a8a8a" stroke-width="1.4" />
<path d="M172.4,95.4 C172.0,86 174.5,78.5 179,74.2" fill="none" stroke="#b8a898" stroke-width="0.8"/>
<path d="M179,74.2 C182.5,70.6 186.5,67.6 191.0,65.2" fill="none" stroke="#ed7d31" stroke-width="0.9"/>
<polygon points="193.10,64.20 188.04,72.17 191.23,65.36 183.72,65.20" fill="#ed7d31" stroke="#ed7d31" stroke-width="0.5" stroke-linejoin="round"/>
<text x="188.60" y="60.00" font-family='"Liberation Sans", sans-serif' font-size="10" fill="#ed7d31" font-weight="bold" font-style="normal" text-anchor="start" >slip band</text>
<line x1="40.40" y1="191.40" x2="207.50" y2="30.60" stroke="#0070c0" stroke-width="2.5" />
<line x1="105.00" y1="191.40" x2="272.10" y2="30.60" stroke="#0070c0" stroke-width="2.5" />
<line x1="105.00" y1="253.80" x2="272.10" y2="91.80" stroke="#0070c0" stroke-width="2.5" />
<line x1="88.70" y1="146.40" x2="114.30" y2="146.40" stroke="#0070c0" stroke-width="1.8"/>
<polygon points="119.30,146.40 112.80,149.70 114.30,146.40 112.80,143.10" fill="#0070c0"/>
<line x1="152.80" y1="146.40" x2="125.00" y2="146.40" stroke="#0070c0" stroke-width="1.8"/>
<polygon points="120.00,146.40 126.50,143.10 125.00,146.40 126.50,149.70" fill="#0070c0"/>
<line x1="152.80" y1="147.00" x2="152.80" y2="174.00" stroke="#0070c0" stroke-width="1.8"/>
<polygon points="152.80,179.00 149.50,172.50 152.80,174.00 156.10,172.50" fill="#0070c0"/>
<line x1="152.80" y1="207.60" x2="152.80" y2="182.60" stroke="#0070c0" stroke-width="1.8"/>
<polygon points="152.80,177.60 156.10,184.10 152.80,182.60 149.50,184.10" fill="#0070c0"/>
<circle cx="88.7" cy="147.1" r="4.1" fill="#0070c0"/>
<circle cx="152.8" cy="147.0" r="4.1" fill="#0070c0"/>
<circle cx="152.8" cy="207.6" r="4.1" fill="#0070c0"/>
<circle cx="73.6" cy="226.2" r="5.6" fill="#ff0000"/>
<circle cx="242.2" cy="70.5" r="5.2" fill="#ff0000"/>
<path d="M247.7,69.1 C265,73 284,70 298.8,52.0" fill="none" stroke="#ff2020" stroke-width="0.8"/>
<polygon points="300.80,50.20 298.06,58.95 299.31,51.82 292.31,53.67" fill="#ff2020" stroke="#ff2020" stroke-width="0.5" stroke-linejoin="round"/>
<text x="278.80" y="44.30" font-family='"Liberation Sans", sans-serif' font-size="10.3" fill="#ff0000" font-weight="bold" font-style="normal" text-anchor="start" >dendrite core</text>
<line x1="73.60" y1="226.20" x2="57.40" y2="208.05" stroke="#0000ff" stroke-width="1.8"/>
<polygon points="53.60,203.80 62.54,207.21 57.40,208.05 55.98,213.07" fill="#0000ff"/>
<text x="56.2" y="203.1" font-family='"Liberation Serif", serif' font-size="18" font-style="italic" font-weight="bold" fill="#0000ff">r</text>
<line x1="40.40" y1="191.40" x2="22.67" y2="207.94" stroke="#1fb04c" stroke-width="1.8"/>
<polygon points="16.60,213.60 21.50,200.82 22.67,207.94 29.69,209.60" fill="#1fb04c"/>
<line x1="105.00" y1="191.40" x2="87.27" y2="207.94" stroke="#1fb04c" stroke-width="1.8"/>
<polygon points="81.20,213.60 86.10,200.82 87.27,207.94 94.29,209.60" fill="#1fb04c"/>
<line x1="40.40" y1="253.80" x2="22.67" y2="270.34" stroke="#1fb04c" stroke-width="1.8"/>
<polygon points="16.60,276.00 21.50,263.22 22.67,270.34 29.69,272.00" fill="#1fb04c"/>
<line x1="105.00" y1="253.80" x2="87.27" y2="270.34" stroke="#1fb04c" stroke-width="1.8"/>
<polygon points="81.20,276.00 86.10,263.22 87.27,270.34 94.29,272.00" fill="#1fb04c"/>
<polygon points="207.80,29.80 213.20,17.20 221.10,23.90" fill="#19c35a" stroke="#000" stroke-width="1.1" stroke-linejoin="round"/>
<polygon points="272.40,29.80 277.80,17.20 285.70,23.90" fill="#19c35a" stroke="#000" stroke-width="1.1" stroke-linejoin="round"/>
<polygon points="272.40,91.00 277.80,78.40 285.70,85.10" fill="#19c35a" stroke="#000" stroke-width="1.1" stroke-linejoin="round"/>
<line x1="40.40" y1="191.40" x2="15.00" y2="165.00" stroke="#1a1a1a" stroke-width="0.8" />
<line x1="207.50" y1="30.60" x2="181.00" y2="6.00" stroke="#1a1a1a" stroke-width="0.8" />
<line x1="103.00" y1="91.70" x2="24.95" y2="166.50" stroke="#1a1a1a" stroke-width="0.8"/>
<polygon points="21.20,170.10 24.76,162.25 24.95,166.50 29.19,166.87" fill="#1a1a1a"/>
<line x1="103.00" y1="91.70" x2="181.24" y2="16.99" stroke="#1a1a1a" stroke-width="0.8"/>
<polygon points="185.00,13.40 181.42,21.24 181.24,16.99 177.00,16.61" fill="#1a1a1a"/>
<line x1="86.00" y1="146.00" x2="75.30" y2="136.20" stroke="#1a1a1a" stroke-width="0.8" />
<line x1="161.70" y1="74.70" x2="150.30" y2="64.00" stroke="#1a1a1a" stroke-width="0.8" />
<line x1="118.80" y1="105.70" x2="86.47" y2="136.42" stroke="#1a1a1a" stroke-width="0.8"/>
<polygon points="82.70,140.00 86.30,132.17 86.47,136.42 90.70,136.81" fill="#1a1a1a"/>
<line x1="118.80" y1="105.70" x2="151.13" y2="74.98" stroke="#1a1a1a" stroke-width="0.8"/>
<polygon points="154.90,71.40 151.30,79.23 151.13,74.98 146.90,74.59" fill="#1a1a1a"/>
<line x1="40.40" y1="174.00" x2="40.40" y2="191.40" stroke="#1a1a1a" stroke-width="0.8" />
<line x1="105.00" y1="173.70" x2="105.00" y2="191.40" stroke="#1a1a1a" stroke-width="0.8" />
<line x1="72.70" y1="184.50" x2="46.10" y2="184.50" stroke="#1a1a1a" stroke-width="0.8"/>
<polygon points="40.90,184.50 48.90,181.30 46.10,184.50 48.90,187.70" fill="#1a1a1a"/>
<line x1="72.70" y1="184.50" x2="99.30" y2="184.50" stroke="#1a1a1a" stroke-width="0.8"/>
<polygon points="104.50,184.50 96.50,187.70 99.30,184.50 96.50,181.30" fill="#1a1a1a"/>
<text x="85.80" y="93.90" font-family='"Liberation Sans", sans-serif' font-size="12" fill="#1a1a1a" font-weight="normal" font-style="normal" text-anchor="start" >6λ</text>
<text x="101.00" y="107.30" font-family='"Liberation Sans", sans-serif' font-size="12" fill="#1a1a1a" font-weight="normal" font-style="normal" text-anchor="start" >3λ</text>
<text x="70.00" y="179.70" font-family='"Liberation Sans", sans-serif' font-size="11" fill="#1a1a1a" font-weight="bold" font-style="normal" text-anchor="start" >λ</text>
<line x1="79.40" y1="45.10" x2="63.17" y2="28.87" stroke="#1a1a1a" stroke-width="2.0"/>
<polygon points="59.00,24.70 67.98,27.74 63.17,28.87 62.04,33.68" fill="#1a1a1a"/>
<line x1="79.40" y1="45.10" x2="95.56" y2="32.44" stroke="#1a1a1a" stroke-width="2.0"/>
<polygon points="100.20,28.80 96.10,37.35 95.56,32.44 90.92,30.74" fill="#1a1a1a"/>
<line x1="79.40" y1="45.10" x2="68.00" y2="57.46" stroke="#1a1a1a" stroke-width="2.0"/>
<polygon points="64.00,61.80 66.67,52.70 68.00,57.46 72.85,58.40" fill="#1a1a1a"/>
<text x="25.00" y="38.60" font-family='"Liberation Sans", sans-serif' font-size="9.6" fill="#1a1a1a" font-weight="bold" font-style="normal" text-anchor="start" >[-110]/z</text>
<text x="100.60" y="25.30" font-family='"Liberation Sans", sans-serif' font-size="9.6" fill="#1a1a1a" font-weight="bold" font-style="normal" text-anchor="start" >[110]/y</text>
<text x="49.20" y="74.20" font-family='"Liberation Sans", sans-serif' font-size="9.6" fill="#1a1a1a" font-weight="bold" font-style="normal" text-anchor="start" >[001]/x</text>
<text x="0" y="0" transform="translate(18.0,100.6) scale(1,1.1)" font-family='"Liberation Sans", sans-serif' font-size="18.2" font-weight="bold" fill="#000">a</text>
<text x="195.50" y="10.00" font-family='"Liberation Sans", sans-serif' font-size="11.1" fill="#1fb04c" font-weight="normal" font-style="normal" text-anchor="start" >Constrains (uniformly distributed)</text>
<text x="63.00" y="288.40" font-family='"Liberation Sans", sans-serif' font-size="11.1" fill="#1fb04c" font-weight="normal" font-style="normal" text-anchor="middle" >Displacement</text>
<text x="63.00" y="300.40" font-family='"Liberation Sans", sans-serif' font-size="11.1" fill="#1fb04c" font-weight="normal" font-style="normal" text-anchor="middle" >(uniformly distributed)</text>
<text x="0" y="0" transform="translate(172.50,117.50) rotate(-43.9)" font-family='"Liberation Sans", sans-serif' font-size="10.3" fill="#1b75c6" font-weight="bold" text-anchor="middle" dominant-baseline="central">Dendrite core</text>
<text x="0" y="0" transform="translate(166.9,162.5) rotate(90) scale(1,1.22)" font-family='"Liberation Sans", sans-serif' font-size="9.5" fill="#1b75c6" font-weight="bold" text-anchor="middle">Dendrite</text>
<text x="0" y="0" transform="translate(155.8,162.0) rotate(90) scale(1,1.22)" font-family='"Liberation Sans", sans-serif' font-size="9.4" fill="#1b75c6" font-weight="bold" text-anchor="middle">arm</text>
<polyline points="108.81,253.72 111.18,256.16 156.63,212.10 154.27,209.66" fill="none" stroke="#5bc0eb" stroke-width="1.0"/>
<line x1="133.91" y1="234.13" x2="136.00" y2="236.29" stroke="#5bc0eb" stroke-width="1.0" />
<polyline points="155.27,208.69 157.64,211.13 229.82,141.14 227.46,138.70" fill="none" stroke="#1a6fc0" stroke-width="1.0"/>
<line x1="193.73" y1="176.14" x2="195.82" y2="178.29" stroke="#1a6fc0" stroke-width="1.0" />
<polyline points="228.63,137.57 230.99,140.01 275.44,96.92 273.07,94.48" fill="none" stroke="#5bc0eb" stroke-width="1.0"/>
<line x1="253.22" y1="118.46" x2="255.30" y2="120.62" stroke="#5bc0eb" stroke-width="1.0" />
<text x="0" y="0" transform="translate(203.21,183.24) rotate(-43.9)" font-family='"Liberation Sans", sans-serif' font-size="10.4" fill="#1a6fc0" font-weight="bold" text-anchor="middle" dominant-baseline="central">gauge region</text>
<text x="0" y="0" transform="translate(143.99,242.19) rotate(-43.9)" font-family='"Liberation Sans", sans-serif' font-size="10.4" fill="#5bc0eb" font-weight="bold" text-anchor="middle" dominant-baseline="central">transition region</text>
<text x="0" y="0" transform="translate(263.60,126.50) rotate(-43.9)" font-family='"Liberation Sans", sans-serif' font-size="10.4" fill="#5bc0eb" font-weight="bold" text-anchor="middle" dominant-baseline="central">transition region</text>
<rect x="209.6" y="194.4" width="149.8" height="143.0" fill="none" stroke="#d2d2d2" stroke-width="1"/>
<text x="212.00" y="208.30" font-family='"Liberation Sans", sans-serif' font-size="15" fill="#000" font-weight="bold" font-style="normal" text-anchor="start" >b</text>
<line x1="237.30" y1="203.40" x2="237.30" y2="236.00" stroke="#888" stroke-width="0.9" />
<line x1="267.30" y1="203.40" x2="267.30" y2="236.00" stroke="#888" stroke-width="0.9" />
<line x1="236.80" y1="203.40" x2="267.80" y2="203.40" stroke="#1a73c4" stroke-width="2.6" />
<line x1="236.80" y1="220.00" x2="267.80" y2="220.00" stroke="#ff0000" stroke-width="2.6" />
<line x1="236.80" y1="236.00" x2="267.80" y2="236.00" stroke="#1a73c4" stroke-width="2.6" />
<text x="271.80" y="205.80" font-family='"Liberation Sans", sans-serif' font-size="11" fill="#1a73c4" font-weight="bold" font-style="normal" text-anchor="start" >Dendrite core</text>
<text x="271.80" y="224.40" font-family='"Liberation Sans", sans-serif' font-size="11" fill="#ff0000" font-weight="bold" font-style="normal" text-anchor="start" >Inter-dendrite</text>
<text x="222.20" y="255.80" font-family='"Liberation Sans", sans-serif' font-size="11" fill="#000" font-weight="normal" font-style="normal" text-anchor="start" >Residual</text>
<text x="270.8" y="256" font-family='"Liberation Serif", serif' font-size="12.8" fill="#2f6db5"><tspan font-style="italic">F</tspan><tspan font-size="8.2" dx="0.6" dy="-5.2" font-family='"Liberation Sans", sans-serif' font-weight="bold">xx</tspan><tspan font-size="8.8" dx="-11.3" dy="8.4">p,0</tspan><tspan dx="4.3" dy="-3.2">= 0</tspan></text>
<line x1="254.30" y1="268.60" x2="243.40" y2="268.60" stroke="#000" stroke-width="0.8"/>
<polygon points="239.60,268.60 244.60,266.00 243.40,268.60 244.60,271.20" fill="#000"/>
<line x1="254.30" y1="268.60" x2="266.40" y2="268.60" stroke="#000" stroke-width="0.8"/>
<polygon points="270.20,268.60 265.20,271.20 266.40,268.60 265.20,266.00" fill="#000"/>
<rect x="251.6" y="266.1" width="5.4" height="5" fill="#1a73c4"/>
<text x="273.80" y="271.10" font-family='"Liberation Sans", sans-serif' font-size="11" fill="#000" font-weight="normal" font-style="normal" text-anchor="start" >Residual</text>
<text x="319.6" y="271.1" font-family='"Liberation Sans", sans-serif' font-size="11.6" fill="#1a73c4">σ<tspan font-size="8.6" dy="3">xx</tspan><tspan dy="-3">&gt;0</tspan></text>
<polygon points="254.30,275.80 261.00,283.00 257.30,283.00 257.30,294.60 261.00,294.60 254.30,301.80 247.60,294.60 251.30,294.60 251.30,283.00 247.60,283.00" fill="#a8a8a8" stroke="none" stroke-width="0" />
<text x="269.30" y="285.80" font-family='"Liberation Sans", sans-serif' font-size="9.8" fill="#9a9a9a" font-weight="normal" font-style="normal" text-anchor="start" >Deformation</text>
<text x="269.30" y="296.00" font-family='"Liberation Sans", sans-serif' font-size="9.8" fill="#9a9a9a" font-weight="normal" font-style="normal" text-anchor="start" >coordination</text>
<line x1="234.60" y1="308.00" x2="244.40" y2="308.00" stroke="#000" stroke-width="0.8"/>
<polygon points="248.20,308.00 243.20,310.60 244.40,308.00 243.20,305.40" fill="#000"/>
<line x1="271.50" y1="308.00" x2="262.60" y2="308.00" stroke="#000" stroke-width="0.8"/>
<polygon points="258.80,308.00 263.80,305.40 262.60,308.00 263.80,310.60" fill="#000"/>
<rect x="248.2" y="305.4" width="10.8" height="5.4" fill="#ff0000"/>
<text x="273.80" y="312.10" font-family='"Liberation Sans", sans-serif' font-size="11" fill="#000" font-weight="normal" font-style="normal" text-anchor="start" >Residual</text>
<text x="319.6" y="312.1" font-family='"Liberation Sans", sans-serif' font-size="11.6" fill="#ff0000">σ<tspan font-size="8.6" dy="3">xx</tspan><tspan dy="-3">&lt;0</tspan></text>
<text x="220.80" y="328.00" font-family='"Liberation Sans", sans-serif' font-size="11" fill="#000" font-weight="normal" font-style="normal" text-anchor="start" >Residual</text>
<text x="269.3" y="328.2" font-family='"Liberation Serif", serif' font-size="12.8" fill="#ff1a1a"><tspan font-style="italic">F</tspan><tspan font-size="8.2" dx="0.6" dy="-5.2" font-family='"Liberation Sans", sans-serif' font-weight="bold">xx</tspan><tspan font-size="8.8" dx="-11.3" dy="8.4">p,0</tspan><tspan dx="4.3" dy="-3.2">&gt; 0</tspan></text>
<text x="2.30" y="356.90" font-family='"Liberation Sans", sans-serif' font-size="14.5" fill="#000" font-weight="bold" font-style="normal" text-anchor="start" >i</text>
<path d="M41.50,511.00 C41.68,507.50 42.18,497.50 42.60,490.00 C43.02,482.50 43.50,472.83 44.00,466.00 C44.50,459.17 45.02,453.33 45.60,449.00 C46.18,444.67 46.68,442.25 47.50,440.00 C48.32,437.75 49.25,436.58 50.50,435.50 C51.75,434.42 52.55,434.37 55.00,433.50 C57.45,432.63 61.28,431.45 65.20,430.30 C69.12,429.15 73.93,427.95 78.50,426.60 C83.07,425.25 88.50,423.37 92.60,422.20 C96.70,421.03 98.73,421.07 103.10,419.60 C107.47,418.13 113.25,415.45 118.80,413.40 C124.35,411.35 130.55,409.43 136.40,407.30 C142.25,405.17 146.08,403.07 153.90,400.60 C161.72,398.13 171.35,395.83 183.30,392.50 C195.25,389.17 218.55,382.58 225.60,380.60" fill="none" stroke="#6a6a6a" stroke-width="1.3" stroke-dasharray="3.6 2.9" clip-path="url(#ci)"/>
<path d="M41.50,511.00 C41.77,507.85 42.45,497.95 43.10,492.10 C43.75,486.25 44.62,481.08 45.40,475.90 C46.18,470.72 46.95,465.43 47.80,461.00 C48.65,456.57 48.88,453.87 50.50,449.30 C52.12,444.73 54.87,437.68 57.50,433.60 C60.13,429.52 63.38,427.73 66.30,424.80 C69.22,421.87 72.08,418.92 75.00,416.00 C77.92,413.08 80.87,410.22 83.80,407.30 C86.73,404.38 89.68,401.27 92.60,398.50 C95.52,395.73 98.40,393.03 101.30,390.70 C104.20,388.37 107.08,386.40 110.00,384.50 C112.92,382.60 115.87,380.90 118.80,379.30 C121.73,377.70 124.67,376.52 127.60,374.90 C130.53,373.28 133.48,371.20 136.40,369.60 C139.32,368.00 142.42,366.60 145.10,365.30 C147.78,364.00 151.27,362.38 152.50,361.80" fill="none" stroke="#1ea0f0" stroke-width="1.3" stroke-dasharray="3.8 3" clip-path="url(#ci)"/>
<path d="M42.00,511.00 C42.38,507.08 43.53,494.13 44.30,487.50 C45.07,480.87 45.63,476.62 46.60,471.20 C47.57,465.78 48.93,459.83 50.10,455.00 C51.27,450.17 52.45,445.87 53.60,442.20 C54.75,438.53 55.45,436.48 57.00,433.00 C58.55,429.52 60.77,424.60 62.90,421.30 C65.03,418.00 67.10,415.52 69.80,413.20 C72.50,410.88 76.00,408.95 79.10,407.40 C82.20,405.85 85.30,405.03 88.40,403.90 C91.50,402.77 93.13,401.72 97.70,400.60 C102.27,399.48 106.65,398.23 115.80,397.20 C124.95,396.17 141.35,395.07 152.60,394.40 C163.85,393.73 171.13,393.57 183.30,393.20 C195.47,392.83 218.55,392.37 225.60,392.20" fill="none" stroke="#f03030" stroke-width="1.3" stroke-dasharray="4.5 4.5" clip-path="url(#ci)"/>
<polygon points="53.60,429.20 57.00,435.00 50.20,435.00" fill="#b8b8b8" stroke="#1a1a1a" stroke-width="0.8" stroke-linejoin="round"/>
<polygon points="78.10,423.00 81.50,428.80 74.70,428.80" fill="#b8b8b8" stroke="#1a1a1a" stroke-width="0.8" stroke-linejoin="round"/>
<polygon points="102.50,417.10 105.90,422.90 99.10,422.90" fill="#b8b8b8" stroke="#1a1a1a" stroke-width="0.8" stroke-linejoin="round"/>
<polygon points="151.60,404.00 155.00,409.80 148.20,409.80" fill="#b8b8b8" stroke="#1a1a1a" stroke-width="0.8" stroke-linejoin="round"/>
<polygon points="197.80,393.80 201.20,399.60 194.40,399.60" fill="#b8b8b8" stroke="#1a1a1a" stroke-width="0.8" stroke-linejoin="round"/>
<polygon points="41.50,507.00 44.90,512.80 38.10,512.80" fill="#19a0ec" stroke="#1a1a1a" stroke-width="0.8" stroke-linejoin="round"/>
<polygon points="49.40,453.20 52.80,459.00 46.00,459.00" fill="#19a0ec" stroke="#1a1a1a" stroke-width="0.8" stroke-linejoin="round"/>
<polygon points="52.40,424.60 55.80,430.40 49.00,430.40" fill="#19a0ec" stroke="#1a1a1a" stroke-width="0.8" stroke-linejoin="round"/>
<polygon points="71.00,406.80 74.40,412.60 67.60,412.60" fill="#19a0ec" stroke="#1a1a1a" stroke-width="0.8" stroke-linejoin="round"/>
<polygon points="92.10,391.30 95.50,397.10 88.70,397.10" fill="#19a0ec" stroke="#1a1a1a" stroke-width="0.8" stroke-linejoin="round"/>
<polygon points="140.40,376.90 143.80,382.70 137.00,382.70" fill="#19a0ec" stroke="#1a1a1a" stroke-width="0.8" stroke-linejoin="round"/>
<polygon points="47.20,460.80 50.60,466.60 43.80,466.60" fill="#f40000" stroke="#1a1a1a" stroke-width="0.8" stroke-linejoin="round"/>
<polygon points="50.60,435.80 54.00,441.60 47.20,441.60" fill="#f40000" stroke="#1a1a1a" stroke-width="0.8" stroke-linejoin="round"/>
<polygon points="59.30,412.10 62.70,417.90 55.90,417.90" fill="#f40000" stroke="#1a1a1a" stroke-width="0.8" stroke-linejoin="round"/>
<polygon points="88.80,401.30 92.20,407.10 85.40,407.10" fill="#f40000" stroke="#1a1a1a" stroke-width="0.8" stroke-linejoin="round"/>
<polygon points="156.40,391.30 159.80,397.10 153.00,397.10" fill="#f40000" stroke="#1a1a1a" stroke-width="0.8" stroke-linejoin="round"/>
<rect x="35.4" y="363.6" width="190.2" height="147.79999999999995" fill="none" stroke="#7a7a7a" stroke-width="1.1"/>
<line x1="32.40" y1="511.30" x2="35.40" y2="511.30" stroke="#7a7a7a" stroke-width="1.0" />
<line x1="225.60" y1="511.30" x2="222.60" y2="511.30" stroke="#7a7a7a" stroke-width="1.0" />
<text x="0" y="0" transform="translate(30.60,514.20) scale(1,1.22)" font-family='"Liberation Sans", sans-serif' font-size="9.6" fill="#2a2a2a" font-weight="normal" text-anchor="end">0</text>
<line x1="32.40" y1="466.90" x2="35.40" y2="466.90" stroke="#7a7a7a" stroke-width="1.0" />
<line x1="225.60" y1="466.90" x2="222.60" y2="466.90" stroke="#7a7a7a" stroke-width="1.0" />
<text x="0" y="0" transform="translate(30.60,469.80) scale(1,1.22)" font-family='"Liberation Sans", sans-serif' font-size="9.6" fill="#2a2a2a" font-weight="normal" text-anchor="end">300</text>
<line x1="32.40" y1="422.40" x2="35.40" y2="422.40" stroke="#7a7a7a" stroke-width="1.0" />
<line x1="225.60" y1="422.40" x2="222.60" y2="422.40" stroke="#7a7a7a" stroke-width="1.0" />
<text x="0" y="0" transform="translate(30.60,425.30) scale(1,1.22)" font-family='"Liberation Sans", sans-serif' font-size="9.6" fill="#2a2a2a" font-weight="normal" text-anchor="end">600</text>
<line x1="32.40" y1="377.90" x2="35.40" y2="377.90" stroke="#7a7a7a" stroke-width="1.0" />
<line x1="225.60" y1="377.90" x2="222.60" y2="377.90" stroke="#7a7a7a" stroke-width="1.0" />
<text x="0" y="0" transform="translate(30.60,380.80) scale(1,1.22)" font-family='"Liberation Sans", sans-serif' font-size="9.6" fill="#2a2a2a" font-weight="normal" text-anchor="end">900</text>
<line x1="41.50" y1="511.40" x2="41.50" y2="514.40" stroke="#7a7a7a" stroke-width="1.0" />
<line x1="41.50" y1="363.60" x2="41.50" y2="366.60" stroke="#7a7a7a" stroke-width="1.0" />
<text x="0" y="0" transform="translate(41.50,524.20) scale(1,1.22)" font-family='"Liberation Sans", sans-serif' font-size="9.6" fill="#2a2a2a" font-weight="normal" text-anchor="middle">0.00</text>
<line x1="102.90" y1="511.40" x2="102.90" y2="514.40" stroke="#7a7a7a" stroke-width="1.0" />
<line x1="102.90" y1="363.60" x2="102.90" y2="366.60" stroke="#7a7a7a" stroke-width="1.0" />
<text x="0" y="0" transform="translate(102.90,524.20) scale(1,1.22)" font-family='"Liberation Sans", sans-serif' font-size="9.6" fill="#2a2a2a" font-weight="normal" text-anchor="middle">0.05</text>
<line x1="164.30" y1="511.40" x2="164.30" y2="514.40" stroke="#7a7a7a" stroke-width="1.0" />
<line x1="164.30" y1="363.60" x2="164.30" y2="366.60" stroke="#7a7a7a" stroke-width="1.0" />
<text x="0" y="0" transform="translate(164.30,524.20) scale(1,1.22)" font-family='"Liberation Sans", sans-serif' font-size="9.6" fill="#2a2a2a" font-weight="normal" text-anchor="middle">0.10</text>
<line x1="225.70" y1="511.40" x2="225.70" y2="514.40" stroke="#7a7a7a" stroke-width="1.0" />
<line x1="225.70" y1="363.60" x2="225.70" y2="366.60" stroke="#7a7a7a" stroke-width="1.0" />
<text x="0" y="0" transform="translate(225.70,524.20) scale(1,1.22)" font-family='"Liberation Sans", sans-serif' font-size="9.6" fill="#2a2a2a" font-weight="normal" text-anchor="middle">0.15</text>
<text x="125.50" y="536.90" font-family='"Liberation Sans", sans-serif' font-size="12.2" fill="#000" font-weight="normal" font-style="normal" text-anchor="middle" >Strain</text>
<text x="0" y="0" transform="translate(9.4,437.9) rotate(-90)" font-family='"Liberation Sans", sans-serif' font-size="12.2" fill="#000" text-anchor="middle">Stress / MPa</text>
<polygon points="95.60,437.11 99.40,443.71 91.80,443.71" fill="#b8b8b8" stroke="#1a1a1a" stroke-width="0.8" stroke-linejoin="round"/>
<text x="0" y="0" transform="translate(106.60,442.30) scale(1,1.2)" font-family='"Liberation Sans", sans-serif' font-size="9.1" fill="#2a2a2a" font-weight="normal" text-anchor="start">RT without TGMs (Exp.)</text>
<line x1="84.40" y1="453.10" x2="103.60" y2="453.10" stroke="#6a6a6a" stroke-width="1.3" stroke-dasharray="6.5 7.6"/>
<text x="0" y="0" transform="translate(106.60,455.70) scale(1,1.2)" font-family='"Liberation Sans", sans-serif' font-size="9.1" fill="#2a2a2a" font-weight="normal" text-anchor="start">RT without TGMs (Sim.)</text>
<polygon points="95.60,461.01 99.40,467.61 91.80,467.61" fill="#19a0ec" stroke="#1a1a1a" stroke-width="0.8" stroke-linejoin="round"/>
<text x="0" y="0" transform="translate(105.70,467.40) scale(1,1.2)" font-family='"Liberation Sans", sans-serif' font-size="9.1" fill="#2a2a2a" font-weight="normal" text-anchor="start">760°C without TGMs (Exp.)</text>
<line x1="84.40" y1="476.70" x2="103.60" y2="476.70" stroke="#1ea0f0" stroke-width="1.3" stroke-dasharray="6.5 7.6"/>
<text x="0" y="0" transform="translate(105.70,480.00) scale(1,1.2)" font-family='"Liberation Sans", sans-serif' font-size="9.1" fill="#2a2a2a" font-weight="normal" text-anchor="start">760°C without TGMs (Sim.)</text>
<polygon points="95.60,486.11 99.40,492.71 91.80,492.71" fill="#f40000" stroke="#1a1a1a" stroke-width="0.8" stroke-linejoin="round"/>
<text x="0" y="0" transform="translate(105.70,492.30) scale(1,1.2)" font-family='"Liberation Sans", sans-serif' font-size="9.1" fill="#2a2a2a" font-weight="normal" text-anchor="start">900°C without TGMs (Exp.)</text>
<line x1="84.40" y1="501.50" x2="103.60" y2="501.50" stroke="#f03030" stroke-width="1.3" stroke-dasharray="6.5 7.6"/>
<text x="0" y="0" transform="translate(105.70,504.80) scale(1,1.2)" font-family='"Liberation Sans", sans-serif' font-size="9.1" fill="#2a2a2a" font-weight="normal" text-anchor="start">900°C without TGMs (Sim.)</text>
<text x="232.10" y="353.70" font-family='"Liberation Sans", sans-serif' font-size="14.5" fill="#000" font-weight="bold" font-style="normal" text-anchor="start" >j</text>
<path d="M263.40,380.60 C264.50,380.55 266.53,379.60 270.00,380.30 C273.47,381.00 279.40,382.95 284.20,384.80 C289.00,386.65 293.93,389.10 298.80,391.40 C303.67,393.70 308.53,396.40 313.40,398.60 C318.27,400.80 323.13,402.88 328.00,404.60 C332.87,406.32 338.70,408.02 342.60,408.90 C346.50,409.78 348.50,409.78 351.40,409.90 C354.30,410.02 356.60,410.02 360.00,409.60 C363.40,409.18 367.40,408.63 371.80,407.40 C376.20,406.17 381.53,404.18 386.40,402.20 C391.27,400.22 396.40,397.77 401.00,395.50 C405.60,393.23 410.12,390.52 414.00,388.60 C417.88,386.68 421.30,385.22 424.30,384.00 C427.30,382.78 429.80,381.85 432.00,381.30 C434.20,380.75 435.85,380.72 437.50,380.70 C439.15,380.68 441.17,381.12 441.90,381.20" fill="none" stroke="#f01818" stroke-width="1.5" clip-path="url(#cj)"/>
<path d="M276.90,387.70 C278.58,388.83 283.35,392.20 287.00,394.50 C290.65,396.80 294.40,399.00 298.80,401.50 C303.20,404.00 308.53,406.62 313.40,409.50 C318.27,412.38 323.40,416.28 328.00,418.80 C332.60,421.32 336.62,423.13 341.00,424.60 C345.38,426.07 350.63,427.15 354.30,427.60 C357.97,428.05 360.08,427.72 363.00,427.30 C365.92,426.88 367.90,426.68 371.80,425.10 C375.70,423.52 382.37,420.48 386.40,417.80 C390.43,415.12 393.57,411.43 396.00,409.00 C398.43,406.57 399.50,405.37 401.00,403.20 C402.50,401.03 403.55,398.43 405.00,396.00 C406.45,393.57 408.20,390.52 409.70,388.60 C411.20,386.68 412.53,385.52 414.00,384.50 C415.47,383.48 417.75,382.83 418.50,382.50" fill="none" stroke="#f01818" stroke-width="1.5" stroke-dasharray="3 2.2" clip-path="url(#cj)"/>
<path d="M263.40,474.70 C264.50,474.68 266.53,474.18 270.00,474.60 C273.47,475.02 279.40,475.88 284.20,477.20 C289.00,478.52 293.93,480.67 298.80,482.50 C303.67,484.33 308.53,486.55 313.40,488.20 C318.27,489.85 323.13,491.33 328.00,492.40 C332.87,493.47 338.22,494.15 342.60,494.60 C346.98,495.05 350.57,495.07 354.30,495.10 C358.03,495.13 361.22,495.15 365.00,494.80 C368.78,494.45 373.00,493.83 377.00,493.00 C381.00,492.17 385.00,491.03 389.00,489.80 C393.00,488.57 397.00,487.07 401.00,485.60 C405.00,484.13 409.12,482.38 413.00,481.00 C416.88,479.62 421.13,478.25 424.30,477.30 C427.47,476.35 429.80,475.73 432.00,475.30 C434.20,474.87 435.85,474.70 437.50,474.70 C439.15,474.70 441.17,475.20 441.90,475.30" fill="none" stroke="#1818f0" stroke-width="1.5" clip-path="url(#cj)"/>
<path d="M276.90,465.00 C278.58,465.75 283.35,468.28 287.00,469.50 C290.65,470.72 294.40,471.38 298.80,472.30 C303.20,473.22 308.53,473.78 313.40,475.00 C318.27,476.22 323.13,478.10 328.00,479.60 C332.87,481.10 337.73,483.00 342.60,484.00 C347.47,485.00 353.30,485.37 357.20,485.60 C361.10,485.83 362.12,486.15 366.00,485.40 C369.88,484.65 375.65,483.03 380.50,481.10 C385.35,479.17 390.72,476.48 395.10,473.80 C399.48,471.12 403.82,467.27 406.80,465.00 C409.78,462.73 411.30,461.27 413.00,460.20 C414.70,459.13 415.35,458.90 417.00,458.60 C418.65,458.30 421.92,458.43 422.90,458.40" fill="none" stroke="#1818f0" stroke-width="1.5" stroke-dasharray="3 2.2" clip-path="url(#cj)"/>
<line x1="351.40" y1="409.70" x2="437.80" y2="409.70" stroke="#7a7a7a" stroke-width="0.8" />
<line x1="437.80" y1="380.70" x2="437.80" y2="409.70" stroke="#7a7a7a" stroke-width="0.8" />
<line x1="354.30" y1="494.60" x2="438.40" y2="494.60" stroke="#7a7a7a" stroke-width="0.8" />
<line x1="438.40" y1="474.70" x2="438.40" y2="494.60" stroke="#7a7a7a" stroke-width="0.8" />
<circle cx="437.8" cy="380.7" r="2.9" fill="#000"/>
<circle cx="437.8" cy="409.7" r="2.9" fill="#000"/>
<circle cx="438.4" cy="474.7" r="2.9" fill="#000"/>
<circle cx="438.4" cy="494.6" r="2.9" fill="#000"/>
<text x="0" y="0" transform="translate(401.80,407.80) scale(1,1.25)" font-family='"Liberation Sans", sans-serif' font-size="9.8" fill="#000" font-weight="normal" text-anchor="start">Δ=1.1%</text>
<text x="0" y="0" transform="translate(396.00,493.60) scale(1,1.25)" font-family='"Liberation Sans", sans-serif' font-size="9.8" fill="#000" font-weight="normal" text-anchor="start">Δ=0.75%</text>
<rect x="263.5" y="363.3" width="184.5" height="147.0" fill="none" stroke="#7a7a7a" stroke-width="1.1"/>
<line x1="260.50" y1="470.50" x2="263.50" y2="470.50" stroke="#7a7a7a" stroke-width="1.0" />
<line x1="448.00" y1="470.50" x2="445.00" y2="470.50" stroke="#7a7a7a" stroke-width="1.0" />
<text x="0" y="0" transform="translate(259.60,474.10) scale(1,1.0)" font-family='"Liberation Sans", sans-serif' font-size="10.0" fill="#2a2a2a" font-weight="normal" text-anchor="end">0.08</text>
<line x1="260.50" y1="417.00" x2="263.50" y2="417.00" stroke="#7a7a7a" stroke-width="1.0" />
<line x1="448.00" y1="417.00" x2="445.00" y2="417.00" stroke="#7a7a7a" stroke-width="1.0" />
<text x="0" y="0" transform="translate(259.60,420.60) scale(1,1.0)" font-family='"Liberation Sans", sans-serif' font-size="10.0" fill="#2a2a2a" font-weight="normal" text-anchor="end">0.10</text>
<line x1="260.50" y1="363.40" x2="263.50" y2="363.40" stroke="#7a7a7a" stroke-width="1.0" />
<line x1="448.00" y1="363.40" x2="445.00" y2="363.40" stroke="#7a7a7a" stroke-width="1.0" />
<text x="0" y="0" transform="translate(259.60,367.00) scale(1,1.0)" font-family='"Liberation Sans", sans-serif' font-size="10.0" fill="#2a2a2a" font-weight="normal" text-anchor="end">0.12</text>
<line x1="263.60" y1="510.30" x2="263.60" y2="513.30" stroke="#7a7a7a" stroke-width="1.0" />
<line x1="263.60" y1="363.30" x2="263.60" y2="366.30" stroke="#7a7a7a" stroke-width="1.0" />
<text x="0" y="0" transform="translate(263.60,523.80) scale(1,1.0)" font-family='"Liberation Sans", sans-serif' font-size="10.8" fill="#2a2a2a" font-weight="normal" text-anchor="middle">0</text>
<line x1="325.10" y1="510.30" x2="325.10" y2="513.30" stroke="#7a7a7a" stroke-width="1.0" />
<line x1="325.10" y1="363.30" x2="325.10" y2="366.30" stroke="#7a7a7a" stroke-width="1.0" />
<text x="0" y="0" transform="translate(325.10,523.80) scale(1,1.0)" font-family='"Liberation Sans", sans-serif' font-size="10.8" fill="#2a2a2a" font-weight="normal" text-anchor="middle">9</text>
<line x1="387.30" y1="510.30" x2="387.30" y2="513.30" stroke="#7a7a7a" stroke-width="1.0" />
<line x1="387.30" y1="363.30" x2="387.30" y2="366.30" stroke="#7a7a7a" stroke-width="1.0" />
<text x="0" y="0" transform="translate(387.30,523.80) scale(1,1.0)" font-family='"Liberation Sans", sans-serif' font-size="10.8" fill="#2a2a2a" font-weight="normal" text-anchor="middle">17</text>
<line x1="448.30" y1="510.30" x2="448.30" y2="513.30" stroke="#7a7a7a" stroke-width="1.0" />
<line x1="448.30" y1="363.30" x2="448.30" y2="366.30" stroke="#7a7a7a" stroke-width="1.0" />
<text x="0" y="0" transform="translate(448.30,523.80) scale(1,1.0)" font-family='"Liberation Sans", sans-serif' font-size="10.8" fill="#2a2a2a" font-weight="normal" text-anchor="middle">26</text>
<text x="355.00" y="536.30" font-family='"Liberation Sans", sans-serif' font-size="12.2" fill="#000" font-weight="normal" font-style="normal" text-anchor="middle" >Distance along B-B' path / μm</text>
<text x="0" y="0" transform="translate(240.6,436.6) rotate(-90)" font-family='"Liberation Sans", sans-serif' font-size="15" fill="#000" text-anchor="middle"><tspan font-style="italic">ε</tspan><tspan font-size="7.8" dy="3.9">xx</tspan></text>
<line x1="269.60" y1="372.50" x2="284.20" y2="372.50" stroke="#1818f0" stroke-width="1.3" />
<text x="284.40" y="376.00" font-family='"Liberation Sans", sans-serif' font-size="10" fill="#2a2a2a"><tspan font-style="italic" font-family='"Liberation Serif", serif' font-size="11">ε</tspan>=5.7%</text>
<line x1="286.20" y1="369.40" x2="290.00" y2="369.40" stroke="#2a2a2a" stroke-width="0.7" />
<line x1="321.60" y1="372.50" x2="335.30" y2="372.50" stroke="#f01818" stroke-width="1.3" />
<text x="335.40" y="376.00" font-family='"Liberation Sans", sans-serif' font-size="10" fill="#2a2a2a"><tspan font-style="italic" font-family='"Liberation Serif", serif' font-size="11">ε</tspan>=8.6%</text>
<line x1="337.20" y1="369.40" x2="341.00" y2="369.40" stroke="#2a2a2a" stroke-width="0.7" />
<line x1="371.80" y1="372.50" x2="387.80" y2="372.50" stroke="#000" stroke-width="2.2" />
<text x="389.30" y="376.00" font-family='"Liberation Sans", sans-serif' font-size="10" fill="#2a2a2a" font-weight="normal" font-style="normal" text-anchor="start" >Sim.</text>
<line x1="411.20" y1="372.50" x2="424.60" y2="372.50" stroke="#000" stroke-width="1.8" stroke-dasharray="2 1.3"/>
<text x="428.70" y="376.00" font-family='"Liberation Sans", sans-serif' font-size="10" fill="#2a2a2a" font-weight="normal" font-style="normal" text-anchor="start" >Exp.</text>
<text x="464.60" y="355.90" font-family='"Liberation Sans", sans-serif' font-size="14.5" fill="#000" font-weight="bold" font-style="normal" text-anchor="start" >k</text>
<path d="M506.10,420.20 C507.42,419.80 511.23,418.77 514.00,417.80 C516.77,416.83 519.03,416.10 522.70,414.40 C526.37,412.70 531.37,410.10 536.00,407.60 C540.63,405.10 546.17,401.83 550.50,399.40 C554.83,396.97 558.30,394.67 562.00,393.00 C565.70,391.33 569.37,390.37 572.70,389.40 C576.03,388.43 578.77,387.72 582.00,387.20 C585.23,386.68 589.10,386.43 592.10,386.30 C595.10,386.17 597.68,386.25 600.00,386.40 C602.32,386.55 603.83,386.63 606.00,387.20 C608.17,387.77 610.70,388.70 613.00,389.80 C615.30,390.90 617.47,392.27 619.80,393.80 C622.13,395.33 624.68,397.20 627.00,399.00 C629.32,400.80 631.20,402.72 633.70,404.60 C636.20,406.48 639.23,408.63 642.00,410.30 C644.77,411.97 647.63,413.35 650.30,414.60 C652.97,415.85 655.45,416.87 658.00,417.80 C660.55,418.73 664.33,419.80 665.60,420.20" fill="none" stroke="#1818f0" stroke-width="1.5" clip-path="url(#ck)"/>
<path d="M498.40,427.80 C500.43,427.08 506.55,425.20 510.60,423.50 C514.65,421.80 518.47,419.85 522.70,417.60 C526.93,415.35 531.37,412.57 536.00,410.00 C540.63,407.43 545.83,404.63 550.50,402.20 C555.17,399.77 559.38,397.47 564.00,395.40 C568.62,393.33 574.37,391.27 578.20,389.80 C582.03,388.33 584.22,387.32 587.00,386.60 C589.78,385.88 592.23,385.53 594.90,385.50 C597.57,385.47 600.23,385.85 603.00,386.40 C605.77,386.95 608.67,387.63 611.50,388.80 C614.33,389.97 617.23,391.63 620.00,393.40 C622.77,395.17 625.43,397.42 628.10,399.40 C630.77,401.38 633.22,403.45 636.00,405.30 C638.78,407.15 642.13,409.17 644.80,410.50 C647.47,411.83 649.23,412.62 652.00,413.30 C654.77,413.98 658.40,414.42 661.40,414.60 C664.40,414.78 666.90,414.50 670.00,414.40 C673.10,414.30 678.33,414.07 680.00,414.00" fill="none" stroke="#1818f0" stroke-width="1.8" stroke-dasharray="4.5 2.5" clip-path="url(#ck)"/>
<path d="M507.00,485.80 C508.17,485.68 511.47,485.47 514.00,485.10 C516.53,484.73 519.53,484.22 522.20,483.60 C524.87,482.98 527.22,482.23 530.00,481.40 C532.78,480.57 536.07,479.63 538.90,478.60 C541.73,477.57 544.20,476.30 547.00,475.20 C549.80,474.10 552.87,472.93 555.70,472.00 C558.53,471.07 561.20,470.27 564.00,469.60 C566.80,468.93 569.83,468.40 572.50,468.00 C575.17,467.60 577.20,467.37 580.00,467.20 C582.80,467.03 586.30,466.93 589.30,467.00 C592.30,467.07 595.20,467.20 598.00,467.60 C600.80,468.00 603.43,468.67 606.10,469.40 C608.77,470.13 611.20,471.00 614.00,472.00 C616.80,473.00 620.07,474.30 622.90,475.40 C625.73,476.50 628.20,477.58 631.00,478.60 C633.80,479.62 636.87,480.67 639.70,481.50 C642.53,482.33 645.20,483.03 648.00,483.60 C650.80,484.17 653.68,484.58 656.50,484.90 C659.32,485.22 663.50,485.40 664.90,485.50" fill="none" stroke="#f01818" stroke-width="1.5" clip-path="url(#ck)"/>
<path d="M498.40,478.80 C500.33,478.75 506.03,478.70 510.00,478.50 C513.97,478.30 517.53,478.22 522.20,477.60 C526.87,476.98 532.42,475.80 538.00,474.80 C543.58,473.80 551.37,472.42 555.70,471.60 C560.03,470.78 561.20,470.42 564.00,469.90 C566.80,469.38 569.83,468.85 572.50,468.50 C575.17,468.15 577.20,467.95 580.00,467.80 C582.80,467.65 586.30,467.62 589.30,467.60 C592.30,467.58 595.20,467.62 598.00,467.70 C600.80,467.78 603.43,467.88 606.10,468.10 C608.77,468.32 611.20,468.60 614.00,469.00 C616.80,469.40 620.07,469.98 622.90,470.50 C625.73,471.02 628.20,471.52 631.00,472.10 C633.80,472.68 636.87,473.32 639.70,474.00 C642.53,474.68 645.20,475.53 648.00,476.20 C650.80,476.87 653.67,477.35 656.50,478.00 C659.33,478.65 662.20,479.37 665.00,480.10 C667.80,480.83 671.92,482.02 673.30,482.40" fill="none" stroke="#f01818" stroke-width="1.8" stroke-dasharray="4.5 2.5" clip-path="url(#ck)"/>
<line x1="592.10" y1="386.60" x2="666.40" y2="386.60" stroke="#7a7a7a" stroke-width="0.8" />
<line x1="666.40" y1="386.60" x2="666.40" y2="419.60" stroke="#7a7a7a" stroke-width="0.8" />
<line x1="586.00" y1="466.40" x2="665.90" y2="466.40" stroke="#7a7a7a" stroke-width="0.8" />
<line x1="665.90" y1="466.40" x2="665.90" y2="485.50" stroke="#7a7a7a" stroke-width="0.8" />
<circle cx="666.4" cy="386.8" r="2.9" fill="#000"/>
<circle cx="666.4" cy="419.5" r="2.9" fill="#000"/>
<circle cx="665.9" cy="466.4" r="2.9" fill="#000"/>
<circle cx="665.9" cy="485.5" r="2.9" fill="#000"/>
<text x="0" y="0" transform="translate(627.60,429.40) scale(1,1.25)" font-family='"Liberation Sans", sans-serif' font-size="9.8" fill="#000" font-weight="normal" text-anchor="start">Δ=0.3%</text>
<text x="0" y="0" transform="translate(624.60,497.00) scale(1,1.25)" font-family='"Liberation Sans", sans-serif' font-size="9.8" fill="#000" font-weight="normal" text-anchor="start">Δ=0.18%</text>
<rect x="498.3" y="361.5" width="181.7" height="148.5" fill="none" stroke="#7a7a7a" stroke-width="1.1"/>
<rect x="495.8" y="440.3" width="5" height="3.2" fill="#fff"/>
<line x1="495.10" y1="441.50" x2="501.10" y2="439.30" stroke="#333" stroke-width="0.9" />
<line x1="495.10" y1="444.70" x2="501.10" y2="442.50" stroke="#333" stroke-width="0.9" />
<rect x="677.5" y="440.3" width="5" height="3.2" fill="#fff"/>
<line x1="676.80" y1="441.50" x2="682.80" y2="439.30" stroke="#333" stroke-width="0.9" />
<line x1="676.80" y1="444.70" x2="682.80" y2="442.50" stroke="#333" stroke-width="0.9" />
<line x1="495.30" y1="384.10" x2="498.30" y2="384.10" stroke="#7a7a7a" stroke-width="1.0" />
<line x1="680.00" y1="384.10" x2="677.00" y2="384.10" stroke="#7a7a7a" stroke-width="1.0" />
<text x="0" y="0" transform="translate(493.40,388.10) scale(1,1.0)" font-family='"Liberation Sans", sans-serif' font-size="10.8" fill="#2a2a2a" font-weight="normal" text-anchor="end">-0.012</text>
<line x1="495.30" y1="417.90" x2="498.30" y2="417.90" stroke="#7a7a7a" stroke-width="1.0" />
<line x1="680.00" y1="417.90" x2="677.00" y2="417.90" stroke="#7a7a7a" stroke-width="1.0" />
<text x="0" y="0" transform="translate(493.40,421.90) scale(1,1.0)" font-family='"Liberation Sans", sans-serif' font-size="10.8" fill="#2a2a2a" font-weight="normal" text-anchor="end">-0.015</text>
<line x1="495.30" y1="464.70" x2="498.30" y2="464.70" stroke="#7a7a7a" stroke-width="1.0" />
<line x1="680.00" y1="464.70" x2="677.00" y2="464.70" stroke="#7a7a7a" stroke-width="1.0" />
<text x="0" y="0" transform="translate(493.40,468.70) scale(1,1.0)" font-family='"Liberation Sans", sans-serif' font-size="10.8" fill="#2a2a2a" font-weight="normal" text-anchor="end">-0.048</text>
<line x1="495.30" y1="499.60" x2="498.30" y2="499.60" stroke="#7a7a7a" stroke-width="1.0" />
<line x1="680.00" y1="499.60" x2="677.00" y2="499.60" stroke="#7a7a7a" stroke-width="1.0" />
<text x="0" y="0" transform="translate(493.40,503.60) scale(1,1.0)" font-family='"Liberation Sans", sans-serif' font-size="10.8" fill="#2a2a2a" font-weight="normal" text-anchor="end">-0.051</text>
<line x1="498.30" y1="510.00" x2="498.30" y2="513.00" stroke="#7a7a7a" stroke-width="1.0" />
<line x1="498.30" y1="361.50" x2="498.30" y2="364.50" stroke="#7a7a7a" stroke-width="1.0" />
<text x="0" y="0" transform="translate(498.30,523.80) scale(1,1.0)" font-family='"Liberation Sans", sans-serif' font-size="10.8" fill="#2a2a2a" font-weight="normal" text-anchor="middle">0</text>
<line x1="558.70" y1="510.00" x2="558.70" y2="513.00" stroke="#7a7a7a" stroke-width="1.0" />
<line x1="558.70" y1="361.50" x2="558.70" y2="364.50" stroke="#7a7a7a" stroke-width="1.0" />
<text x="0" y="0" transform="translate(558.70,523.80) scale(1,1.0)" font-family='"Liberation Sans", sans-serif' font-size="10.8" fill="#2a2a2a" font-weight="normal" text-anchor="middle">5</text>
<line x1="619.20" y1="510.00" x2="619.20" y2="513.00" stroke="#7a7a7a" stroke-width="1.0" />
<line x1="619.20" y1="361.50" x2="619.20" y2="364.50" stroke="#7a7a7a" stroke-width="1.0" />
<text x="0" y="0" transform="translate(619.20,523.80) scale(1,1.0)" font-family='"Liberation Sans", sans-serif' font-size="10.8" fill="#2a2a2a" font-weight="normal" text-anchor="middle">10</text>
<line x1="679.60" y1="510.00" x2="679.60" y2="513.00" stroke="#7a7a7a" stroke-width="1.0" />
<line x1="679.60" y1="361.50" x2="679.60" y2="364.50" stroke="#7a7a7a" stroke-width="1.0" />
<text x="0" y="0" transform="translate(679.60,523.80) scale(1,1.0)" font-family='"Liberation Sans", sans-serif' font-size="10.8" fill="#2a2a2a" font-weight="normal" text-anchor="middle">15</text>
<text x="585.60" y="536.00" font-family='"Liberation Sans", sans-serif' font-size="12.2" fill="#000" font-weight="normal" font-style="normal" text-anchor="middle" >Distance along A-A' path / μm</text>
<text x="0" y="0" transform="translate(464.7,436.6) rotate(-90)" font-family='"Liberation Sans", sans-serif' font-size="14" fill="#000" text-anchor="middle"><tspan font-style="italic">ε</tspan><tspan font-size="8.2" dy="4.0">yy</tspan></text>
<line x1="503.30" y1="372.20" x2="520.50" y2="372.20" stroke="#1818f0" stroke-width="1.3" />
<text x="520.30" y="375.80" font-family='"Liberation Sans", sans-serif' font-size="10" fill="#2a2a2a"><tspan font-style="italic" font-family='"Liberation Serif", serif' font-size="11">ε</tspan>=3.2%</text>
<line x1="522.10" y1="369.20" x2="525.90" y2="369.20" stroke="#2a2a2a" stroke-width="0.7" />
<line x1="554.60" y1="372.20" x2="569.90" y2="372.20" stroke="#f01818" stroke-width="1.3" />
<text x="569.90" y="375.80" font-family='"Liberation Sans", sans-serif' font-size="10" fill="#2a2a2a"><tspan font-style="italic" font-family='"Liberation Serif", serif' font-size="11">ε</tspan>=12%</text>
<line x1="571.70" y1="369.20" x2="575.50" y2="369.20" stroke="#2a2a2a" stroke-width="0.7" />
<line x1="603.20" y1="372.20" x2="617.00" y2="372.20" stroke="#000" stroke-width="2.2" />
<text x="619.30" y="375.80" font-family='"Liberation Sans", sans-serif' font-size="10" fill="#2a2a2a" font-weight="normal" font-style="normal" text-anchor="start" >Sim.</text>
<line x1="641.50" y1="372.20" x2="655.30" y2="372.20" stroke="#000" stroke-width="1.8" stroke-dasharray="2 1.3"/>
<text x="658.10" y="375.80" font-family='"Liberation Sans", sans-serif' font-size="10" fill="#2a2a2a" font-weight="normal" font-style="normal" text-anchor="start" >Exp.</text></svg></body></html>
